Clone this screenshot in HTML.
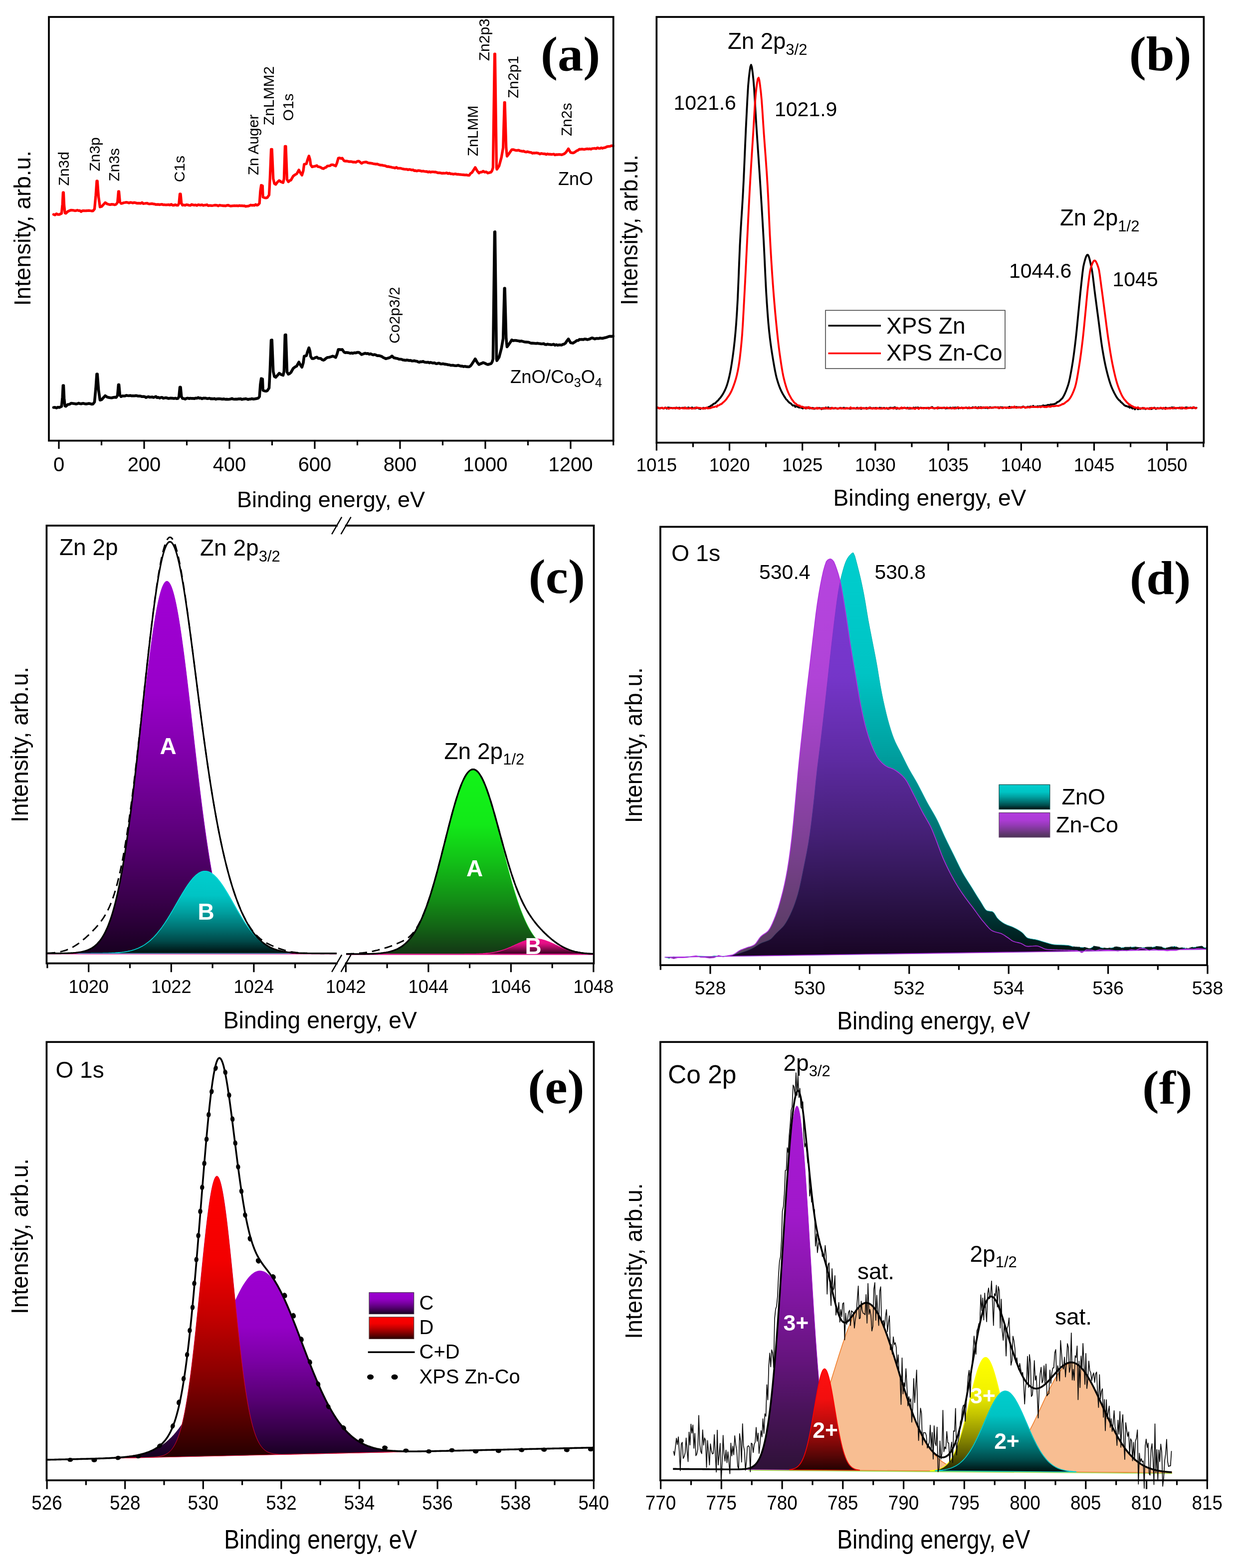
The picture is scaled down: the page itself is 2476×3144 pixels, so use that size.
<!DOCTYPE html>
<html lang="en"><head><meta charset="utf-8"><title>XPS spectra</title>
<style>
html,body{margin:0;padding:0;background:#fff}
svg{display:block;filter:blur(0.6px)}
text{font-family:"Liberation Sans",sans-serif}
.ser{font-family:"Liberation Serif",serif}
</style></head><body>
<svg width="2476" height="3144" viewBox="0 0 2476 3144">
<rect width="2476" height="3144" fill="#fff"/>
<g>
<path d="M107.4 430 L110.3 431.1 L113.2 428.6 L116.1 430.2 L119 430 L123.4 428 L125.2 410 L126.4 386 L127.4 386 L128.6 412 L130.2 427 L132 427.8 L136 424 L139.3 422.4 L142.6 421.4 L146.3 421.7 L150 422.5 L152.5 422.4 L155 421.4 L157.5 422.4 L160 422.1 L162.5 424.4 L165 422.7 L167.5 422.4 L170 422.6 L172.8 422.5 L175.5 422.3 L178.2 422.1 L181 422.5 L183.8 423 L186.5 422.8 L189.5 419 L192 392 L194 363 L195.2 363 L197.6 395 L200.5 415 L204 414 L207.5 410 L211 406.3 L215 409 L218 409.8 L221 410.3 L223.9 409.7 L226.9 409.8 L229.8 410.7 L232.8 409.8 L235.6 406 L237.5 384 L238.5 384 L240.4 405 L242.7 408 L245.3 407.7 L247.9 406.5 L250.6 406.1 L253.2 405.6 L255.8 406.1 L258.5 407 L261.1 406 L263.7 406.2 L266.3 407 L269 406.1 L271.6 406.6 L274.2 407.5 L276.9 407.5 L279.5 407.4 L282.1 407.9 L284.7 406.1 L287.4 408.4 L290 408 L292.5 407.6 L295 407.4 L297.5 408.6 L300 409 L302.5 408.5 L305 408.3 L307.5 409.1 L310 409.2 L312.5 410.2 L315 410 L317.5 409.8 L320 410.5 L322.5 409.9 L325 409.7 L327.5 410.7 L330 410.5 L332.7 410.9 L335.4 410.6 L338 410.4 L340.7 411.1 L343.4 409.7 L346.1 411.5 L348.8 411.5 L351.4 410.5 L354.1 411.5 L356.8 411.6 L358.8 408 L360.6 389 L362 389 L363.8 408 L366 411.5 L368.6 410.9 L371.2 411.8 L373.8 410.3 L376.5 410.8 L379.1 411.7 L381.7 411.9 L384.3 410 L386.9 410.9 L389.5 411.3 L392.2 410.8 L394.8 412 L397.4 410.4 L400 411 L402.5 411.3 L405 410.6 L407.5 412 L410 411.3 L412.5 411.2 L415 410.5 L417.5 412.5 L420 412 L422.5 412.1 L425 412.4 L427.5 412 L430 411.5 L432.5 411.5 L435 411.6 L437.5 412.9 L440 411.4 L442.5 411.9 L445 412.2 L447.5 412.5 L450 412.5 L452.5 412.8 L455 411.8 L457.5 411.5 L460 412.5 L462.5 413.2 L465 412.9 L467.5 412.6 L470 412.3 L472.5 412.7 L475 412.4 L477.5 412.9 L480 412.1 L482.5 412.6 L485 412.4 L487.5 412.8 L490 412.6 L492.5 413.9 L495 413.3 L497.5 413.3 L500 412.5 L502.5 411.1 L505 411.8 L507.5 411.4 L510.1 411.8 L512.6 410 L515.1 411.6 L517.6 410.7 L520.2 407.5 L522 383 L523.7 371.5 L526.3 372.4 L527.2 395.2 L530.7 396.6 L533.4 396.9 L536 396.1 L539.5 390.9 L541.3 356.6 L543.6 299.5 L545.2 299.5 L547.8 358.4 L550.1 368 L552.7 369.8 L556.2 365.1 L559.7 361.9 L563.2 364.5 L567.6 366.3 L569.4 358.4 L571.4 293.4 L573 293.4 L575.5 360.1 L578.2 364.5 L580.8 362.2 L583.4 361 L587.8 353.1 L591.3 350.5 L594.8 348.7 L599.2 340.8 L601.9 346.1 L605.4 351.3 L608 342.5 L609.8 329.4 L614.2 328.5 L616.8 319.7 L619.4 312.7 L621.5 319.7 L622.9 330.3 L625.6 334.6 L628.8 333.8 L632 333.2 L635.2 332 L637.9 334.4 L640.5 334.6 L643.1 335.7 L645.8 337.4 L648.4 338.2 L651 336.5 L653.7 335.6 L656.3 332.9 L658.9 332.7 L661.6 332.4 L664.2 330.4 L666.9 330.3 L670 331.5 L673 332.9 L675.6 326.7 L678.3 317.1 L680.9 316.7 L683.6 317.9 L686.2 317.1 L689.7 322.4 L692.2 323.1 L694.7 323 L697.2 323.3 L699.8 324.2 L702.3 323.9 L704.8 324.1 L707.3 325 L710.3 324.8 L713.4 325.5 L716.5 323.5 L719.5 323.2 L722.1 325.1 L724.8 327.6 L728.3 325.7 L731.8 325 L734.6 324.8 L737.4 326.3 L740.3 327 L743.1 327.1 L745.9 327.6 L748.4 328.3 L750.9 328.7 L753.4 329.2 L756 328.8 L758.5 329.8 L761 330.7 L763.5 331.1 L766 331.2 L768.5 331.8 L771 332.1 L773.5 332.9 L776 334.1 L778.5 333.9 L781 334.6 L783.7 334.9 L786.4 335.8 L789.1 336.1 L791.9 337.1 L794.6 335.4 L797.3 337.4 L800 337.3 L802.5 337.3 L805.1 338 L807.6 338.7 L810.2 339.2 L812.7 339.4 L815.2 339.3 L817.8 340.4 L820.3 339.7 L822.9 340.1 L825.4 340.9 L827.9 340.5 L830.5 342.3 L833 342 L835.6 342.9 L838.1 342 L840.6 342.1 L843.2 342.7 L845.7 343.4 L848.3 343 L850.8 343.6 L853.3 344 L855.8 344 L858.3 345.2 L860.8 344.1 L863.3 345.3 L865.8 344.6 L868.3 344.6 L870.9 345 L873.4 344.9 L875.9 345.9 L878.4 346.6 L880.9 346.3 L883.4 346.8 L885.9 347.6 L888.4 347.1 L890.9 347.3 L893.4 347.2 L895.9 346.7 L898.4 348.2 L900.9 347.1 L903.5 348.6 L906 348.5 L908.5 349.3 L911 348.9 L913.5 348.7 L916 349.6 L918.5 349.3 L921 349.8 L923.8 350 L926.6 350.4 L929.4 350.5 L932.2 350.8 L935 350.7 L937.8 351.3 L940.6 351.7 L943.4 347.7 L946.2 346 L949.5 340.8 L952.8 335.7 L956.5 342.3 L960.3 347 L963.1 345.1 L965.9 345.1 L968.7 343.2 L971.8 345.2 L974.9 344.7 L978 347 L981.3 346.1 L984.6 345.1 L986.6 342 L988.4 336 L991.6 108.1 L992.4 108.1 L995.5 336 L996.2 339.5 L1000.6 332.9 L1005.2 316 L1008.7 296 L1011.3 205.5 L1012.1 205.5 L1014.8 296 L1016.5 313.3 L1020.2 308.6 L1023.1 304.3 L1025.9 300.1 L1029.2 300 L1032.4 301 L1034.9 301.7 L1037.4 301.5 L1039.9 301.2 L1042.4 302.4 L1044.9 302.8 L1047.4 303.3 L1049.9 303 L1052.4 304.4 L1054.9 304.8 L1057.4 304.2 L1059.9 304.8 L1062.4 305.5 L1064.9 305.6 L1067.4 307.3 L1069.9 306.7 L1072.4 307 L1074.9 306.5 L1077.4 306.8 L1079.9 307.4 L1082.4 308.9 L1084.9 307.7 L1087.4 308.1 L1089.9 308.5 L1092.4 308.4 L1094.9 309.8 L1097.4 308.5 L1099.9 309.3 L1102.4 309.2 L1104.9 309.7 L1107.4 309.5 L1110.1 309 L1112.7 310.7 L1115.4 309.8 L1118 310 L1120.7 309.6 L1123.3 309.9 L1126 310.4 L1128.5 309.5 L1131.1 308.5 L1133.6 306.7 L1136.6 302.9 L1139.6 298.3 L1143.9 305.8 L1148.6 306.7 L1151.2 305.9 L1153.8 304.1 L1156.5 302.2 L1159.1 301.2 L1161.7 299.2 L1164.3 299.4 L1166.8 298.9 L1169.4 299.3 L1172 299.5 L1174.6 298.8 L1177.2 298.3 L1179.7 298.8 L1182.3 298.3 L1184.9 299.2 L1187.4 297.8 L1190 297.7 L1192.5 297.5 L1195.1 298.1 L1197.6 296.3 L1200.2 297.3 L1202.7 297.6 L1205.3 296.3 L1207.8 297.4 L1210.4 296.4 L1213.5 295.8 L1216.7 294.2 L1219.8 293.6 L1222.9 293.4 L1226 292.1 L1229.1 292.6" fill="none" stroke="#f00" stroke-width="5.3" stroke-linejoin="round" stroke-linecap="round"/>
<path d="M107.4 817 L110.3 816.7 L113.2 818 L116.1 816.5 L119 817 L123.4 815 L125.2 797 L126.4 773 L127.4 773 L128.6 799 L130.2 814 L132 814.8 L136 811 L139.3 810.8 L142.6 808.5 L146.3 809 L150 809.6 L152.5 810.1 L155 809.6 L157.5 808.4 L160 809.3 L162.5 809.8 L165 809 L167.5 808.9 L170 809.7 L172.8 809.9 L175.5 809.4 L178.2 808.9 L181 809.5 L183.8 810.4 L186.5 809.9 L189.5 806.1 L192 779.1 L194 750.1 L195.2 750.1 L197.6 782.2 L200.5 802.2 L204 801.2 L207.5 797.1 L211 793.5 L215 796.2 L218 797 L221 797.5 L223.9 797.8 L226.9 797 L229.8 796.4 L232.8 797 L235.6 793.2 L237.5 771.2 L238.5 771.2 L240.4 792.2 L242.7 795.2 L245.3 793.9 L247.9 794 L250.6 793.9 L253.2 792.8 L255.8 793.2 L258.5 793.5 L261.1 793.1 L263.7 793.7 L266.3 793.5 L269 793.7 L271.6 793.4 L274.2 793.4 L276.9 794.2 L279.5 794 L282.1 794.3 L284.7 795.3 L287.4 795.1 L290 795.3 L292.5 797.1 L295 796.1 L297.5 795.4 L300 796.4 L302.5 796.3 L305 795.9 L307.5 797 L310 796.2 L312.5 795.1 L315 797.4 L317.5 796.7 L320 798.1 L322.5 797 L325 796.9 L327.5 798.6 L330 797.9 L332.7 797.4 L335.4 798.2 L338 799 L340.7 798.4 L343.4 798.4 L346.1 798.6 L348.8 799.1 L351.4 798.4 L354.1 799.2 L356.8 799 L358.8 795.4 L360.6 776.4 L362 776.4 L363.8 795.4 L366 798.9 L368.6 799.2 L371.2 800.2 L373.8 798.7 L376.5 798.3 L379.1 799.2 L381.7 798.5 L384.3 798.9 L386.9 798.7 L389.5 799.3 L392.2 798.2 L394.8 798.5 L397.4 797.1 L400 798.5 L402.5 798.1 L405 799.5 L407.5 798.4 L410 798.4 L412.5 798.2 L415 799.3 L417.5 799.1 L420 798.5 L422.5 799.6 L425 799.4 L427.5 799.8 L430 799.1 L432.5 800.5 L435 799.8 L437.5 799.6 L440 799.5 L442.5 799.7 L445 800.4 L447.5 799.9 L450 800.1 L452.5 800.7 L455 800.4 L457.5 800.8 L460 800.5 L462.5 800.1 L465 799.1 L467.5 800.3 L470 800.5 L472.5 800.2 L475 800.4 L477.5 799.9 L480 799.9 L482.5 799.6 L485 800.9 L487.5 800.2 L490 799.9 L492.5 799.4 L495 800.1 L497.5 801 L500 800.2 L502.5 800.2 L505 799.3 L507.5 800.2 L510.1 799.9 L512.6 799.4 L515.1 799.1 L517.6 798.4 L520.2 795.2 L522 770.6 L523.7 759.1 L526.3 759.9 L527.2 782.7 L530.7 784 L533.4 784.3 L536 783.3 L539.5 778 L541.3 743.6 L543.6 682 L545.2 681.9 L547.8 745.2 L550.1 754.8 L552.7 756.5 L556.2 752.7 L559.7 748.4 L563.2 750.8 L567.6 752.5 L569.4 744.6 L571.4 671.5 L573 671.4 L575.5 746.1 L578.2 750.4 L580.8 749 L583.4 746.7 L587.8 738.7 L591.3 735.9 L594.8 734.1 L599.2 726 L601.9 731.2 L605.4 736.3 L608 727.5 L609.8 714.3 L614.2 713.3 L616.8 704.4 L619.4 697.3 L621.5 704.3 L622.9 714.8 L625.6 719 L628.8 718.9 L632 717.2 L635.2 716.1 L637.9 718.5 L640.5 718.6 L643.1 718.7 L645.8 721.3 L648.4 722.1 L651 720.9 L653.7 718.4 L656.3 716.8 L658.9 716.4 L661.6 715.9 L664.2 715.1 L666.9 714.1 L670 715.1 L673 716.7 L675.6 710.4 L678.3 700.8 L680.9 700.7 L683.6 701.3 L686.2 700.8 L689.7 706 L692.2 707.1 L694.7 706.8 L697.2 707.1 L699.8 707.6 L702.3 708.4 L704.8 707.6 L707.3 708.5 L710.3 707.3 L713.4 707.6 L716.5 706.5 L719.5 706.6 L722.1 708.5 L724.8 711 L728.3 709.7 L731.8 708.3 L734.6 709.1 L737.4 708.8 L740.3 710.3 L743.1 709.4 L745.9 710.8 L748.4 711.6 L750.9 710.9 L753.4 711.6 L756 713.1 L758.5 713 L761 713.3 L763.5 714.2 L766 715.2 L768.5 717 L771 718 L773.5 719.3 L776.8 718.4 L780 717.5 L782.9 716.2 L785.8 713.8 L790 717.6 L794.6 718.6 L797.3 719 L800 720.2 L802.5 720.2 L805.1 720.5 L807.6 721.7 L810.2 721.9 L812.7 722.4 L815.2 721.9 L817.8 722.2 L820.3 723 L822.9 722.6 L825.4 723.6 L827.9 723.8 L830.5 723.3 L833 724 L835.6 724.3 L838.1 725.6 L840.6 726.3 L843.2 725.2 L845.7 725.5 L848.3 724.6 L850.8 726.1 L853.3 726.5 L855.8 726.6 L858.3 726.3 L860.8 727.6 L863.3 726.5 L865.8 727.5 L868.3 728 L870.9 727.5 L873.4 728.9 L875.9 729.3 L878.4 728.2 L880.9 728.4 L883.4 729.8 L885.9 729.7 L888.4 729.3 L890.9 730.1 L893.4 730.4 L895.9 730.7 L898.4 731.5 L900.9 731.5 L903.5 732.5 L906 732.5 L908.5 732.4 L911 732.9 L913.5 733.3 L916 733.2 L918.5 732.4 L921 733.3 L923.8 734.1 L926.6 734 L929.4 735.1 L932.2 734.6 L935 735.2 L937.8 735.4 L940.6 735.5 L943.4 733.6 L946.2 729.8 L949.5 724.8 L952.8 719.6 L956.5 726.2 L960.3 730.9 L963.1 729.5 L965.9 728.5 L968.7 727.1 L971.8 728.2 L974.9 729.8 L978 731 L981.3 730 L984.6 729.1 L986.6 726 L988.4 720 L991.6 465 L992.4 464.9 L995.5 719.6 L996.2 723.1 L1000.6 716.2 L1005.2 698.9 L1008.7 678.7 L1011.3 578.1 L1012.1 578 L1014.8 678.3 L1016.5 695.5 L1020.2 690.5 L1023.1 686.2 L1025.9 681.6 L1029.2 683.1 L1032.4 682.5 L1034.9 682.7 L1037.4 683.3 L1039.9 683.5 L1042.4 684.4 L1044.9 683.7 L1047.4 684.4 L1049.9 685.1 L1052.4 685.8 L1054.9 685.9 L1057.4 686 L1059.9 686.2 L1062.4 687.3 L1064.9 688.2 L1067.4 688 L1069.9 688.2 L1072.4 688.5 L1074.9 688.8 L1077.4 688.2 L1079.9 688.7 L1082.4 689 L1084.9 689.5 L1087.4 689.5 L1089.9 689 L1092.4 690.5 L1094.9 691 L1097.4 690.1 L1099.9 690.6 L1102.4 690.7 L1104.9 691.2 L1107.4 691 L1110.1 690.3 L1112.7 692.1 L1115.4 691.1 L1118 692.2 L1120.7 691.6 L1123.3 691.5 L1126 691.9 L1128.5 690.5 L1131.1 689.9 L1133.6 688.1 L1136.6 683.5 L1139.6 679.7 L1143.9 687.2 L1148.6 688.1 L1151.2 686.4 L1153.8 684.9 L1156.5 682.7 L1159.1 682.8 L1161.7 680.6 L1164.3 680.8 L1166.8 680.4 L1169.4 680.9 L1172 679.7 L1174.6 680 L1177.2 680.9 L1179.7 680.4 L1182.3 679.7 L1184.9 678.3 L1187.4 677.5 L1190 678.6 L1192.5 679.6 L1195.1 678.6 L1197.6 678.6 L1200.2 678.8 L1202.7 677.8 L1205.3 678.3 L1207.8 678.4 L1210.4 677.8 L1213.5 677.1 L1216.7 676.2 L1219.8 675 L1222.9 674.3 L1226 674.6 L1229.1 674" fill="none" stroke="#000" stroke-width="5.6" stroke-linejoin="round" stroke-linecap="round"/>
<rect x="98" y="34" width="1131.7" height="849.6" fill="none" stroke="#000" stroke-width="3.7"/>
<path d="M118 883.6v16.5M289 883.6v16.5M460 883.6v16.5M631 883.6v16.5M802 883.6v16.5M973 883.6v16.5M1144 883.6v16.5" stroke="#000" stroke-width="3.2" fill="none"/>
<path d="M203.5 883.6v9.5M374.5 883.6v9.5M545.5 883.6v9.5M716.5 883.6v9.5M887.5 883.6v9.5M1058.5 883.6v9.5M1229.7 883.6v9.5" stroke="#000" stroke-width="3.2" fill="none"/>
<text x="118" y="944.5" font-size="40" text-anchor="middle">0</text><text x="289" y="944.5" font-size="40" text-anchor="middle">200</text><text x="460" y="944.5" font-size="40" text-anchor="middle">400</text><text x="631" y="944.5" font-size="40" text-anchor="middle">600</text><text x="802" y="944.5" font-size="40" text-anchor="middle">800</text><text x="973" y="944.5" font-size="40" text-anchor="middle">1000</text><text x="1144" y="944.5" font-size="40" text-anchor="middle">1200</text>
<text x="663.5" y="1017" font-size="45" text-anchor="middle">Binding energy, eV</text>
<text font-size="46" text-anchor="middle" transform="translate(60.6 457.6) rotate(-90)">Intensity, arb.u.</text>
<text font-size="30" transform="translate(137.6 372.4) rotate(-90)">Zn3d</text>
<text font-size="30" transform="translate(199.8 343.6) rotate(-90)">Zn3p</text>
<text font-size="30" transform="translate(238.5 363.6) rotate(-90)">Zn3s</text>
<text font-size="30" transform="translate(369.8 365.3) rotate(-90)">C1s</text>
<text font-size="30" transform="translate(518.4 351.3) rotate(-90)">Zn Auger</text>
<text font-size="30" transform="translate(549 251.2) rotate(-90)">ZnLMM2</text>
<text font-size="30" transform="translate(588 242.4) rotate(-90)">O1s</text>
<text font-size="30" transform="translate(957.5 313.3) rotate(-90)">ZnLMM</text>
<text font-size="30" transform="translate(981.4 122.3) rotate(-90)">Zn2p3</text>
<text font-size="30" transform="translate(1039 197.1) rotate(-90)">Zn2p1</text>
<text font-size="30" transform="translate(1145.8 273) rotate(-90)">Zn2s</text>
<text font-size="30" transform="translate(800.9 688.7) rotate(-90)">Co2p3/2</text>
<text x="1119" y="371.3" font-size="36">ZnO</text>
<text x="1023" y="767.8" font-size="36.5">ZnO/Co<tspan font-size="25" dy="8">3</tspan><tspan font-size="36.5" dy="-8">O</tspan><tspan font-size="25" dy="8">4</tspan></text>
<text font-size="97" class="ser" text-anchor="middle" font-weight="bold" transform="translate(1143.6 140.5) scale(1.054 1)">(a)</text>
</g>
<g>
<path d="M1316.9 817.5 L1318.4 817.2 L1319.9 817.9 L1321.4 818.4 L1322.9 818.9 L1324.4 818.2 L1325.9 817.8 L1327.4 817.6 L1328.9 818.7 L1330.4 819.3 L1331.9 818.4 L1333.4 817.3 L1334.9 817.5 L1336.4 819.3 L1337.9 818.4 L1339.4 817 L1340.9 818.2 L1342.4 817.4 L1343.9 817.8 L1345.4 817.9 L1346.9 817.8 L1348.4 818.7 L1349.9 818.3 L1351.4 817.9 L1352.9 818.6 L1354.4 818.9 L1355.9 817.2 L1357.4 818.2 L1358.9 817.7 L1360.4 818.2 L1361.9 817.5 L1363.4 818.4 L1364.9 818.3 L1366.4 818.2 L1367.9 817.6 L1369.4 818.1 L1370.9 817.6 L1372.4 817.4 L1373.9 818.6 L1375.4 817.6 L1376.9 819.2 L1378.4 818.9 L1379.9 817 L1381.4 818.6 L1382.9 817.6 L1384.4 818.4 L1385.9 818.4 L1387.4 817 L1388.9 818.2 L1390.4 818.2 L1391.9 819 L1393.4 817.5 L1394.9 818.9 L1396.4 817.6 L1397.9 818.1 L1399.4 817.7 L1400.9 819.3 L1402.4 818.7 L1403.9 820 L1405.4 818.7 L1406.9 818.8 L1408.4 818.8 L1409.9 817.7 L1411.4 818.1 L1412.9 819.1 L1414.4 817.8 L1415.9 818 L1417.4 817.5 L1418.9 817.4 L1420.4 816.2 L1421.9 815.6 L1423.4 815.1 L1424.9 814.1 L1426.4 812.7 L1427.9 812.7 L1429.4 810.6 L1430.9 809.8 L1432.4 808.8 L1433.9 808.7 L1435.4 806.9 L1436.9 805.3 L1438.4 803.8 L1439.9 802.7 L1441.4 800.6 L1442.9 798.9 L1444.4 797.3 L1445.9 795.2 L1447.4 793.1 L1448.9 790.7 L1450.4 788.2 L1451.9 785.4 L1453.4 782.3 L1454.9 778.9 L1456.4 775.2 L1457.9 770.8 L1459.4 765.7 L1460.9 760 L1462.4 753.7 L1463.9 746.7 L1465.4 738.6 L1466.9 729.5 L1468.4 719.5 L1469.9 708.7 L1471.4 696.8 L1472.9 683.3 L1474.4 667.8 L1475.9 649.7 L1477.4 627.3 L1478.9 600.6 L1480.4 565.9 L1481.9 527.2 L1483.4 491.5 L1484.9 463.4 L1486.4 439.2 L1487.9 416 L1489.4 391.1 L1490.9 361.6 L1492.4 327.4 L1493.9 291.8 L1495.4 258.1 L1496.9 228.1 L1498.4 198.4 L1499.9 173 L1501.4 156.4 L1502.9 143.5 L1504.4 133.8 L1505.9 130 L1507.4 134.5 L1508.9 145.4 L1510.4 159.1 L1511.9 176.9 L1513.4 201.3 L1514.9 227.8 L1516.4 252.1 L1517.9 274.7 L1519.4 296.9 L1520.9 319.1 L1522.4 341.4 L1523.9 364.3 L1525.4 388 L1526.9 412 L1528.4 436.5 L1529.9 462.1 L1531.4 489.1 L1532.9 520 L1534.4 552.6 L1535.9 582.3 L1537.4 606.4 L1538.9 628.1 L1540.4 647.1 L1541.9 662.9 L1543.4 676.4 L1544.9 688.2 L1546.4 698.9 L1547.9 708.7 L1549.4 718 L1550.9 727 L1552.4 735.6 L1553.9 743.6 L1555.4 750.9 L1556.9 757.2 L1558.4 762.5 L1559.9 767.4 L1561.4 771.9 L1562.9 776 L1564.4 779.7 L1565.9 783.1 L1567.4 786.2 L1568.9 789 L1570.4 791.6 L1571.9 794.1 L1573.4 796.4 L1574.9 798.8 L1576.4 801 L1577.9 802 L1579.4 804.1 L1580.9 805.6 L1582.4 807.3 L1583.9 808.2 L1585.4 809.2 L1586.9 810.3 L1588.4 812.3 L1589.9 813.4 L1591.4 812.7 L1592.9 813.2 L1594.4 815.9 L1595.9 814.2 L1597.4 814.9 L1598.9 815.7 L1600.4 816.3 L1601.9 817.1 L1603.4 817 L1604.9 816.5 L1606.4 817.7 L1607.9 817.8 L1609.4 819.1 L1610.9 817.9 L1612.4 817.1 L1613.9 817.4 L1615.4 819.1 L1616.9 817.8 L1618.4 816.7 L1619.9 817.8 L1621.4 818.2 L1622.9 819.1 L1624.4 817.5 L1625.9 818.7 L1627.4 818.8 L1628.9 817.8 L1630.4 818.2 L1631.9 819.6 L1633.4 819.5 L1634.9 818.9 L1636.4 818.6 L1637.9 819.2 L1639.4 818.3 L1640.9 818.3 L1642.4 817.8 L1643.9 818.4 L1645.4 818.4 L1646.9 820.4 L1648.4 818.3 L1649.9 819.4 L1651.4 819.4 L1652.9 818.4 L1654.4 819.3 L1655.9 817 L1657.4 818.6 L1658.9 819.1 L1660.4 816.8 L1661.9 817.7 L1663.4 819.3 L1664.9 818.4 L1666.4 817.8 L1667.9 818.3 L1669.4 818.2 L1670.9 819.1 L1672.4 818.9 L1673.9 818.4 L1675.4 818.1 L1676.9 818.5 L1678.4 819.5 L1679.9 818.8 L1681.4 819 L1682.9 818.5 L1684.4 817.7 L1685.9 818.1 L1687.4 819 L1688.9 818.7 L1690.4 818 L1691.9 817.5 L1693.4 818.7 L1694.9 818.4 L1696.4 818.4 L1697.9 818.4 L1699.4 818.8 L1700.9 818.8 L1702.4 819.3 L1703.9 819.2 L1705.4 819.5 L1706.9 819.2 L1708.4 818.4 L1709.9 818.6 L1711.4 818.9 L1712.9 818.4 L1714.4 819 L1715.9 819.4 L1717.4 818 L1718.9 817.4 L1720.4 819.4 L1721.9 818.6 L1723.4 819.1 L1724.9 817.7 L1726.4 819.8 L1727.9 819.1 L1729.4 818.5 L1730.9 818.3 L1732.4 818.7 L1733.9 818.5 L1735.4 818.4 L1736.9 817.8 L1738.4 819.5 L1739.9 818.5 L1741.4 818.6 L1742.9 818.6 L1744.4 816.9 L1745.9 818.9 L1747.4 818.3 L1748.9 818.3 L1750.4 818.6 L1751.9 817.9 L1753.4 819.1 L1754.9 818 L1756.4 817.9 L1757.9 817.9 L1759.4 818.6 L1760.9 819 L1762.4 818.1 L1763.9 817.5 L1765.4 819.3 L1766.9 817.8 L1768.4 819.3 L1769.9 818.5 L1771.4 818 L1772.9 818 L1774.4 818.8 L1775.9 819.1 L1777.4 818.3 L1778.9 819.1 L1780.4 819.9 L1781.9 818.3 L1783.4 817.7 L1784.9 817.7 L1786.4 817.5 L1787.9 818 L1789.4 817.9 L1790.9 817.5 L1792.4 818.8 L1793.9 816.6 L1795.4 817.5 L1796.9 819.8 L1798.4 819.1 L1799.9 818.8 L1801.4 818.7 L1802.9 819.6 L1804.4 818.8 L1805.9 818.4 L1807.4 817.5 L1808.9 818.3 L1810.4 817.8 L1811.9 817.9 L1813.4 817.8 L1814.9 818.3 L1816.4 818.1 L1817.9 818.9 L1819.4 817.4 L1820.9 818.2 L1822.4 819.6 L1823.9 818.3 L1825.4 819.1 L1826.9 819.1 L1828.4 819.2 L1829.9 818.8 L1831.4 817.3 L1832.9 818.1 L1834.4 818 L1835.9 817.1 L1837.4 817.9 L1838.9 817.3 L1840.4 817 L1841.9 818.3 L1843.4 818.2 L1844.9 817.7 L1846.4 817.5 L1847.9 817.8 L1849.4 817.9 L1850.9 817.9 L1852.4 818.1 L1853.9 817.8 L1855.4 818.4 L1856.9 818.5 L1858.4 818.4 L1859.9 817.6 L1861.4 817.7 L1862.9 818.4 L1864.4 817.9 L1865.9 818 L1867.4 816.3 L1868.9 816.2 L1870.4 818.3 L1871.9 818.3 L1873.4 819 L1874.9 818.5 L1876.4 818.2 L1877.9 818 L1879.4 817 L1880.9 818.6 L1882.4 817.5 L1883.9 818.3 L1885.4 818.1 L1886.9 818.1 L1888.4 818.5 L1889.9 817.6 L1891.4 817.6 L1892.9 817.3 L1894.4 817.6 L1895.9 819 L1897.4 817.6 L1898.9 818.7 L1900.4 818.4 L1901.9 818.3 L1903.4 818.4 L1904.9 817.1 L1906.4 818 L1907.9 818.9 L1909.4 817.3 L1910.9 817.7 L1912.4 817.3 L1913.9 818 L1915.4 817 L1916.9 818.8 L1918.4 817.4 L1919.9 816.6 L1921.4 818.9 L1922.9 818.3 L1924.4 818 L1925.9 818 L1927.4 817.4 L1928.9 817.5 L1930.4 818.1 L1931.9 818.2 L1933.4 818.2 L1934.9 817.7 L1936.4 817.2 L1937.9 817.4 L1939.4 818.3 L1940.9 818.5 L1942.4 817.3 L1943.9 817.2 L1945.4 818.3 L1946.9 818 L1948.4 817.9 L1949.9 816.6 L1951.4 817.2 L1952.9 817.1 L1954.4 817.6 L1955.9 816.3 L1957.4 818.2 L1958.9 817.6 L1960.4 817.7 L1961.9 816.5 L1963.4 817.3 L1964.9 818.2 L1966.4 816.2 L1967.9 817.5 L1969.4 817.8 L1970.9 816.8 L1972.4 817.8 L1973.9 817 L1975.4 818.1 L1976.9 817.6 L1978.4 817.4 L1979.9 818.5 L1981.4 817.7 L1982.9 818 L1984.4 816.3 L1985.9 816.7 L1987.4 817.7 L1988.9 817.7 L1990.4 817.1 L1991.9 817.6 L1993.4 816.4 L1994.9 817.2 L1996.4 816.3 L1997.9 817.2 L1999.4 816.7 L2000.9 816.6 L2002.4 817 L2003.9 818.2 L2005.4 816.3 L2006.9 816.5 L2008.4 817.6 L2009.9 816.6 L2011.4 818.1 L2012.9 817 L2014.4 816.9 L2015.9 817.1 L2017.4 818 L2018.9 817.2 L2020.4 817.1 L2021.9 816.9 L2023.4 815.7 L2024.9 816.1 L2026.4 817.7 L2027.9 817.2 L2029.4 817 L2030.9 817 L2032.4 816.2 L2033.9 816.8 L2035.4 815.9 L2036.9 816.8 L2038.4 816 L2039.9 816.3 L2041.4 816.7 L2042.9 816.2 L2044.4 816.8 L2045.9 816.6 L2047.4 816.5 L2048.9 817.1 L2050.4 815.3 L2051.9 815.1 L2053.4 816.5 L2054.9 816.7 L2056.4 817.3 L2057.9 816.5 L2059.4 816.5 L2060.9 815.4 L2062.4 816.4 L2063.9 816.3 L2065.4 815.1 L2066.9 815.2 L2068.4 815.6 L2069.9 815.8 L2071.4 813.7 L2072.9 815.6 L2074.4 815.6 L2075.9 815.3 L2077.4 815.5 L2078.9 815.5 L2080.4 814.5 L2081.9 815.2 L2083.4 814.7 L2084.9 814.2 L2086.4 814.7 L2087.9 815.4 L2089.4 813.5 L2090.9 813.2 L2092.4 813 L2093.9 815 L2095.4 813.5 L2096.9 813.4 L2098.4 812.8 L2099.9 812.5 L2101.4 811.6 L2102.9 812.6 L2104.4 812.4 L2105.9 811 L2107.4 811.2 L2108.9 811 L2110.4 810.9 L2111.9 810.5 L2113.4 810.4 L2114.9 809.8 L2116.4 809 L2117.9 808.3 L2119.4 806.5 L2120.9 805.8 L2122.4 805.4 L2123.9 804.1 L2125.4 802.9 L2126.9 801.2 L2128.4 799.9 L2129.9 798.5 L2131.4 796.1 L2132.9 793.4 L2134.4 790.4 L2135.9 787 L2137.4 783.4 L2138.9 779.4 L2140.4 775.2 L2141.9 770.6 L2143.4 764.9 L2144.9 758.1 L2146.4 750.5 L2147.9 742.3 L2149.4 733.7 L2150.9 724.4 L2152.4 714.1 L2153.9 702.7 L2155.4 690.5 L2156.9 677.7 L2158.4 663.7 L2159.9 648.5 L2161.4 633 L2162.9 617.8 L2164.4 602.4 L2165.9 587.3 L2167.4 573.2 L2168.9 559.4 L2170.4 546 L2171.9 535 L2173.4 528.2 L2174.9 522.4 L2176.4 517.4 L2177.9 513.5 L2179.4 511.2 L2180.9 510.9 L2182.4 513.1 L2183.9 517.5 L2185.4 523.5 L2186.9 530.4 L2188.4 537.5 L2189.9 546 L2191.4 557.1 L2192.9 569.5 L2194.4 582.1 L2195.9 593.8 L2197.4 605.1 L2198.9 616.4 L2200.4 627.7 L2201.9 639 L2203.4 650.4 L2204.9 662.3 L2206.4 674.1 L2207.9 685.3 L2209.4 695.5 L2210.9 704.6 L2212.4 713.2 L2213.9 721.3 L2215.4 728.8 L2216.9 735.8 L2218.4 742.2 L2219.9 748.2 L2221.4 753.9 L2222.9 759.3 L2224.4 764.4 L2225.9 769 L2227.4 773.3 L2228.9 777 L2230.4 780.4 L2231.9 783.7 L2233.4 786.8 L2234.9 789.7 L2236.4 792.4 L2237.9 794.9 L2239.4 797.4 L2240.9 799.4 L2242.4 801.1 L2243.9 802.7 L2245.4 803.5 L2246.9 806 L2248.4 806.8 L2249.9 808.5 L2251.4 809.7 L2252.9 811.3 L2254.4 812.9 L2255.9 813.3 L2257.4 814.3 L2258.9 814.2 L2260.4 815.1 L2261.9 815.8 L2263.4 814.9 L2264.9 817.6 L2266.4 816.2 L2267.9 816.2 L2269.4 818.6 L2270.9 819.3 L2272.4 817.6 L2273.9 818 L2275.4 820.8 L2276.9 818.9 L2278.4 817.6 L2279.9 818.6 L2281.4 820.5 L2282.9 819.6 L2284.4 819.6 L2285.9 820 L2287.4 819.6 L2288.9 818.9 L2290.4 818 L2291.9 819.4 L2293.4 818.3 L2294.9 819 L2296.4 820.3 L2297.9 819.4 L2299.4 819.1 L2300.9 819.1 L2302.4 819.5 L2303.9 819.6 L2305.4 818.1 L2306.9 819.1 L2308.4 820.2 L2309.9 819.5 L2311.4 818.4 L2312.9 818.4 L2314.4 817.4 L2315.9 818.3 L2317.4 820 L2318.9 818.8 L2320.4 818.2 L2321.9 818.4 L2323.4 818.7 L2324.9 818.7 L2326.4 818.5 L2327.9 818.2 L2329.4 819.1 L2330.9 819.7 L2332.4 818.2 L2333.9 818.2 L2335.4 819.4 L2336.9 817.5 L2338.4 818.1 L2339.9 818.3 L2341.4 818.6 L2342.9 818.3 L2344.4 817.8 L2345.9 818.6 L2347.4 817.6 L2348.9 817.2 L2350.4 816.9 L2351.9 818.8 L2353.4 817.1 L2354.9 818.6 L2356.4 818.7 L2357.9 818.8 L2359.4 818.1 L2360.9 817.8 L2362.4 818.2 L2363.9 817.7 L2365.4 817.2 L2366.9 818.9 L2368.4 817.4 L2369.9 819.2 L2371.4 818.3 L2372.9 817.6 L2374.4 818.2 L2375.9 818.7 L2377.4 816.9 L2378.9 817.2 L2380.4 817.1 L2381.9 817.9 L2383.4 818 L2384.9 817.8 L2386.4 817.2 L2387.9 817.3 L2389.4 818.5 L2390.9 818.4 L2392.4 817.7 L2393.9 816.7 L2395.4 818 L2396.9 817.8 L2398.4 817.7 L2399.9 818.7" fill="none" stroke="#000" stroke-width="3.8" stroke-linejoin="round"/>
<path d="M1316.9 818.7 L1318.4 817.4 L1319.9 817.4 L1321.4 819.1 L1322.9 818.3 L1324.4 818.8 L1325.9 818.1 L1327.4 817.5 L1328.9 818.4 L1330.4 819.3 L1331.9 818.5 L1333.4 817.5 L1334.9 818.1 L1336.4 817.9 L1337.9 818.4 L1339.4 819 L1340.9 819.7 L1342.4 818.5 L1343.9 818.1 L1345.4 818.4 L1346.9 818.4 L1348.4 818.1 L1349.9 818.4 L1351.4 818.4 L1352.9 817.6 L1354.4 818.8 L1355.9 818.2 L1357.4 817.8 L1358.9 818.8 L1360.4 818.2 L1361.9 819.7 L1363.4 818.8 L1364.9 818.6 L1366.4 818 L1367.9 818.3 L1369.4 819.1 L1370.9 818.1 L1372.4 819.1 L1373.9 817.1 L1375.4 818.7 L1376.9 819.2 L1378.4 818.8 L1379.9 818.6 L1381.4 819.3 L1382.9 818 L1384.4 817.9 L1385.9 818.7 L1387.4 819.5 L1388.9 818.9 L1390.4 818.5 L1391.9 818.9 L1393.4 819 L1394.9 817.8 L1396.4 816.7 L1397.9 817.9 L1399.4 817.6 L1400.9 818.2 L1402.4 817.8 L1403.9 818 L1405.4 818.9 L1406.9 818.7 L1408.4 818.5 L1409.9 819.7 L1411.4 818.2 L1412.9 818.2 L1414.4 819.3 L1415.9 817.6 L1417.4 817.1 L1418.9 819.1 L1420.4 818.4 L1421.9 818.5 L1423.4 818.4 L1424.9 818.3 L1426.4 817.1 L1427.9 817 L1429.4 816 L1430.9 816.4 L1432.4 816 L1433.9 815 L1435.4 815.1 L1436.9 815.8 L1438.4 812.8 L1439.9 813.3 L1441.4 812.6 L1442.9 811.9 L1444.4 810.3 L1445.9 810.4 L1447.4 809.2 L1448.9 807.7 L1450.4 806.4 L1451.9 805.1 L1453.4 803.7 L1454.9 802 L1456.4 800.3 L1457.9 797.9 L1459.4 795.9 L1460.9 793.7 L1462.4 791.5 L1463.9 789 L1465.4 786.2 L1466.9 783.1 L1468.4 779.6 L1469.9 775.7 L1471.4 771.6 L1472.9 767.3 L1474.4 762.7 L1475.9 757.5 L1477.4 751.6 L1478.9 744.9 L1480.4 737.2 L1481.9 727.9 L1483.4 716.7 L1484.9 703.6 L1486.4 688.5 L1487.9 671.1 L1489.4 647.9 L1490.9 620.7 L1492.4 592.6 L1493.9 564.2 L1495.4 534.1 L1496.9 503.5 L1498.4 473.4 L1499.9 442.7 L1501.4 412.3 L1502.9 383.6 L1504.4 357.3 L1505.9 332.4 L1507.4 308.5 L1508.9 285.1 L1510.4 261.6 L1511.9 236 L1513.4 211 L1514.9 190.8 L1516.4 177.5 L1517.9 166 L1519.4 157.9 L1520.9 155.8 L1522.4 161.1 L1523.9 171.6 L1525.4 184.2 L1526.9 199.7 L1528.4 220.6 L1529.9 243.9 L1531.4 266.6 L1532.9 287.2 L1534.4 307.2 L1535.9 327.6 L1537.4 349.2 L1538.9 373.1 L1540.4 401.6 L1541.9 435.8 L1543.4 469.6 L1544.9 497.9 L1546.4 523.1 L1547.9 546.3 L1549.4 567.8 L1550.9 587.6 L1552.4 606 L1553.9 623.3 L1555.4 639.4 L1556.9 654.6 L1558.4 669.3 L1559.9 683.1 L1561.4 695.9 L1562.9 707.4 L1564.4 718.1 L1565.9 728.3 L1567.4 737.8 L1568.9 746.5 L1570.4 754.1 L1571.9 760.6 L1573.4 766.4 L1574.9 771.7 L1576.4 776.6 L1577.9 781.1 L1579.4 785 L1580.9 788.5 L1582.4 791.6 L1583.9 794.3 L1585.4 797.2 L1586.9 799.8 L1588.4 802 L1589.9 803.8 L1591.4 805.9 L1592.9 807.9 L1594.4 808.6 L1595.9 809.7 L1597.4 811.5 L1598.9 812.3 L1600.4 812.7 L1601.9 813.5 L1603.4 813.2 L1604.9 815.8 L1606.4 815.6 L1607.9 815.2 L1609.4 815.9 L1610.9 816.4 L1612.4 818.4 L1613.9 817.9 L1615.4 816.6 L1616.9 818.9 L1618.4 818.7 L1619.9 817.1 L1621.4 816.1 L1622.9 818.7 L1624.4 817.7 L1625.9 818.1 L1627.4 817.9 L1628.9 819.3 L1630.4 819.5 L1631.9 819 L1633.4 818.4 L1634.9 818.7 L1636.4 819 L1637.9 817.5 L1639.4 819.5 L1640.9 818.4 L1642.4 818.8 L1643.9 818.7 L1645.4 819.2 L1646.9 819.4 L1648.4 820.1 L1649.9 818.4 L1651.4 818 L1652.9 818.7 L1654.4 818.2 L1655.9 819.2 L1657.4 818 L1658.9 818.7 L1660.4 819.3 L1661.9 819.3 L1663.4 818.8 L1664.9 819.6 L1666.4 819.5 L1667.9 817.4 L1669.4 818.9 L1670.9 818.7 L1672.4 818.4 L1673.9 818.2 L1675.4 818.7 L1676.9 818.9 L1678.4 818.8 L1679.9 819.6 L1681.4 819.3 L1682.9 818.2 L1684.4 818.1 L1685.9 819.2 L1687.4 818.1 L1688.9 818.7 L1690.4 819 L1691.9 819.3 L1693.4 819 L1694.9 819.6 L1696.4 818.3 L1697.9 819.1 L1699.4 818.2 L1700.9 818.8 L1702.4 818.7 L1703.9 818 L1705.4 816.8 L1706.9 819.3 L1708.4 818.9 L1709.9 818.7 L1711.4 818.1 L1712.9 818.4 L1714.4 818.9 L1715.9 818.6 L1717.4 819.4 L1718.9 818.7 L1720.4 818 L1721.9 819 L1723.4 818.2 L1724.9 818.8 L1726.4 817.3 L1727.9 818.4 L1729.4 819 L1730.9 818.2 L1732.4 818.6 L1733.9 819 L1735.4 818.6 L1736.9 819.8 L1738.4 818.4 L1739.9 818.5 L1741.4 818.5 L1742.9 817.2 L1744.4 817.5 L1745.9 819 L1747.4 818.4 L1748.9 819.6 L1750.4 818.5 L1751.9 818.5 L1753.4 819.3 L1754.9 818.8 L1756.4 819.7 L1757.9 817.8 L1759.4 818.9 L1760.9 819 L1762.4 818.9 L1763.9 819.4 L1765.4 819.3 L1766.9 818.6 L1768.4 818.2 L1769.9 819.2 L1771.4 818.6 L1772.9 819.2 L1774.4 819.5 L1775.9 818.7 L1777.4 817.9 L1778.9 818.4 L1780.4 819.1 L1781.9 818.4 L1783.4 819.4 L1784.9 818.6 L1786.4 818.6 L1787.9 818.1 L1789.4 818.5 L1790.9 819.3 L1792.4 818.3 L1793.9 818.3 L1795.4 818 L1796.9 819.1 L1798.4 817.4 L1799.9 818 L1801.4 819.1 L1802.9 819.5 L1804.4 818.3 L1805.9 819.1 L1807.4 817.1 L1808.9 819 L1810.4 818.6 L1811.9 817.6 L1813.4 817.2 L1814.9 818.1 L1816.4 818.6 L1817.9 818.7 L1819.4 818.5 L1820.9 818.9 L1822.4 818.9 L1823.9 817.4 L1825.4 818.1 L1826.9 818 L1828.4 819.1 L1829.9 818 L1831.4 819.1 L1832.9 818.4 L1834.4 820 L1835.9 818.3 L1837.4 818.3 L1838.9 818.2 L1840.4 818.4 L1841.9 820 L1843.4 818 L1844.9 817.7 L1846.4 818.2 L1847.9 818.8 L1849.4 817.6 L1850.9 818.8 L1852.4 818.8 L1853.9 818.1 L1855.4 818.1 L1856.9 817.7 L1858.4 818 L1859.9 817.7 L1861.4 819.1 L1862.9 819.3 L1864.4 818 L1865.9 818.2 L1867.4 816.9 L1868.9 817.8 L1870.4 818.4 L1871.9 818.3 L1873.4 818.2 L1874.9 818.7 L1876.4 818.2 L1877.9 817.9 L1879.4 819.2 L1880.9 816.8 L1882.4 817.3 L1883.9 817.6 L1885.4 817.6 L1886.9 817.5 L1888.4 817.9 L1889.9 817.6 L1891.4 818 L1892.9 818.4 L1894.4 818 L1895.9 818.1 L1897.4 817.4 L1898.9 817.2 L1900.4 817.8 L1901.9 818.6 L1903.4 818.2 L1904.9 818.7 L1906.4 818.6 L1907.9 818.7 L1909.4 817.4 L1910.9 818.8 L1912.4 818.4 L1913.9 819.3 L1915.4 818.3 L1916.9 818.1 L1918.4 817.8 L1919.9 818 L1921.4 816.7 L1922.9 817.7 L1924.4 817.8 L1925.9 818.5 L1927.4 817.4 L1928.9 817.9 L1930.4 819.1 L1931.9 817.4 L1933.4 818.4 L1934.9 817.4 L1936.4 817.7 L1937.9 818.1 L1939.4 818.3 L1940.9 817.4 L1942.4 817 L1943.9 818.7 L1945.4 817.8 L1946.9 818.2 L1948.4 818.3 L1949.9 818.2 L1951.4 817.5 L1952.9 817.6 L1954.4 816.6 L1955.9 817.8 L1957.4 817.3 L1958.9 817.6 L1960.4 818.9 L1961.9 818.1 L1963.4 817.6 L1964.9 816.7 L1966.4 818 L1967.9 818.6 L1969.4 817 L1970.9 817.8 L1972.4 817.2 L1973.9 817.4 L1975.4 817.2 L1976.9 816.4 L1978.4 817.1 L1979.9 816.4 L1981.4 818.4 L1982.9 818.1 L1984.4 817.5 L1985.9 817.6 L1987.4 817.4 L1988.9 817.5 L1990.4 817.5 L1991.9 817.2 L1993.4 817.2 L1994.9 816.5 L1996.4 816.7 L1997.9 816.9 L1999.4 817.5 L2000.9 817.1 L2002.4 818.6 L2003.9 817.2 L2005.4 817 L2006.9 817.5 L2008.4 817.9 L2009.9 818.5 L2011.4 817.9 L2012.9 816.8 L2014.4 817.1 L2015.9 817.9 L2017.4 817.3 L2018.9 817.7 L2020.4 817.1 L2021.9 818.2 L2023.4 818 L2024.9 817.8 L2026.4 817.2 L2027.9 816 L2029.4 816.1 L2030.9 817.2 L2032.4 817.4 L2033.9 815.1 L2035.4 816.6 L2036.9 817.7 L2038.4 817.5 L2039.9 816.6 L2041.4 817.3 L2042.9 816.9 L2044.4 816.7 L2045.9 817.5 L2047.4 817.5 L2048.9 816.4 L2050.4 816.1 L2051.9 815.9 L2053.4 815.8 L2054.9 817.5 L2056.4 817.8 L2057.9 816.7 L2059.4 817.2 L2060.9 816.1 L2062.4 816.5 L2063.9 817.1 L2065.4 816.6 L2066.9 816.4 L2068.4 815.3 L2069.9 815.4 L2071.4 816.1 L2072.9 815.9 L2074.4 816.2 L2075.9 815.8 L2077.4 816 L2078.9 816.2 L2080.4 816.4 L2081.9 816.1 L2083.4 815.7 L2084.9 815.8 L2086.4 816.5 L2087.9 815.8 L2089.4 815.2 L2090.9 815.2 L2092.4 815.9 L2093.9 816 L2095.4 816.4 L2096.9 815.4 L2098.4 816.4 L2099.9 815.2 L2101.4 815.2 L2102.9 815 L2104.4 815.5 L2105.9 815.7 L2107.4 815 L2108.9 814.6 L2110.4 813.9 L2111.9 814.7 L2113.4 814.3 L2114.9 814.3 L2116.4 813.9 L2117.9 813.6 L2119.4 813.6 L2120.9 813.9 L2122.4 813.9 L2123.9 813 L2125.4 812.7 L2126.9 811.9 L2128.4 811.3 L2129.9 810 L2131.4 810.3 L2132.9 809.3 L2134.4 808.7 L2135.9 806.9 L2137.4 806.1 L2138.9 804.7 L2140.4 803.9 L2141.9 802.5 L2143.4 801 L2144.9 798.9 L2146.4 796.7 L2147.9 794 L2149.4 791.1 L2150.9 787.8 L2152.4 784.2 L2153.9 780.3 L2155.4 776.1 L2156.9 770.6 L2158.4 763.7 L2159.9 755.6 L2161.4 746.8 L2162.9 737.5 L2164.4 728.1 L2165.9 718.1 L2167.4 707.1 L2168.9 695.3 L2170.4 682.9 L2171.9 669.5 L2173.4 654.7 L2174.9 639.2 L2176.4 623.9 L2177.9 608 L2179.4 591.9 L2180.9 577.4 L2182.4 565.1 L2183.9 553.5 L2185.4 543.8 L2186.9 537.4 L2188.4 532.7 L2189.9 528.6 L2191.4 525.3 L2192.9 523.1 L2194.4 522.3 L2195.9 523 L2197.4 525 L2198.9 528 L2200.4 531.8 L2201.9 536.1 L2203.4 541.7 L2204.9 551.2 L2206.4 562.6 L2207.9 573.9 L2209.4 584.8 L2210.9 596.1 L2212.4 607.6 L2213.9 619.1 L2215.4 630.5 L2216.9 642.1 L2218.4 653.7 L2219.9 665.1 L2221.4 675.9 L2222.9 685.9 L2224.4 695.7 L2225.9 705.2 L2227.4 714.2 L2228.9 722.6 L2230.4 730.3 L2231.9 737.5 L2233.4 744.3 L2234.9 750.9 L2236.4 757.1 L2237.9 762.8 L2239.4 768 L2240.9 772.6 L2242.4 776.8 L2243.9 780.8 L2245.4 784.5 L2246.9 788 L2248.4 791.3 L2249.9 794.2 L2251.4 796.7 L2252.9 799.1 L2254.4 801.2 L2255.9 802.7 L2257.4 804.5 L2258.9 806.4 L2260.4 807.9 L2261.9 809 L2263.4 811 L2264.9 810.9 L2266.4 812.7 L2267.9 813.3 L2269.4 814 L2270.9 815 L2272.4 815.4 L2273.9 817.4 L2275.4 816.7 L2276.9 817 L2278.4 818.2 L2279.9 818.2 L2281.4 816.6 L2282.9 818.3 L2284.4 819 L2285.9 818.3 L2287.4 819.1 L2288.9 818.7 L2290.4 819.4 L2291.9 818 L2293.4 817.8 L2294.9 818.7 L2296.4 819.3 L2297.9 820 L2299.4 818.9 L2300.9 818.6 L2302.4 819.7 L2303.9 819.1 L2305.4 820.3 L2306.9 819 L2308.4 817.7 L2309.9 818.5 L2311.4 818.4 L2312.9 818.1 L2314.4 818.5 L2315.9 818.5 L2317.4 818.8 L2318.9 818.6 L2320.4 819.2 L2321.9 819.2 L2323.4 819 L2324.9 819 L2326.4 817.5 L2327.9 817.7 L2329.4 818.2 L2330.9 819 L2332.4 817.7 L2333.9 818.4 L2335.4 818.9 L2336.9 820.1 L2338.4 818.8 L2339.9 818.3 L2341.4 819.4 L2342.9 818.7 L2344.4 818.3 L2345.9 819.3 L2347.4 817.9 L2348.9 818.6 L2350.4 818.5 L2351.9 819 L2353.4 817.6 L2354.9 817.5 L2356.4 818 L2357.9 818.1 L2359.4 818.3 L2360.9 818 L2362.4 818.5 L2363.9 818.6 L2365.4 818.3 L2366.9 817.4 L2368.4 818.9 L2369.9 817 L2371.4 817.9 L2372.9 818.6 L2374.4 817.5 L2375.9 818.8 L2377.4 819.2 L2378.9 819 L2380.4 818.1 L2381.9 818.5 L2383.4 817.4 L2384.9 818 L2386.4 818 L2387.9 817.8 L2389.4 817.8 L2390.9 817.5 L2392.4 816.3 L2393.9 817.9 L2395.4 817.8 L2396.9 818.9 L2398.4 818 L2399.9 817.6" fill="none" stroke="#f00" stroke-width="3.8" stroke-linejoin="round"/>
<rect x="1316.3" y="34" width="1097.1" height="853.6" fill="none" stroke="#000" stroke-width="3.7"/>
<path d="M1316.3 887.6v16M1462.5 887.6v16M1608.7 887.6v16M1754.9 887.6v16M1901.1 887.6v16M2047.3 887.6v16M2193.5 887.6v16M2339.7 887.6v16" stroke="#000" stroke-width="3.2" fill="none"/>
<path d="M1389.4 887.6v9M1535.6 887.6v9M1681.8 887.6v9M1828 887.6v9M1974.2 887.6v9M2120.4 887.6v9M2266.6 887.6v9M2412.8 887.6v9" stroke="#000" stroke-width="3.2" fill="none"/>
<text x="1316.3" y="944.8" font-size="36.7" text-anchor="middle">1015</text><text x="1462.5" y="944.8" font-size="36.7" text-anchor="middle">1020</text><text x="1608.7" y="944.8" font-size="36.7" text-anchor="middle">1025</text><text x="1754.9" y="944.8" font-size="36.7" text-anchor="middle">1030</text><text x="1901.1" y="944.8" font-size="36.7" text-anchor="middle">1035</text><text x="2047.3" y="944.8" font-size="36.7" text-anchor="middle">1040</text><text x="2193.5" y="944.8" font-size="36.7" text-anchor="middle">1045</text><text x="2339.7" y="944.8" font-size="36.7" text-anchor="middle">1050</text>
<text x="1864" y="1013.6" font-size="46.2" text-anchor="middle">Binding energy, eV</text>
<text font-size="48" text-anchor="middle" transform="translate(1278.4 461) rotate(-90) scale(0.930 1)">Intensity, arb.u.</text>
<text x="1459" y="97.7" font-size="45.5">Zn 2p<tspan font-size="31" dy="12">3/2</tspan></text>
<text x="2125" y="452" font-size="45.5">Zn 2p<tspan font-size="31" dy="12">1/2</tspan></text>
<text x="1350.5" y="219.6" font-size="41">1021.6</text>
<text x="1553" y="232.9" font-size="41">1021.9</text>
<text x="2023" y="556.7" font-size="41">1044.6</text>
<text x="2230.5" y="574.3" font-size="41">1045</text>
<rect x="1655" y="622.3" width="360" height="116.7" fill="#fff" stroke="#444" stroke-width="1.6"/>
<path d="M1660.5 653H1766" stroke="#000" stroke-width="3.4"/>
<path d="M1660.5 708.5H1766" stroke="#f00" stroke-width="3.4"/>
<text x="1777" y="668.8" font-size="46">XPS Zn</text>
<text x="1777" y="722.5" font-size="46">XPS Zn-Co</text>
<text font-size="97" class="ser" text-anchor="middle" font-weight="bold" transform="translate(2326.2 141.3) scale(1.054 1)">(b)</text>
</g>
<g>
<defs>
<linearGradient id="cA1" gradientUnits="userSpaceOnUse" x1="0" y1="1165" x2="0" y2="1911.7"><stop offset="0" stop-color="#a000d4"/><stop offset="0.3" stop-color="#9800c9"/><stop offset="0.5" stop-color="#7b00a3"/><stop offset="0.7" stop-color="#580075"/><stop offset="0.85" stop-color="#3a004c"/><stop offset="1" stop-color="#180020"/></linearGradient>
<linearGradient id="cB1" gradientUnits="userSpaceOnUse" x1="0" y1="1746" x2="0" y2="1911.7"><stop offset="0" stop-color="#00cece"/><stop offset="0.3" stop-color="#00c4c4"/><stop offset="0.5" stop-color="#009f9f"/><stop offset="0.7" stop-color="#007171"/><stop offset="0.85" stop-color="#004a4a"/><stop offset="1" stop-color="#001010"/></linearGradient>
<linearGradient id="cA2" gradientUnits="userSpaceOnUse" x1="0" y1="1543" x2="0" y2="1913"><stop offset="0" stop-color="#12f418"/><stop offset="0.3" stop-color="#12e918"/><stop offset="0.5" stop-color="#12c017"/><stop offset="0.7" stop-color="#138f16"/><stop offset="0.85" stop-color="#136515"/><stop offset="1" stop-color="#143615"/></linearGradient>
<linearGradient id="cB2" gradientUnits="userSpaceOnUse" x1="0" y1="1882" x2="0" y2="1913"><stop offset="0" stop-color="#f0108c"/><stop offset="0.3" stop-color="#e40f85"/><stop offset="0.5" stop-color="#b90c6c"/><stop offset="0.7" stop-color="#84094d"/><stop offset="0.85" stop-color="#560632"/><stop offset="1" stop-color="#3c0423"/></linearGradient>
</defs>
<path d="M95 1911.7 L97 1911.7 L99 1911.7 L101 1911.7 L103 1911.7 L105 1911.7 L107 1911.7 L109 1911.6 L111 1911.6 L113 1911.6 L115 1911.6 L117 1911.6 L119 1911.6 L121 1911.6 L123 1911.5 L125 1911.5 L127 1911.5 L129 1911.4 L131 1911.4 L133 1911.3 L135 1911.3 L137 1911.2 L139 1911.1 L141 1911 L143 1910.9 L145 1910.8 L147 1910.7 L149 1910.5 L151 1910.4 L153 1910.2 L155 1910 L157 1909.7 L159 1909.4 L161 1909.1 L163 1908.7 L165 1908.3 L167 1907.9 L169 1907.4 L171 1906.8 L173 1906.2 L175 1905.5 L177 1904.7 L179 1903.8 L181 1902.8 L183 1901.7 L185 1900.5 L187 1899.2 L189 1897.8 L191 1896.2 L193 1894.4 L195 1892.5 L197 1890.4 L199 1888.1 L201 1885.6 L203 1882.8 L205 1879.8 L207 1876.6 L209 1873.1 L211 1869.3 L213 1865.2 L215 1860.8 L217 1856.1 L219 1851 L221 1845.6 L223 1839.7 L225 1833.5 L227 1826.8 L229 1819.8 L231 1812.2 L233 1804.3 L235 1795.8 L237 1786.9 L239 1777.5 L241 1767.7 L243 1757.3 L245 1746.4 L247 1735 L249 1723.2 L251 1710.8 L253 1697.9 L255 1684.6 L257 1670.8 L259 1656.5 L261 1641.8 L263 1626.7 L265 1611.2 L267 1595.3 L269 1579 L271 1562.5 L273 1545.7 L275 1528.6 L277 1511.4 L279 1494 L281 1476.5 L283 1459 L285 1441.4 L287 1424 L289 1406.6 L291 1389.4 L293 1372.4 L295 1355.7 L297 1339.3 L299 1323.4 L301 1307.9 L303 1292.9 L305 1278.5 L307 1264.8 L309 1251.7 L311 1239.4 L313 1227.9 L315 1217.2 L317 1207.5 L319 1198.6 L321 1190.8 L323 1183.9 L325 1178.1 L327 1173.4 L329 1169.7 L331 1167.1 L333 1165.7 L335 1165.3 L337 1166.1 L339 1168 L341 1171 L343 1175.1 L345 1180.3 L347 1186.5 L349 1193.8 L351 1202.1 L353 1211.3 L355 1221.4 L357 1232.4 L359 1244.3 L361 1256.9 L363 1270.2 L365 1284.2 L367 1298.8 L369 1314 L371 1329.7 L373 1345.8 L375 1362.3 L377 1379.2 L379 1396.2 L381 1413.5 L383 1430.9 L385 1448.5 L387 1466 L389 1483.5 L391 1501 L393 1518.3 L395 1535.5 L397 1552.4 L399 1569.1 L401 1585.6 L403 1601.7 L405 1617.4 L407 1632.8 L409 1647.7 L411 1662.3 L413 1676.4 L415 1690 L417 1703.1 L419 1715.8 L421 1728 L423 1739.7 L425 1750.8 L427 1761.5 L429 1771.7 L431 1781.4 L433 1790.6 L435 1799.3 L437 1807.5 L439 1815.3 L441 1822.6 L443 1829.5 L445 1836 L447 1842.1 L449 1847.8 L451 1853.1 L453 1858 L455 1862.6 L457 1866.9 L459 1870.9 L461 1874.6 L463 1877.9 L465 1881.1 L467 1883.9 L469 1886.6 L471 1889 L473 1891.2 L475 1893.3 L477 1895.1 L479 1896.8 L481 1898.4 L483 1899.8 L485 1901 L487 1902.2 L489 1903.2 L491 1904.1 L493 1905 L495 1905.7 L497 1906.4 L499 1907 L501 1907.6 L503 1908.1 L505 1908.5 L507 1908.9 L509 1909.2 L511 1909.5 L513 1909.8 L515 1910 L517 1910.3 L519 1910.4 L521 1910.6 L523 1910.7 L525 1910.9 L527 1911 L529 1911.1 L531 1911.2 L533 1911.2 L535 1911.3 L537 1911.4 L539 1911.4 L541 1911.4 L543 1911.5 L545 1911.5 L547 1911.5 L549 1911.6 L551 1911.6 L553 1911.6 L555 1911.6 L557 1911.6 L559 1911.6 L561 1911.7 L563 1911.7 L565 1911.7 L567 1911.7 L569 1911.7 L571 1911.7 L573 1911.7 L575 1911.7 L577 1911.7 L579 1911.7 L581 1911.7 L583 1911.7 L585 1911.7 L587 1911.7 L589 1911.7 L591 1911.7 L593 1911.7 L595 1911.7 L597 1911.7 L599 1911.7 L601 1911.7 L603 1911.7 L605 1911.7 L607 1911.7 L609 1911.7 L611 1911.7 L613 1911.7 L615 1911.7 L617 1911.7 L619 1911.7 L621 1911.7 L623 1911.7 L625 1911.7 L627 1911.7 L629 1911.7 L631 1911.7 L633 1911.7 L635 1911.7 L637 1911.7 L639 1911.7 L641 1911.7 L643 1911.7 L645 1911.7 L647 1911.7 L649 1911.7 L651 1911.7 L653 1911.7 L655 1911.7 L657 1911.7 L659 1911.7 L661 1911.7 L663 1911.7 L665 1911.7 L667 1911.7 L669 1911.7 L671 1911.7 L673 1911.7 L675 1911.7 L675 1911.7 L95 1911.7Z" fill="url(#cA1)" stroke="#a000d0" stroke-width="1"/>
<path d="M95 1911.7 L97 1911.7 L99 1911.7 L101 1911.7 L103 1911.7 L105 1911.7 L107 1911.7 L109 1911.7 L111 1911.7 L113 1911.7 L115 1911.7 L117 1911.7 L119 1911.7 L121 1911.7 L123 1911.7 L125 1911.7 L127 1911.7 L129 1911.7 L131 1911.7 L133 1911.7 L135 1911.7 L137 1911.7 L139 1911.7 L141 1911.7 L143 1911.7 L145 1911.7 L147 1911.7 L149 1911.7 L151 1911.7 L153 1911.7 L155 1911.7 L157 1911.7 L159 1911.7 L161 1911.7 L163 1911.7 L165 1911.7 L167 1911.7 L169 1911.7 L171 1911.7 L173 1911.7 L175 1911.7 L177 1911.7 L179 1911.7 L181 1911.7 L183 1911.6 L185 1911.6 L187 1911.6 L189 1911.6 L191 1911.6 L193 1911.6 L195 1911.6 L197 1911.6 L199 1911.5 L201 1911.5 L203 1911.5 L205 1911.5 L207 1911.4 L209 1911.4 L211 1911.3 L213 1911.3 L215 1911.2 L217 1911.2 L219 1911.1 L221 1911 L223 1911 L225 1910.9 L227 1910.8 L229 1910.7 L231 1910.6 L233 1910.4 L235 1910.3 L237 1910.1 L239 1909.9 L241 1909.7 L243 1909.5 L245 1909.3 L247 1909 L249 1908.8 L251 1908.4 L253 1908.1 L255 1907.7 L257 1907.4 L259 1906.9 L261 1906.5 L263 1906 L265 1905.4 L267 1904.8 L269 1904.2 L271 1903.5 L273 1902.8 L275 1902 L277 1901.2 L279 1900.3 L281 1899.3 L283 1898.3 L285 1897.2 L287 1896.1 L289 1894.9 L291 1893.6 L293 1892.2 L295 1890.7 L297 1889.2 L299 1887.6 L301 1885.9 L303 1884.1 L305 1882.2 L307 1880.3 L309 1878.2 L311 1876.1 L313 1873.9 L315 1871.5 L317 1869.1 L319 1866.6 L321 1864.1 L323 1861.4 L325 1858.6 L327 1855.8 L329 1852.9 L331 1849.9 L333 1846.8 L335 1843.7 L337 1840.5 L339 1837.2 L341 1833.9 L343 1830.5 L345 1827.1 L347 1823.7 L349 1820.2 L351 1816.7 L353 1813.2 L355 1809.7 L357 1806.2 L359 1802.7 L361 1799.2 L363 1795.8 L365 1792.4 L367 1789.1 L369 1785.8 L371 1782.6 L373 1779.5 L375 1776.4 L377 1773.5 L379 1770.7 L381 1768 L383 1765.4 L385 1762.9 L387 1760.6 L389 1758.5 L391 1756.5 L393 1754.7 L395 1753.1 L397 1751.6 L399 1750.3 L401 1749.2 L403 1748.3 L405 1747.6 L407 1747.1 L409 1746.8 L411 1746.7 L413 1746.8 L415 1747.1 L417 1747.6 L419 1748.3 L421 1749.2 L423 1750.3 L425 1751.6 L427 1753.1 L429 1754.7 L431 1756.5 L433 1758.5 L435 1760.6 L437 1762.9 L439 1765.4 L441 1768 L443 1770.7 L445 1773.5 L447 1776.4 L449 1779.5 L451 1782.6 L453 1785.8 L455 1789.1 L457 1792.4 L459 1795.8 L461 1799.2 L463 1802.7 L465 1806.2 L467 1809.7 L469 1813.2 L471 1816.7 L473 1820.2 L475 1823.7 L477 1827.1 L479 1830.5 L481 1833.9 L483 1837.2 L485 1840.5 L487 1843.7 L489 1846.8 L491 1849.9 L493 1852.9 L495 1855.8 L497 1858.6 L499 1861.4 L501 1864.1 L503 1866.6 L505 1869.1 L507 1871.5 L509 1873.9 L511 1876.1 L513 1878.2 L515 1880.3 L517 1882.2 L519 1884.1 L521 1885.9 L523 1887.6 L525 1889.2 L527 1890.7 L529 1892.2 L531 1893.6 L533 1894.9 L535 1896.1 L537 1897.2 L539 1898.3 L541 1899.3 L543 1900.3 L545 1901.2 L547 1902 L549 1902.8 L551 1903.5 L553 1904.2 L555 1904.8 L557 1905.4 L559 1906 L561 1906.5 L563 1906.9 L565 1907.4 L567 1907.7 L569 1908.1 L571 1908.4 L573 1908.8 L575 1909 L577 1909.3 L579 1909.5 L581 1909.7 L583 1909.9 L585 1910.1 L587 1910.3 L589 1910.4 L591 1910.6 L593 1910.7 L595 1910.8 L597 1910.9 L599 1911 L601 1911 L603 1911.1 L605 1911.2 L607 1911.2 L609 1911.3 L611 1911.3 L613 1911.4 L615 1911.4 L617 1911.5 L619 1911.5 L621 1911.5 L623 1911.5 L625 1911.6 L627 1911.6 L629 1911.6 L631 1911.6 L633 1911.6 L635 1911.6 L637 1911.6 L639 1911.6 L641 1911.7 L643 1911.7 L645 1911.7 L647 1911.7 L649 1911.7 L651 1911.7 L653 1911.7 L655 1911.7 L657 1911.7 L659 1911.7 L661 1911.7 L663 1911.7 L665 1911.7 L667 1911.7 L669 1911.7 L671 1911.7 L673 1911.7 L675 1911.7 L675 1911.7 L95 1911.7Z" fill="url(#cB1)" stroke="#00dcdc" stroke-width="1.6"/>
<path d="M694 1913 L696 1913 L698 1913 L700 1913 L702 1913 L704 1913 L706 1913 L708 1913 L710 1912.9 L712 1912.9 L714 1912.9 L716 1912.9 L718 1912.9 L720 1912.9 L722 1912.9 L724 1912.9 L726 1912.8 L728 1912.8 L730 1912.8 L732 1912.8 L734 1912.7 L736 1912.7 L738 1912.6 L740 1912.6 L742 1912.5 L744 1912.5 L746 1912.4 L748 1912.3 L750 1912.2 L752 1912.1 L754 1912 L756 1911.8 L758 1911.7 L760 1911.5 L762 1911.4 L764 1911.2 L766 1910.9 L768 1910.7 L770 1910.4 L772 1910.1 L774 1909.8 L776 1909.4 L778 1909 L780 1908.5 L782 1908.1 L784 1907.5 L786 1906.9 L788 1906.3 L790 1905.6 L792 1904.8 L794 1904 L796 1903.1 L798 1902.1 L800 1901 L802 1899.9 L804 1898.6 L806 1897.3 L808 1895.9 L810 1894.3 L812 1892.6 L814 1890.8 L816 1888.9 L818 1886.8 L820 1884.6 L822 1882.3 L824 1879.8 L826 1877.1 L828 1874.3 L830 1871.3 L832 1868.2 L834 1864.8 L836 1861.3 L838 1857.6 L840 1853.7 L842 1849.5 L844 1845.2 L846 1840.7 L848 1836 L850 1831.1 L852 1825.9 L854 1820.6 L856 1815.1 L858 1809.3 L860 1803.4 L862 1797.2 L864 1790.9 L866 1784.4 L868 1777.7 L870 1770.8 L872 1763.8 L874 1756.6 L876 1749.3 L878 1741.8 L880 1734.3 L882 1726.6 L884 1718.8 L886 1711 L888 1703.1 L890 1695.2 L892 1687.3 L894 1679.3 L896 1671.4 L898 1663.6 L900 1655.8 L902 1648.1 L904 1640.5 L906 1633 L908 1625.7 L910 1618.6 L912 1611.6 L914 1604.9 L916 1598.4 L918 1592.2 L920 1586.3 L922 1580.7 L924 1575.4 L926 1570.4 L928 1565.9 L930 1561.7 L932 1557.8 L934 1554.4 L936 1551.4 L938 1548.9 L940 1546.8 L942 1545.1 L944 1543.9 L946 1543.1 L948 1542.8 L950 1543 L952 1543.6 L954 1544.7 L956 1546.2 L958 1548.2 L960 1550.6 L962 1553.5 L964 1556.8 L966 1560.5 L968 1564.6 L970 1569 L972 1573.9 L974 1579.1 L976 1584.6 L978 1590.4 L980 1596.5 L982 1602.9 L984 1609.6 L986 1616.5 L988 1623.5 L990 1630.8 L992 1638.2 L994 1645.8 L996 1653.5 L998 1661.2 L1000 1669.1 L1002 1677 L1004 1684.9 L1006 1692.8 L1008 1700.7 L1010 1708.6 L1012 1716.5 L1014 1724.3 L1016 1732 L1018 1739.6 L1020 1747.1 L1022 1754.4 L1024 1761.6 L1026 1768.7 L1028 1775.6 L1030 1782.4 L1032 1789 L1034 1795.3 L1036 1801.5 L1038 1807.5 L1040 1813.4 L1042 1819 L1044 1824.4 L1046 1829.5 L1048 1834.5 L1050 1839.3 L1052 1843.9 L1054 1848.3 L1056 1852.4 L1058 1856.4 L1060 1860.2 L1062 1863.8 L1064 1867.2 L1066 1870.4 L1068 1873.4 L1070 1876.3 L1072 1879 L1074 1881.6 L1076 1884 L1078 1886.2 L1080 1888.3 L1082 1890.3 L1084 1892.1 L1086 1893.8 L1088 1895.4 L1090 1896.9 L1092 1898.3 L1094 1899.5 L1096 1900.7 L1098 1901.8 L1100 1902.8 L1102 1903.7 L1104 1904.6 L1106 1905.4 L1108 1906.1 L1110 1906.7 L1112 1907.4 L1114 1907.9 L1116 1908.4 L1118 1908.9 L1120 1909.3 L1122 1909.7 L1124 1910 L1126 1910.3 L1128 1910.6 L1130 1910.9 L1132 1911.1 L1134 1911.3 L1136 1911.5 L1138 1911.7 L1140 1911.8 L1142 1911.9 L1144 1912.1 L1146 1912.2 L1148 1912.3 L1150 1912.4 L1152 1912.4 L1154 1912.5 L1156 1912.6 L1158 1912.6 L1160 1912.7 L1162 1912.7 L1164 1912.7 L1166 1912.8 L1168 1912.8 L1170 1912.8 L1172 1912.8 L1174 1912.9 L1176 1912.9 L1178 1912.9 L1180 1912.9 L1182 1912.9 L1184 1912.9 L1186 1912.9 L1188 1913 L1190 1913 L1190 1913 L694 1913Z" fill="url(#cA2)" stroke="#10e018" stroke-width="1"/>
<path d="M694 1913 L696 1913 L698 1913 L700 1913 L702 1913 L704 1913 L706 1913 L708 1913 L710 1913 L712 1913 L714 1913 L716 1913 L718 1913 L720 1913 L722 1913 L724 1913 L726 1913 L728 1913 L730 1913 L732 1913 L734 1913 L736 1913 L738 1913 L740 1913 L742 1913 L744 1913 L746 1913 L748 1913 L750 1913 L752 1913 L754 1913 L756 1913 L758 1913 L760 1913 L762 1913 L764 1913 L766 1913 L768 1913 L770 1913 L772 1913 L774 1913 L776 1913 L778 1913 L780 1913 L782 1913 L784 1913 L786 1913 L788 1913 L790 1913 L792 1913 L794 1913 L796 1913 L798 1913 L800 1913 L802 1913 L804 1913 L806 1913 L808 1913 L810 1913 L812 1913 L814 1913 L816 1913 L818 1913 L820 1913 L822 1913 L824 1913 L826 1913 L828 1913 L830 1913 L832 1913 L834 1913 L836 1913 L838 1913 L840 1913 L842 1913 L844 1913 L846 1913 L848 1913 L850 1913 L852 1913 L854 1913 L856 1913 L858 1913 L860 1913 L862 1913 L864 1913 L866 1913 L868 1913 L870 1913 L872 1913 L874 1913 L876 1913 L878 1913 L880 1913 L882 1913 L884 1913 L886 1913 L888 1913 L890 1913 L892 1913 L894 1913 L896 1913 L898 1913 L900 1913 L902 1913 L904 1913 L906 1913 L908 1913 L910 1913 L912 1913 L914 1913 L916 1913 L918 1913 L920 1913 L922 1913 L924 1913 L926 1913 L928 1913 L930 1913 L932 1912.9 L934 1912.9 L936 1912.9 L938 1912.9 L940 1912.9 L942 1912.9 L944 1912.8 L946 1912.8 L948 1912.8 L950 1912.7 L952 1912.7 L954 1912.7 L956 1912.6 L958 1912.5 L960 1912.5 L962 1912.4 L964 1912.3 L966 1912.2 L968 1912.1 L970 1911.9 L972 1911.8 L974 1911.6 L976 1911.4 L978 1911.2 L980 1911 L982 1910.8 L984 1910.5 L986 1910.2 L988 1909.9 L990 1909.6 L992 1909.2 L994 1908.8 L996 1908.4 L998 1907.9 L1000 1907.4 L1002 1906.9 L1004 1906.3 L1006 1905.7 L1008 1905.1 L1010 1904.4 L1012 1903.7 L1014 1902.9 L1016 1902.2 L1018 1901.4 L1020 1900.6 L1022 1899.7 L1024 1898.9 L1026 1898 L1028 1897.1 L1030 1896.2 L1032 1895.2 L1034 1894.3 L1036 1893.4 L1038 1892.5 L1040 1891.6 L1042 1890.7 L1044 1889.8 L1046 1889 L1048 1888.1 L1050 1887.4 L1052 1886.6 L1054 1886 L1056 1885.3 L1058 1884.7 L1060 1884.2 L1062 1883.8 L1064 1883.4 L1066 1883 L1068 1882.8 L1070 1882.6 L1072 1882.5 L1074 1882.5 L1076 1882.6 L1078 1882.7 L1080 1882.9 L1082 1883.2 L1084 1883.5 L1086 1883.9 L1088 1884.4 L1090 1885 L1092 1885.6 L1094 1886.2 L1096 1886.9 L1098 1887.7 L1100 1888.5 L1102 1889.3 L1104 1890.2 L1106 1891 L1108 1891.9 L1110 1892.8 L1112 1893.8 L1114 1894.7 L1116 1895.6 L1118 1896.5 L1120 1897.4 L1122 1898.3 L1124 1899.2 L1126 1900.1 L1128 1900.9 L1130 1901.7 L1132 1902.5 L1134 1903.2 L1136 1904 L1138 1904.7 L1140 1905.3 L1142 1905.9 L1144 1906.5 L1146 1907.1 L1148 1907.6 L1150 1908.1 L1152 1908.5 L1154 1909 L1156 1909.3 L1158 1909.7 L1160 1910 L1162 1910.3 L1164 1910.6 L1166 1910.9 L1168 1911.1 L1170 1911.3 L1172 1911.5 L1174 1911.7 L1176 1911.8 L1178 1912 L1180 1912.1 L1182 1912.2 L1184 1912.3 L1186 1912.4 L1188 1912.5 L1190 1912.6 L1190 1913 L694 1913Z" fill="url(#cB2)" stroke="#f0108c" stroke-width="1.6"/>
<path d="M95 1912.7H675" stroke="#e0108c" stroke-width="1.5"/>
<path d="M694 1914H1189" stroke="#e0108c" stroke-width="1.5"/>
<path d="M95 1911.2 L97 1911.1 L99 1911 L101 1910.9 L103 1910.7 L105 1910.6 L107 1910.4 L109 1910.2 L111 1909.9 L113 1909.7 L115 1909.4 L117 1909.1 L119 1908.7 L121 1908.3 L123 1907.9 L125 1907.4 L127 1906.9 L129 1906.3 L131 1905.7 L133 1905 L135 1904.2 L137 1903.4 L139 1902.6 L141 1901.6 L143 1900.7 L145 1899.6 L147 1898.5 L149 1897.3 L151 1896.1 L153 1894.8 L155 1893.5 L157 1892.1 L159 1890.6 L161 1889.1 L163 1887.5 L165 1885.9 L167 1884.2 L169 1882.5 L171 1880.8 L173 1879 L175 1877.1 L177 1875.3 L179 1873.4 L181 1871.4 L183 1869.5 L185 1867.5 L187 1865.4 L189 1863.3 L191 1861.2 L193 1859 L195 1856.7 L197 1854.4 L199 1851.9 L201 1849.4 L203 1846.7 L205 1843.9 L207 1841 L209 1837.9 L211 1834.6 L213 1831.1 L215 1827.4 L217 1823.4 L219 1819.1 L221 1814.5 L223 1809.6 L225 1804.4 L227 1798.7 L229 1792.7 L231 1786.2 L233 1779.3 L235 1772 L237 1764.1 L239 1755.7 L241 1746.9 L243 1737.5 L245 1727.5 L247 1717 L249 1705.9 L251 1694.3 L253 1682.1 L255 1669.4 L257 1656.1 L259 1642.2 L261 1627.9 L263 1613 L265 1597.6 L267 1581.8 L269 1565.5 L271 1548.8 L273 1531.8 L275 1514.4 L277 1496.7 L279 1478.7 L281 1460.6 L283 1442.2 L285 1423.8 L287 1405.2 L289 1386.7 L291 1368.2 L293 1349.8 L295 1331.6 L297 1313.6 L299 1295.8 L301 1278.3 L303 1261.3 L305 1244.6 L307 1228.4 L309 1212.8 L311 1197.8 L313 1183.4 L315 1169.7 L317 1156.8 L319 1144.6 L321 1133.4 L323 1123 L325 1113.6 L327 1105.2 L329 1097.8 L331 1091.5 L333 1086.3 L335 1082.3 L337 1079.4 L339 1077.7 L341 1077.2 L343 1077.9 L345 1079.8 L347 1082.9 L349 1087 L351 1092.3 L353 1098.6 L355 1105.8 L357 1114.1 L359 1123.2 L361 1133.2 L363 1143.9 L365 1155.4 L367 1167.4 L369 1180.1 L371 1193.3 L373 1207 L375 1221.2 L377 1235.6 L379 1250.4 L381 1265.5 L383 1280.8 L385 1296.3 L387 1311.9 L389 1327.6 L391 1343.4 L393 1359.2 L395 1375 L397 1390.7 L399 1406.3 L401 1421.8 L403 1437.2 L405 1452.4 L407 1467.3 L409 1482.1 L411 1496.7 L413 1510.9 L415 1524.9 L417 1538.7 L419 1552.1 L421 1565.2 L423 1578 L425 1590.5 L427 1602.7 L429 1614.5 L431 1626.1 L433 1637.3 L435 1648.1 L437 1658.7 L439 1668.9 L441 1678.9 L443 1688.5 L445 1697.8 L447 1706.8 L449 1715.5 L451 1724 L453 1732.1 L455 1740 L457 1747.6 L459 1755 L461 1762.1 L463 1768.9 L465 1775.5 L467 1781.9 L469 1788 L471 1794 L473 1799.7 L475 1805.1 L477 1810.4 L479 1815.5 L481 1820.3 L483 1825 L485 1829.5 L487 1833.8 L489 1837.9 L491 1841.8 L493 1845.6 L495 1849.2 L497 1852.6 L499 1855.8 L501 1858.9 L503 1861.8 L505 1864.6 L507 1867.2 L509 1869.6 L511 1872 L513 1874.1 L515 1876.2 L517 1878.1 L519 1879.9 L521 1881.7 L523 1883.3 L525 1884.8 L527 1886.2 L529 1887.5 L531 1888.8 L533 1889.9 L535 1891.1 L537 1892.2 L539 1893.2 L541 1894.2 L543 1895.1 L545 1896 L547 1896.9 L549 1897.7 L551 1898.6 L553 1899.4 L555 1900.1 L557 1900.9 L559 1901.6 L561 1902.3 L563 1903 L565 1903.7 L567 1904.3 L569 1904.9 L571 1905.5 L573 1906.1 L575 1906.6 L577 1907.1 L579 1907.5 L581 1908 L583 1908.4 L585 1908.7 L587 1909 L589 1909.4 L591 1909.6 L593 1909.9 L595 1910.1 L597 1910.3 L599 1910.5 L601 1910.6 L603 1910.8 L605 1910.9 L607 1911 L609 1911.1 L611 1911.2 L613 1911.3 L615 1911.3 L617 1911.4 L619 1911.4 L621 1911.5 L623 1911.5 L625 1911.5 L627 1911.5 L629 1911.6 L631 1911.6 L633 1911.6 L635 1911.6 L637 1911.6 L639 1911.6 L641 1911.6 L643 1911.7 L645 1911.7 L647 1911.7 L649 1911.7 L651 1911.7 L653 1911.7 L655 1911.7 L657 1911.7 L659 1911.7 L661 1911.7 L663 1911.7 L665 1911.7 L667 1911.7 L669 1911.7 L671 1911.7 L673 1911.7 L675 1911.7" fill="none" stroke="#000" stroke-width="3" stroke-dasharray="16 10"/>
<path d="M694 1912.7 L696 1912.6 L698 1912.6 L700 1912.5 L702 1912.4 L704 1912.3 L706 1912.3 L708 1912.2 L710 1912 L712 1911.9 L714 1911.8 L716 1911.7 L718 1911.5 L720 1911.3 L722 1911.1 L724 1910.9 L726 1910.7 L728 1910.5 L730 1910.2 L732 1910 L734 1909.7 L736 1909.4 L738 1909.1 L740 1908.7 L742 1908.4 L744 1908 L746 1907.6 L748 1907.2 L750 1906.7 L752 1906.3 L754 1905.8 L756 1905.4 L758 1904.9 L760 1904.3 L762 1903.8 L764 1903.3 L766 1902.7 L768 1902.1 L770 1901.5 L772 1900.9 L774 1900.3 L776 1899.7 L778 1899 L780 1898.4 L782 1897.7 L784 1897 L786 1896.2 L788 1895.5 L790 1894.7 L792 1893.9 L794 1893 L796 1892.1 L798 1891.2 L800 1890.3 L802 1889.4 L804 1888.5 L806 1887.6 L808 1886.6 L810 1885.6 L812 1884.5 L814 1883.2 L816 1881.9 L818 1880.5 L820 1878.9 L822 1877.1 L824 1875.2 L826 1873.1 L828 1870.8 L830 1868.2 L832 1865.5 L834 1862.5 L836 1859.3 L838 1855.9 L840 1852.3 L842 1848.4 L844 1844.3 L846 1840 L848 1835.4 L850 1830.6 L852 1825.6 L854 1820.3 L856 1814.8 L858 1809.1 L860 1803.2 L862 1797.1 L864 1790.8 L866 1784.3 L868 1777.6 L870 1770.8 L872 1763.8 L874 1756.6 L876 1749.3 L878 1741.8 L880 1734.2 L882 1726.6 L884 1718.8 L886 1711 L888 1703.1 L890 1695.2 L892 1687.3 L894 1679.3 L896 1671.4 L898 1663.6 L900 1655.8 L902 1648.1 L904 1640.5 L906 1633 L908 1625.7 L910 1618.5 L912 1611.6 L914 1604.9 L916 1598.4 L918 1592.2 L920 1586.3 L922 1580.7 L924 1575.4 L926 1570.4 L928 1565.8 L930 1561.6 L932 1557.8 L934 1554.4 L936 1551.4 L938 1548.8 L940 1546.6 L942 1545 L944 1543.7 L946 1542.9 L948 1542.6 L950 1542.7 L952 1543.3 L954 1544.3 L956 1545.8 L958 1547.7 L960 1550.1 L962 1552.9 L964 1556.1 L966 1559.6 L968 1563.6 L970 1568 L972 1572.7 L974 1577.7 L976 1583 L978 1588.7 L980 1594.6 L982 1600.7 L984 1607.1 L986 1613.7 L988 1620.4 L990 1627.4 L992 1634.4 L994 1641.6 L996 1648.8 L998 1656.1 L1000 1663.5 L1002 1670.8 L1004 1678.2 L1006 1685.5 L1008 1692.8 L1010 1700 L1012 1707.2 L1014 1714.2 L1016 1721.1 L1018 1728 L1020 1734.6 L1022 1741.1 L1024 1747.5 L1026 1753.7 L1028 1759.7 L1030 1765.5 L1032 1771.2 L1034 1776.7 L1036 1781.9 L1038 1787 L1040 1791.9 L1042 1796.6 L1044 1801.2 L1046 1805.5 L1048 1809.7 L1050 1813.7 L1052 1817.5 L1054 1821.2 L1056 1824.8 L1058 1828.1 L1060 1831.4 L1062 1834.5 L1064 1837.5 L1066 1840.4 L1068 1843.2 L1070 1845.9 L1072 1848.5 L1074 1851.1 L1076 1853.5 L1078 1855.9 L1080 1858.2 L1082 1860.4 L1084 1862.6 L1086 1864.7 L1088 1866.8 L1090 1868.8 L1092 1870.8 L1094 1872.7 L1096 1874.6 L1098 1876.5 L1100 1878.3 L1102 1880 L1104 1881.7 L1106 1883.4 L1108 1885 L1110 1886.6 L1112 1888.1 L1114 1889.6 L1116 1891 L1118 1892.4 L1120 1893.7 L1122 1895 L1124 1896.2 L1126 1897.4 L1128 1898.5 L1130 1899.6 L1132 1900.6 L1134 1901.5 L1136 1902.5 L1138 1903.3 L1140 1904.1 L1142 1904.9 L1144 1905.6 L1146 1906.2 L1148 1906.9 L1150 1907.4 L1152 1908 L1154 1908.5 L1156 1908.9 L1158 1909.3 L1160 1909.7 L1162 1910 L1164 1910.4 L1166 1910.7 L1168 1910.9 L1170 1911.2 L1172 1911.4 L1174 1911.6 L1176 1911.7 L1178 1911.9 L1180 1912 L1182 1912.2 L1184 1912.3 L1186 1912.4 L1188 1912.4 L1190 1912.5" fill="none" stroke="#000" stroke-width="3" stroke-dasharray="16 10"/>
<path d="M95 1911.7 L97 1911.7 L99 1911.7 L101 1911.7 L103 1911.7 L105 1911.7 L107 1911.7 L109 1911.6 L111 1911.6 L113 1911.6 L115 1911.6 L117 1911.6 L119 1911.6 L121 1911.6 L123 1911.5 L125 1911.5 L127 1911.5 L129 1911.4 L131 1911.4 L133 1911.3 L135 1911.3 L137 1911.2 L139 1911.1 L141 1911 L143 1910.9 L145 1910.8 L147 1910.7 L149 1910.5 L151 1910.4 L153 1910.2 L155 1909.9 L157 1909.7 L159 1909.4 L161 1909.1 L163 1908.7 L165 1908.3 L167 1907.9 L169 1907.3 L171 1906.8 L173 1906.1 L175 1905.4 L177 1904.6 L179 1903.7 L181 1902.8 L183 1901.7 L185 1900.5 L187 1899.1 L189 1897.7 L191 1896.1 L193 1894.3 L195 1892.4 L197 1890.2 L199 1887.9 L201 1885.4 L203 1882.6 L205 1879.6 L207 1876.3 L209 1872.8 L211 1869 L213 1864.8 L215 1860.4 L217 1855.6 L219 1850.4 L221 1844.9 L223 1839 L225 1832.7 L227 1825.9 L229 1818.7 L231 1811.1 L233 1803 L235 1794.4 L237 1785.3 L239 1775.8 L241 1765.7 L243 1755.1 L245 1744 L247 1732.3 L249 1720.2 L251 1707.5 L253 1694.3 L255 1680.6 L257 1666.3 L259 1651.6 L261 1636.4 L263 1620.8 L265 1604.7 L267 1588.2 L269 1571.3 L271 1554 L273 1536.4 L275 1518.5 L277 1500.4 L279 1482 L281 1463.4 L283 1444.8 L285 1426 L287 1407.3 L289 1388.5 L291 1369.9 L293 1351.3 L295 1333 L297 1314.9 L299 1297.1 L301 1279.7 L303 1262.7 L305 1246.2 L307 1230.2 L309 1214.9 L311 1200.1 L313 1186.1 L315 1172.9 L317 1160.4 L319 1148.8 L321 1138.1 L323 1128.3 L325 1119.4 L327 1111.6 L329 1104.8 L331 1099 L333 1094.3 L335 1090.7 L337 1088.1 L339 1086.6 L341 1086.3 L343 1086.9 L345 1088.7 L347 1091.5 L349 1095.4 L351 1100.2 L353 1106 L355 1112.8 L357 1120.5 L359 1129 L361 1138.3 L363 1148.5 L365 1159.3 L367 1170.9 L369 1183.1 L371 1195.8 L373 1209.1 L375 1222.8 L377 1237 L379 1251.5 L381 1266.4 L383 1281.5 L385 1296.8 L387 1312.3 L389 1327.9 L391 1343.6 L393 1359.4 L395 1375.1 L397 1390.8 L399 1406.4 L401 1421.9 L403 1437.2 L405 1452.4 L407 1467.4 L409 1482.1 L411 1496.7 L413 1510.9 L415 1524.9 L417 1538.7 L419 1552.1 L421 1565.2 L423 1578 L425 1590.5 L427 1602.7 L429 1614.5 L431 1626.1 L433 1637.3 L435 1648.1 L437 1658.7 L439 1668.9 L441 1678.9 L443 1688.5 L445 1697.8 L447 1706.8 L449 1715.5 L451 1724 L453 1732.1 L455 1740 L457 1747.6 L459 1755 L461 1762.1 L463 1768.9 L465 1775.6 L467 1781.9 L469 1788.1 L471 1794 L473 1799.7 L475 1805.2 L477 1810.5 L479 1815.6 L481 1820.5 L483 1825.3 L485 1829.8 L487 1834.1 L489 1838.3 L491 1842.3 L493 1846.2 L495 1849.8 L497 1853.4 L499 1856.7 L501 1859.9 L503 1863 L505 1865.9 L507 1868.7 L509 1871.4 L511 1873.9 L513 1876.3 L515 1878.6 L517 1880.8 L519 1882.9 L521 1884.8 L523 1886.6 L525 1888.4 L527 1890 L529 1891.6 L531 1893 L533 1894.4 L535 1895.7 L537 1896.9 L539 1898 L541 1899.1 L543 1900.1 L545 1901 L547 1901.9 L549 1902.7 L551 1903.4 L553 1904.1 L555 1904.8 L557 1905.4 L559 1905.9 L561 1906.4 L563 1906.9 L565 1907.3 L567 1907.7 L569 1908.1 L571 1908.4 L573 1908.7 L575 1909 L577 1909.3 L579 1909.5 L581 1909.7 L583 1909.9 L585 1910.1 L587 1910.3 L589 1910.4 L591 1910.5 L593 1910.7 L595 1910.8 L597 1910.9 L599 1911 L601 1911 L603 1911.1 L605 1911.2 L607 1911.2 L609 1911.3 L611 1911.3 L613 1911.4 L615 1911.4 L617 1911.5 L619 1911.5 L621 1911.5 L623 1911.5 L625 1911.6 L627 1911.6 L629 1911.6 L631 1911.6 L633 1911.6 L635 1911.6 L637 1911.6 L639 1911.6 L641 1911.7 L643 1911.7 L645 1911.7 L647 1911.7 L649 1911.7 L651 1911.7 L653 1911.7 L655 1911.7 L657 1911.7 L659 1911.7 L661 1911.7 L663 1911.7 L665 1911.7 L667 1911.7 L669 1911.7 L671 1911.7 L673 1911.7 L675 1911.7" fill="none" stroke="#000" stroke-width="3.2"/>
<path d="M694 1913 L696 1913 L698 1913 L700 1913 L702 1913 L704 1913 L706 1913 L708 1913 L710 1912.9 L712 1912.9 L714 1912.9 L716 1912.9 L718 1912.9 L720 1912.9 L722 1912.9 L724 1912.9 L726 1912.8 L728 1912.8 L730 1912.8 L732 1912.8 L734 1912.7 L736 1912.7 L738 1912.6 L740 1912.6 L742 1912.5 L744 1912.5 L746 1912.4 L748 1912.3 L750 1912.2 L752 1912.1 L754 1912 L756 1911.8 L758 1911.7 L760 1911.5 L762 1911.4 L764 1911.2 L766 1910.9 L768 1910.7 L770 1910.4 L772 1910.1 L774 1909.8 L776 1909.4 L778 1909 L780 1908.5 L782 1908.1 L784 1907.5 L786 1906.9 L788 1906.3 L790 1905.6 L792 1904.8 L794 1904 L796 1903.1 L798 1902.1 L800 1901 L802 1899.9 L804 1898.6 L806 1897.3 L808 1895.9 L810 1894.3 L812 1892.6 L814 1890.8 L816 1888.9 L818 1886.8 L820 1884.6 L822 1882.3 L824 1879.8 L826 1877.1 L828 1874.3 L830 1871.3 L832 1868.2 L834 1864.8 L836 1861.3 L838 1857.6 L840 1853.7 L842 1849.5 L844 1845.2 L846 1840.7 L848 1836 L850 1831.1 L852 1825.9 L854 1820.6 L856 1815.1 L858 1809.3 L860 1803.4 L862 1797.2 L864 1790.9 L866 1784.4 L868 1777.7 L870 1770.8 L872 1763.8 L874 1756.6 L876 1749.3 L878 1741.8 L880 1734.3 L882 1726.6 L884 1718.8 L886 1711 L888 1703.1 L890 1695.2 L892 1687.3 L894 1679.3 L896 1671.4 L898 1663.6 L900 1655.8 L902 1648.1 L904 1640.5 L906 1633 L908 1625.7 L910 1618.5 L912 1611.6 L914 1604.9 L916 1598.4 L918 1592.2 L920 1586.3 L922 1580.7 L924 1575.4 L926 1570.4 L928 1565.8 L930 1561.6 L932 1557.8 L934 1554.4 L936 1551.4 L938 1548.8 L940 1546.6 L942 1545 L944 1543.7 L946 1542.9 L948 1542.6 L950 1542.7 L952 1543.3 L954 1544.3 L956 1545.8 L958 1547.7 L960 1550.1 L962 1552.9 L964 1556.1 L966 1559.6 L968 1563.6 L970 1568 L972 1572.7 L974 1577.7 L976 1583 L978 1588.7 L980 1594.6 L982 1600.7 L984 1607.1 L986 1613.7 L988 1620.4 L990 1627.4 L992 1634.4 L994 1641.6 L996 1648.8 L998 1656.1 L1000 1663.5 L1002 1670.8 L1004 1678.2 L1006 1685.5 L1008 1692.8 L1010 1700 L1012 1707.2 L1014 1714.2 L1016 1721.1 L1018 1728 L1020 1734.6 L1022 1741.1 L1024 1747.5 L1026 1753.7 L1028 1759.7 L1030 1765.5 L1032 1771.2 L1034 1776.7 L1036 1781.9 L1038 1787 L1040 1791.9 L1042 1796.6 L1044 1801.2 L1046 1805.5 L1048 1809.7 L1050 1813.7 L1052 1817.5 L1054 1821.2 L1056 1824.8 L1058 1828.1 L1060 1831.4 L1062 1834.5 L1064 1837.5 L1066 1840.4 L1068 1843.2 L1070 1845.9 L1072 1848.5 L1074 1851.1 L1076 1853.5 L1078 1855.9 L1080 1858.2 L1082 1860.4 L1084 1862.6 L1086 1864.7 L1088 1866.8 L1090 1868.8 L1092 1870.8 L1094 1872.7 L1096 1874.6 L1098 1876.5 L1100 1878.3 L1102 1880 L1104 1881.7 L1106 1883.4 L1108 1885 L1110 1886.6 L1112 1888.1 L1114 1889.6 L1116 1891 L1118 1892.4 L1120 1893.7 L1122 1895 L1124 1896.2 L1126 1897.4 L1128 1898.5 L1130 1899.6 L1132 1900.6 L1134 1901.5 L1136 1902.5 L1138 1903.3 L1140 1904.1 L1142 1904.9 L1144 1905.6 L1146 1906.2 L1148 1906.9 L1150 1907.4 L1152 1908 L1154 1908.5 L1156 1908.9 L1158 1909.3 L1160 1909.7 L1162 1910 L1164 1910.4 L1166 1910.7 L1168 1910.9 L1170 1911.2 L1172 1911.4 L1174 1911.6 L1176 1911.7 L1178 1911.9 L1180 1912 L1182 1912.2 L1184 1912.3 L1186 1912.4 L1188 1912.4 L1190 1912.5" fill="none" stroke="#000" stroke-width="3.2"/>
<path d="M675.2 1053.9H93.4V1931.7H675.2M693.6 1053.9H1190.5V1931.7H693.6" fill="none" stroke="#000" stroke-width="3.7" stroke-linejoin="miter" stroke-linecap="square"/>
<path d="M665.2 1071.1L685.2 1036.7M683.6 1071.1L703.6 1036.7M665.2 1948.9L685.2 1914.5M683.6 1948.9L703.6 1914.5" fill="none" stroke="#000" stroke-width="2.5"/>
<path d="M177.7 1931.7v17.5M343.3 1931.7v17.5M508.9 1931.7v17.5M693.4 1931.7v17.5M858.9 1931.7v17.5M1024.4 1931.7v17.5M1189.9 1931.7v17.5" stroke="#000" stroke-width="3.2" fill="none"/>
<path d="M94.9 1931.7v9.5M260.5 1931.7v9.5M426.1 1931.7v9.5M591.7 1931.7v9.5M776.1 1931.7v9.5M941.6 1931.7v9.5M1107.2 1931.7v9.5" stroke="#000" stroke-width="3.2" fill="none"/>
<text font-size="37" text-anchor="middle" transform="translate(177.7 1990.7) scale(0.980 1)">1020</text><text font-size="37" text-anchor="middle" transform="translate(343.3 1990.7) scale(0.980 1)">1022</text><text font-size="37" text-anchor="middle" transform="translate(508.9 1990.7) scale(0.980 1)">1024</text>
<text font-size="37" text-anchor="middle" transform="translate(693.4 1990.7) scale(0.980 1)">1042</text><text font-size="37" text-anchor="middle" transform="translate(858.9 1990.7) scale(0.980 1)">1044</text><text font-size="37" text-anchor="middle" transform="translate(1024.4 1990.7) scale(0.980 1)">1046</text><text font-size="37" text-anchor="middle" transform="translate(1189.9 1990.7) scale(0.980 1)">1048</text>
<text font-size="49" text-anchor="middle" transform="translate(641.8 2061.7) scale(0.946 1)">Binding energy, eV</text>
<text font-size="48" text-anchor="middle" transform="translate(55.9 1492.9) rotate(-90) scale(0.962 1)">Intensity, arb.u.</text>
<text x="119" y="1113.3" font-size="46">Zn 2p</text>
<text x="401" y="1114.3" font-size="46">Zn 2p<tspan font-size="31" dy="11.5">3/2</tspan></text>
<text x="890.5" y="1521.5" font-size="46">Zn 2p<tspan font-size="31" dy="11.5">1/2</tspan></text>
<text x="337" y="1512" font-size="46" text-anchor="middle" font-weight="bold" fill="#fff">A</text>
<text x="413" y="1843.9" font-size="46" text-anchor="middle" font-weight="bold" fill="#fff">B</text>
<text x="951.7" y="1757" font-size="46" text-anchor="middle" font-weight="bold" fill="#fff">A</text>
<text x="1069" y="1913" font-size="46" text-anchor="middle" font-weight="bold" fill="#fff">B</text>
<text font-size="96.5" class="ser" text-anchor="middle" font-weight="bold" transform="translate(1116.3 1188.8) scale(1.054 1)">(c)</text>
</g>
<g>
<defs>
<linearGradient id="dC" gradientUnits="userSpaceOnUse" x1="0" y1="1108" x2="0" y2="1915"><stop offset="0" stop-color="#00cece"/><stop offset="0.3" stop-color="#00c4c4"/><stop offset="0.5" stop-color="#009f9f"/><stop offset="0.7" stop-color="#007171"/><stop offset="0.85" stop-color="#004a4a"/><stop offset="1" stop-color="#001010"/></linearGradient>
<linearGradient id="dP" gradientUnits="userSpaceOnUse" x1="0" y1="1120" x2="0" y2="1915"><stop offset="0" stop-color="#a00cd6"/><stop offset="0.3" stop-color="#980bcb"/><stop offset="0.5" stop-color="#7b09a5"/><stop offset="0.7" stop-color="#580776"/><stop offset="0.85" stop-color="#3a044d"/><stop offset="1" stop-color="#20022b"/></linearGradient>
<linearGradient id="dCl" gradientUnits="userSpaceOnUse" x1="0" y1="1573.4" x2="0" y2="1622.6"><stop offset="0" stop-color="#00cece"/><stop offset="0.3" stop-color="#00c4c4"/><stop offset="0.5" stop-color="#009f9f"/><stop offset="0.7" stop-color="#007171"/><stop offset="0.85" stop-color="#004a4a"/><stop offset="1" stop-color="#001010"/></linearGradient>
<linearGradient id="dPl" gradientUnits="userSpaceOnUse" x1="0" y1="1629.6" x2="0" y2="1678.8"><stop offset="0" stop-color="#a00cd6"/><stop offset="0.3" stop-color="#980bcb"/><stop offset="0.5" stop-color="#7b09a5"/><stop offset="0.7" stop-color="#580776"/><stop offset="0.85" stop-color="#3a044d"/><stop offset="1" stop-color="#20022b"/></linearGradient>
</defs>
<path d="M1332.7 1919.4 L1341.7 1921.5 L1350.7 1918.2 L1359.7 1920.4 L1368.7 1918.8 L1377.7 1918.1 L1386.7 1918.3 L1395.7 1917 L1404.7 1917.2 L1413.7 1917.5 L1422.7 1918.2 L1431.7 1916.7 L1440.7 1917.3 L1449.7 1917.3 L1458.7 1916.9 L1467.7 1915.1 L1470.7 1914.6 L1473.7 1914 L1476.7 1913.3 L1479.7 1912.5 L1482.7 1911.6 L1485.7 1910.6 L1488.7 1909.6 L1491.7 1908.6 L1494.7 1907.5 L1497.7 1906.4 L1500.7 1905.2 L1503.7 1903.9 L1506.7 1902.6 L1509.7 1901.1 L1512.7 1899.4 L1515.7 1897.5 L1518.7 1895.5 L1521.7 1893.6 L1524.7 1891.9 L1527.7 1890.5 L1530.7 1889.4 L1533.7 1888.4 L1536.7 1887.3 L1539.7 1886.2 L1542.7 1884.7 L1545.7 1882.8 L1548.7 1879.9 L1551.7 1876.6 L1554.7 1873.2 L1557.7 1870 L1560.7 1867.2 L1563.7 1864.5 L1566.7 1861.6 L1569.7 1858.5 L1572.7 1854.8 L1575.7 1850.3 L1578.7 1845.2 L1581.7 1839.6 L1584.7 1833.5 L1587.7 1826.9 L1590.7 1819.7 L1593.7 1811.7 L1596.7 1802.8 L1599.7 1793 L1602.7 1781.4 L1605.7 1767.9 L1608.7 1753.2 L1611.7 1738.2 L1614.7 1723.4 L1617.7 1708.2 L1620.7 1691.6 L1623.7 1672.4 L1626.7 1649.6 L1629.7 1624.3 L1632.7 1597.2 L1635.7 1567 L1638.7 1539.7 L1641.7 1515.9 L1644.7 1492.4 L1647.7 1467.5 L1650.7 1441.8 L1653.7 1415.5 L1656.7 1388.3 L1659.7 1361 L1662.7 1333.7 L1665.7 1306.7 L1668.7 1280.3 L1671.7 1254.6 L1674.7 1230.4 L1677.7 1207.1 L1680.7 1186.9 L1683.7 1170.2 L1686.7 1156.2 L1689.7 1144.8 L1692.7 1134.6 L1695.7 1126.2 L1698.7 1120.1 L1701.7 1115.6 L1704.7 1112.3 L1707.7 1109.3 L1710.7 1108.2 L1713.7 1114.5 L1716.7 1125.6 L1719.7 1137.2 L1722.7 1149.1 L1725.7 1161.7 L1728.7 1175.6 L1731.7 1190.6 L1734.7 1207.2 L1737.7 1225.8 L1740.7 1243.6 L1743.7 1259.4 L1746.7 1274.7 L1749.7 1290 L1752.7 1305.2 L1755.7 1320.7 L1758.7 1337.3 L1761.7 1355.8 L1764.7 1373.8 L1767.7 1389.7 L1770.7 1404.4 L1773.7 1417.8 L1776.7 1430.5 L1779.7 1442.3 L1782.7 1453 L1785.7 1462.9 L1788.7 1472 L1791.7 1480.2 L1794.7 1487.4 L1797.7 1493.6 L1800.7 1499.4 L1803.7 1505 L1806.7 1510.7 L1809.7 1516.8 L1812.7 1522.9 L1815.7 1529 L1818.7 1535 L1821.7 1540.7 L1824.7 1546.1 L1827.7 1551.3 L1830.7 1556.3 L1833.7 1561.4 L1836.7 1566.6 L1839.7 1572 L1842.7 1577.7 L1845.7 1583.5 L1848.7 1589.3 L1851.7 1595.2 L1854.7 1601.1 L1857.7 1606.8 L1860.7 1612.3 L1863.7 1617.5 L1866.7 1622.6 L1869.7 1627.7 L1872.7 1632.9 L1875.7 1638.3 L1878.7 1644.1 L1881.7 1650.3 L1884.7 1656.9 L1887.7 1663.7 L1890.7 1670.4 L1893.7 1677 L1896.7 1683.3 L1899.7 1689.5 L1902.7 1695.6 L1905.7 1701.6 L1908.7 1707.6 L1911.7 1713.6 L1914.7 1719.7 L1917.7 1725.9 L1920.7 1732.1 L1923.7 1738.2 L1926.7 1744.1 L1929.7 1749.7 L1932.7 1755 L1935.7 1759.9 L1938.7 1764.7 L1941.7 1769.4 L1944.7 1774 L1947.7 1778.7 L1950.7 1783.6 L1953.7 1788.5 L1956.7 1793.4 L1959.7 1798.2 L1962.7 1802.9 L1965.7 1807.4 L1968.7 1812.4 L1971.7 1817.6 L1974.7 1822.2 L1977.7 1825.4 L1980.7 1826.6 L1983.7 1827 L1986.7 1827.4 L1989.7 1827.9 L1992.7 1830.2 L1995.7 1834.9 L1998.7 1839.9 L2001.7 1843.2 L2004.7 1845.9 L2007.7 1848.2 L2010.7 1850.3 L2013.7 1852.1 L2016.7 1853.6 L2019.7 1854.9 L2022.7 1856 L2025.7 1857.1 L2028.7 1858.2 L2031.7 1859.5 L2034.7 1861 L2037.7 1862.5 L2040.7 1864.2 L2043.7 1866 L2046.7 1868 L2049.7 1870.2 L2052.7 1873.3 L2055.7 1877 L2058.7 1880 L2061.7 1881.3 L2064.7 1882 L2067.7 1882.6 L2070.7 1883.1 L2073.7 1883.5 L2076.7 1884.1 L2079.7 1884.8 L2082.7 1885.6 L2085.7 1886.5 L2088.7 1887.5 L2091.7 1888.4 L2094.7 1889.3 L2097.7 1890.2 L2100.7 1891.1 L2103.7 1892 L2106.7 1892.8 L2109.7 1893.5 L2112.7 1894 L2115.7 1894.2 L2118.7 1894.4 L2121.7 1894.6 L2124.7 1894.7 L2127.7 1894.8 L2130.7 1894.9 L2133.7 1895 L2136.7 1895.2 L2139.7 1895.4 L2142.7 1895.8 L2145.7 1896.5 L2148.7 1897.5 L2151.7 1898.4 L2154.7 1899 L2157.7 1899.2 L2160.7 1899.4 L2163.7 1899.5 L2166.7 1899.7 L2169.7 1899.8 L2172.7 1899.9 L2175 1900 L2184 1902.8 L2193 1897.5 L2202 1899.1 L2211 1900.9 L2220 1902.1 L2229 1900.5 L2238 1898.8 L2247 1900.3 L2256 1899.8 L2265 1899.5 L2274 1898.8 L2283 1900.3 L2292 1900.2 L2301 1899.6 L2310 1899.4 L2319 1897.9 L2328 1899 L2337 1901.4 L2346 1899.4 L2355 1897.6 L2364 1901.5 L2373 1900.3 L2382 1902.5 L2391 1899.6 L2400 1898.9 L2409 1897.5 L2418 1901.4 L2418.5 1899.5 L2418.5 1903.5 L1332.7 1919.4Z" fill="url(#dC)" stroke="#00b4b4" stroke-width="1"/>
<path d="M2151.7 1898.4 L2154.7 1899 L2157.7 1899.2 L2160.7 1899.4 L2163.7 1899.5 L2166.7 1899.7 L2169.7 1899.8 L2172.7 1899.9 L2175 1900 L2184 1902.8 L2193 1897.5 L2202 1899.1 L2211 1900.9 L2220 1902.1 L2229 1900.5 L2238 1898.8 L2247 1900.3 L2256 1899.8 L2265 1899.5 L2274 1898.8 L2283 1900.3 L2292 1900.2 L2301 1899.6 L2310 1899.4 L2319 1897.9 L2328 1899 L2337 1901.4 L2346 1899.4 L2355 1897.6 L2364 1901.5 L2373 1900.3 L2382 1902.5 L2391 1899.6 L2400 1898.9 L2409 1897.5 L2418 1901.4 L2418.5 1899.5" fill="none" stroke="#0a2020" stroke-width="2" stroke-dasharray="14 7"/>
<path d="M1332.7 1919.4 L1341.7 1919.6 L1350.7 1922.2 L1359.7 1919.9 L1368.7 1920.3 L1377.7 1919.6 L1386.7 1917.7 L1395.7 1916.6 L1404.7 1919.5 L1413.7 1919.7 L1422.7 1921 L1431.7 1920.1 L1440.7 1915.8 L1449.7 1918.5 L1458.7 1916.4 L1467.7 1914.9 L1470.7 1913.8 L1473.7 1912.2 L1476.7 1910.1 L1479.7 1907.9 L1482.7 1906 L1485.7 1904.6 L1488.7 1903.4 L1491.7 1902.3 L1494.7 1901.2 L1497.7 1900.1 L1500.7 1899.1 L1503.7 1898.2 L1506.7 1897.2 L1509.7 1895.9 L1512.7 1894.3 L1515.7 1891.2 L1518.7 1887 L1521.7 1882.5 L1524.7 1878.6 L1527.7 1875.8 L1530.7 1873.7 L1533.7 1871.8 L1536.7 1869.7 L1539.7 1867 L1542.7 1863.1 L1545.7 1857.7 L1548.7 1851.3 L1551.7 1844.3 L1554.7 1836.8 L1557.7 1828.6 L1560.7 1819.4 L1563.7 1809.3 L1566.7 1798.3 L1569.7 1786.7 L1572.7 1773.8 L1575.7 1759.4 L1578.7 1743.2 L1581.7 1724.3 L1584.7 1702.4 L1587.7 1677.9 L1590.7 1649.3 L1593.7 1617.7 L1596.7 1584.9 L1599.7 1551.3 L1602.7 1521 L1605.7 1492.6 L1608.7 1465.5 L1611.7 1438.2 L1614.7 1410.5 L1617.7 1383.7 L1620.7 1358.5 L1623.7 1333.6 L1626.7 1308.1 L1629.7 1282.3 L1632.7 1257.2 L1635.7 1232.2 L1638.7 1210 L1641.7 1191 L1644.7 1174.1 L1647.7 1158.9 L1650.7 1145.3 L1653.7 1134.6 L1656.7 1125.9 L1659.7 1122.6 L1662.7 1121 L1665.7 1120.8 L1668.7 1122.8 L1671.7 1126.5 L1674.7 1133.6 L1677.7 1141.9 L1680.7 1151.2 L1683.7 1162.3 L1686.7 1176.3 L1689.7 1193.4 L1692.7 1212 L1695.7 1230.8 L1698.7 1250.9 L1701.7 1271.6 L1704.7 1291.6 L1707.7 1310.2 L1710.7 1328.1 L1713.7 1345.6 L1716.7 1363.2 L1719.7 1381 L1722.7 1398.4 L1725.7 1414.4 L1728.7 1428.9 L1731.7 1442.4 L1734.7 1454.7 L1737.7 1465.6 L1740.7 1475.5 L1743.7 1484.5 L1746.7 1492.5 L1749.7 1499.7 L1752.7 1506.5 L1755.7 1512.7 L1758.7 1518.1 L1761.7 1522.3 L1764.7 1525.9 L1767.7 1529.1 L1770.7 1531.9 L1773.7 1534.4 L1776.7 1536.4 L1779.7 1538 L1782.7 1539.2 L1785.7 1540.1 L1788.7 1541.2 L1791.7 1542.6 L1794.7 1544.4 L1797.7 1546.4 L1800.7 1548.5 L1803.7 1550.8 L1806.7 1553.4 L1809.7 1556.2 L1812.7 1559.5 L1815.7 1563.2 L1818.7 1567.9 L1821.7 1573.3 L1824.7 1579.2 L1827.7 1585.2 L1830.7 1591.2 L1833.7 1597 L1836.7 1602.9 L1839.7 1609 L1842.7 1615.2 L1845.7 1621.2 L1848.7 1627 L1851.7 1632.5 L1854.7 1637.7 L1857.7 1642.8 L1860.7 1648 L1863.7 1653.4 L1866.7 1659.4 L1869.7 1666.3 L1872.7 1673.7 L1875.7 1681.3 L1878.7 1689.2 L1881.7 1697.4 L1884.7 1705.4 L1887.7 1713.3 L1890.7 1720.6 L1893.7 1727.4 L1896.7 1733.9 L1899.7 1740.1 L1902.7 1746.2 L1905.7 1752 L1908.7 1757.6 L1911.7 1763 L1914.7 1768.3 L1917.7 1773.4 L1920.7 1778.3 L1923.7 1783 L1926.7 1787.6 L1929.7 1792 L1932.7 1796.3 L1935.7 1800.5 L1938.7 1804.5 L1941.7 1808.5 L1944.7 1812.4 L1947.7 1816.3 L1950.7 1820.2 L1953.7 1824.2 L1956.7 1828.4 L1959.7 1832.6 L1962.7 1836.7 L1965.7 1840.8 L1968.7 1844.7 L1971.7 1848.3 L1974.7 1851.8 L1977.7 1855.4 L1980.7 1858.8 L1983.7 1862 L1986.7 1864.6 L1989.7 1866.6 L1992.7 1867.8 L1995.7 1868.7 L1998.7 1869.5 L2001.7 1870.2 L2004.7 1871 L2007.7 1872.1 L2010.7 1873.6 L2013.7 1875.4 L2016.7 1877.5 L2019.7 1879.5 L2022.7 1881.5 L2025.7 1883.8 L2028.7 1886 L2031.7 1887.6 L2034.7 1888.6 L2037.7 1889.3 L2040.7 1889.9 L2043.7 1890.6 L2046.7 1891.5 L2049.7 1892.9 L2052.7 1894.7 L2055.7 1896.4 L2058.7 1897.4 L2061.7 1897.6 L2064.7 1897.4 L2067.7 1897.2 L2070.7 1897 L2073.7 1896.7 L2076.7 1896.6 L2079.7 1896.7 L2082.7 1897.5 L2085.7 1898.7 L2088.7 1900 L2091.7 1901.5 L2094.7 1902.7 L2097.7 1903.4 L2100.7 1903.7 L2103.7 1904 L2106.7 1904.1 L2109.7 1904.3 L2112.7 1904.4 L2115.7 1904.5 L2118.7 1904.6 L2121.7 1904.7 L2124.7 1904.8 L2127.7 1904.9 L2130.7 1905 L2133.7 1905.1 L2136.7 1905.2 L2139.7 1905.3 L2142.7 1905.4 L2145.7 1905.5 L2148.7 1905.6 L2151.7 1905.7 L2154.7 1905.8 L2157.7 1905.9 L2160 1906 L2169 1910 L2178 1904.5 L2187 1904.7 L2196 1906.6 L2205 1904.2 L2214 1905 L2223 1904.8 L2232 1905.6 L2241 1907 L2250 1905.2 L2259 1906.5 L2268 1904.3 L2277 1905.4 L2286 1901.4 L2295 1902.4 L2304 1905.9 L2313 1903.6 L2322 1905.4 L2331 1905.2 L2340 1906.4 L2349 1905.5 L2358 1905.7 L2367 1903.8 L2376 1902.8 L2385 1902.7 L2394 1903 L2403 1901.8 L2412 1902.7 L2418.5 1903.5 L2418.5 1903.5 L1332.7 1919.4Z" fill="url(#dP)" fill-opacity="0.77" stroke="#b030e0" stroke-width="1.6"/>
<rect x="1323.9" y="1056.3" width="1096.1" height="878.9" fill="none" stroke="#000" stroke-width="3.7"/>
<path d="M1424 1935.2v17.5M1623.4 1935.2v17.5M1822.8 1935.2v17.5M2022.2 1935.2v17.5M2221.6 1935.2v17.5M2421 1935.2v17.5" stroke="#000" stroke-width="3.2" fill="none"/>
<path d="M1324.3 1935.2v9.5M1523.7 1935.2v9.5M1723.1 1935.2v9.5M1922.5 1935.2v9.5M2121.9 1935.2v9.5M2321.3 1935.2v9.5" stroke="#000" stroke-width="3.2" fill="none"/>
<text x="1424" y="1993.5" font-size="37.5" text-anchor="middle">528</text><text x="1623.4" y="1993.5" font-size="37.5" text-anchor="middle">530</text><text x="1822.8" y="1993.5" font-size="37.5" text-anchor="middle">532</text><text x="2022.2" y="1993.5" font-size="37.5" text-anchor="middle">534</text><text x="2221.6" y="1993.5" font-size="37.5" text-anchor="middle">536</text><text x="2421" y="1993.5" font-size="37.5" text-anchor="middle">538</text>
<text font-size="49.3" text-anchor="middle" transform="translate(1871.8 2064.1) scale(0.938 1)">Binding energy, eV</text>
<text font-size="48" text-anchor="middle" transform="translate(1286.5 1494.2) rotate(-90) scale(0.962 1)">Intensity, arb.u.</text>
<text x="1346" y="1124.9" font-size="46.5">O 1s</text>
<text x="1522" y="1160.7" font-size="41">530.4</text>
<text x="1753.5" y="1160.7" font-size="41">530.8</text>
<rect x="2003" y="1573.4" width="101.8" height="49.2" fill="url(#dCl)" stroke="#004444" stroke-width="1.2"/>
<rect x="2003" y="1629.6" width="101.8" height="49.2" fill="url(#dPl)" fill-opacity="0.8" stroke="#5a3a66" stroke-width="1.2"/>
<text x="2128.5" y="1612.7" font-size="45">ZnO</text>
<text x="2117" y="1669.3" font-size="45">Zn-Co</text>
<text font-size="95" class="ser" text-anchor="middle" font-weight="bold" transform="translate(2326.2 1191) scale(1.054 1)">(d)</text>
</g>
<g>
<defs>
<linearGradient id="eC" gradientUnits="userSpaceOnUse" x1="0" y1="2548" x2="0" y2="2920"><stop offset="0" stop-color="#9c00d0"/><stop offset="0.3" stop-color="#9400c6"/><stop offset="0.5" stop-color="#7800a0"/><stop offset="0.7" stop-color="#560072"/><stop offset="0.85" stop-color="#38004b"/><stop offset="1" stop-color="#17001f"/></linearGradient>
<linearGradient id="eD" gradientUnits="userSpaceOnUse" x1="0" y1="2358" x2="0" y2="2920"><stop offset="0" stop-color="#ff0000"/><stop offset="0.3" stop-color="#f20000"/><stop offset="0.5" stop-color="#c40000"/><stop offset="0.7" stop-color="#8c0000"/><stop offset="0.85" stop-color="#5c0000"/><stop offset="1" stop-color="#260000"/></linearGradient>
<linearGradient id="eCl" gradientUnits="userSpaceOnUse" x1="0" y1="2591.7" x2="0" y2="2634.6"><stop offset="0" stop-color="#9c00d0"/><stop offset="0.3" stop-color="#9400c6"/><stop offset="0.5" stop-color="#7800a0"/><stop offset="0.7" stop-color="#560072"/><stop offset="0.85" stop-color="#38004b"/><stop offset="1" stop-color="#17001f"/></linearGradient>
<linearGradient id="eDl" gradientUnits="userSpaceOnUse" x1="0" y1="2640.9" x2="0" y2="2684.5"><stop offset="0" stop-color="#ff0000"/><stop offset="0.3" stop-color="#f20000"/><stop offset="0.5" stop-color="#c40000"/><stop offset="0.7" stop-color="#8c0000"/><stop offset="0.85" stop-color="#5c0000"/><stop offset="1" stop-color="#260000"/></linearGradient>
</defs>
<path d="M94 2927 L96 2926.9 L98 2926.9 L100 2926.9 L102 2926.8 L104 2926.8 L106 2926.7 L108 2926.7 L110 2926.6 L112 2926.6 L114 2926.5 L116 2926.5 L118 2926.4 L120 2926.4 L122 2926.4 L124 2926.3 L126 2926.3 L128 2926.2 L130 2926.2 L132 2926.1 L134 2926.1 L136 2926 L138 2926 L140 2926 L142 2925.9 L144 2925.9 L146 2925.8 L148 2925.8 L150 2925.7 L152 2925.7 L154 2925.6 L156 2925.6 L158 2925.5 L160 2925.5 L162 2925.4 L164 2925.4 L166 2925.3 L168 2925.3 L170 2925.2 L172 2925.2 L174 2925.1 L176 2925.1 L178 2925 L180 2925 L182 2924.9 L184 2924.9 L186 2924.8 L188 2924.8 L190 2924.7 L192 2924.6 L194 2924.6 L196 2924.5 L198 2924.4 L200 2924.4 L202 2924.3 L204 2924.2 L206 2924.2 L208 2924.1 L210 2924 L212 2923.9 L214 2923.8 L216 2923.8 L218 2923.7 L220 2923.6 L222 2923.5 L224 2923.4 L226 2923.3 L228 2923.2 L230 2923 L232 2922.9 L234 2922.8 L236 2922.7 L238 2922.5 L240 2922.4 L242 2922.2 L244 2922 L246 2921.9 L248 2921.7 L250 2921.5 L252 2921.3 L254 2921.1 L256 2920.8 L258 2920.6 L260 2920.3 L262 2920 L264 2919.8 L266 2919.5 L268 2919.1 L270 2918.8 L272 2918.4 L274 2918.1 L276 2917.7 L278 2917.2 L280 2916.8 L282 2916.3 L284 2915.8 L286 2915.3 L288 2914.8 L290 2914.2 L292 2913.6 L294 2912.9 L296 2912.2 L298 2911.5 L300 2910.8 L302 2910 L304 2909.1 L306 2908.3 L308 2907.3 L310 2906.4 L312 2905.4 L314 2904.3 L316 2903.2 L318 2902 L320 2900.8 L322 2899.5 L324 2898.2 L326 2896.8 L328 2895.3 L330 2893.8 L332 2892.2 L334 2890.5 L336 2888.8 L338 2887 L340 2885.1 L342 2883.2 L344 2881.2 L346 2879.1 L348 2876.9 L350 2874.6 L352 2872.3 L354 2869.8 L356 2867.3 L358 2864.7 L360 2862 L362 2859.2 L364 2856.4 L366 2853.4 L368 2850.4 L370 2847.2 L372 2844 L374 2840.6 L376 2837.2 L378 2833.7 L380 2830.1 L382 2826.4 L384 2822.6 L386 2818.7 L388 2814.7 L390 2810.6 L392 2806.5 L394 2802.2 L396 2797.9 L398 2793.5 L400 2789 L402 2784.4 L404 2779.7 L406 2775 L408 2770.2 L410 2765.3 L412 2760.4 L414 2755.4 L416 2750.3 L418 2745.2 L420 2740 L422 2734.8 L424 2729.6 L426 2724.3 L428 2719 L430 2713.7 L432 2708.3 L434 2702.9 L436 2697.5 L438 2692.2 L440 2686.8 L442 2681.4 L444 2676.1 L446 2670.7 L448 2665.4 L450 2660.2 L452 2654.9 L454 2649.8 L456 2644.6 L458 2639.6 L460 2634.6 L462 2629.7 L464 2624.8 L466 2620.1 L468 2615.5 L470 2610.9 L472 2606.5 L474 2602.2 L476 2598 L478 2593.9 L480 2590 L482 2586.2 L484 2582.6 L486 2579.1 L488 2575.8 L490 2572.7 L492 2569.7 L494 2566.9 L496 2564.2 L498 2561.8 L500 2559.5 L502 2557.4 L504 2555.6 L506 2553.9 L508 2552.4 L510 2551.1 L512 2550.1 L514 2549.2 L516 2548.5 L518 2548.1 L520 2547.8 L522 2547.8 L524 2548 L526 2548.4 L528 2548.9 L530 2549.7 L532 2550.8 L534 2552 L536 2553.4 L538 2555 L540 2556.8 L542 2558.8 L544 2561 L546 2563.4 L548 2565.9 L550 2568.7 L552 2571.6 L554 2574.7 L556 2577.9 L558 2581.3 L560 2584.9 L562 2588.6 L564 2592.4 L566 2596.4 L568 2600.5 L570 2604.8 L572 2609.1 L574 2613.6 L576 2618.1 L578 2622.8 L580 2627.5 L582 2632.4 L584 2637.3 L586 2642.2 L588 2647.3 L590 2652.4 L592 2657.5 L594 2662.7 L596 2667.9 L598 2673.2 L600 2678.4 L602 2683.7 L604 2689 L606 2694.3 L608 2699.6 L610 2704.9 L612 2710.1 L614 2715.4 L616 2720.6 L618 2725.8 L620 2730.9 L622 2736.1 L624 2741.1 L626 2746.1 L628 2751.1 L630 2756 L632 2760.8 L634 2765.6 L636 2770.3 L638 2775 L640 2779.5 L642 2784 L644 2788.4 L646 2792.7 L648 2797 L650 2801.1 L652 2805.2 L654 2809.2 L656 2813.1 L658 2816.9 L660 2820.6 L662 2824.2 L664 2827.7 L666 2831.1 L668 2834.4 L670 2837.7 L672 2840.8 L674 2843.9 L676 2846.8 L678 2849.7 L680 2852.5 L682 2855.1 L684 2857.7 L686 2860.2 L688 2862.7 L690 2865 L692 2867.2 L694 2869.4 L696 2871.5 L698 2873.5 L700 2875.4 L702 2877.3 L704 2879.1 L706 2880.8 L708 2882.4 L710 2883.9 L712 2885.4 L714 2886.9 L716 2888.2 L718 2889.5 L720 2890.8 L722 2892 L724 2893.1 L726 2894.2 L728 2895.2 L730 2896.2 L732 2897.1 L734 2897.9 L736 2898.8 L738 2899.6 L740 2900.3 L742 2901 L744 2901.7 L746 2902.3 L748 2902.9 L750 2903.4 L752 2903.9 L754 2904.4 L756 2904.9 L758 2905.3 L760 2905.7 L762 2906.1 L764 2906.5 L766 2906.8 L768 2907.1 L770 2907.4 L772 2907.7 L774 2907.9 L776 2908.1 L778 2908.4 L780 2908.5 L782 2908.7 L784 2908.9 L786 2909 L788 2909.2 L790 2909.3 L792 2909.4 L794 2909.5 L796 2909.6 L798 2909.7 L800 2909.8 L802 2909.9 L804 2909.9 L806 2910 L808 2910 L810 2910.1 L812 2910.1 L814 2910.1 L816 2910.1 L818 2910.2 L820 2910.2 L822 2910.2 L824 2910.2 L826 2910.2 L828 2910.2 L830 2910.2 L832 2910.2 L834 2910.2 L836 2910.2 L838 2910.1 L840 2910.1 L842 2910.1 L844 2910.1 L846 2910 L848 2910 L850 2910 L852 2910 L854 2909.9 L856 2909.9 L858 2909.9 L860 2909.8 L862 2909.8 L864 2909.8 L866 2909.7 L868 2909.7 L870 2909.7 L872 2909.6 L874 2909.6 L876 2909.5 L878 2909.5 L880 2909.5 L882 2909.4 L884 2909.4 L886 2909.3 L888 2909.3 L890 2909.3 L892 2909.2 L894 2909.2 L896 2909.1 L898 2909.1 L900 2909 L902 2909 L904 2909 L906 2908.9 L908 2908.9 L910 2908.8 L912 2908.8 L914 2908.7 L916 2908.7 L918 2908.6 L920 2908.6 L922 2908.6 L924 2908.5 L926 2908.5 L928 2908.4 L930 2908.4 L932 2908.3 L934 2908.3 L936 2908.3 L938 2908.2 L940 2908.2 L942 2908.1 L944 2908.1 L946 2908 L948 2908 L950 2907.9 L952 2907.9 L954 2907.9 L956 2907.8 L958 2907.8 L960 2907.7 L962 2907.7 L964 2907.6 L966 2907.6 L968 2907.5 L970 2907.5 L972 2907.5 L974 2907.4 L976 2907.4 L978 2907.3 L980 2907.3 L982 2907.2 L984 2907.2 L986 2907.1 L988 2907.1 L990 2907.1 L992 2907 L994 2907 L996 2906.9 L998 2906.9 L1000 2906.8 L1002 2906.8 L1004 2906.7 L1006 2906.7 L1008 2906.7 L1010 2906.6 L1012 2906.6 L1014 2906.5 L1016 2906.5 L1018 2906.4 L1020 2906.4 L1022 2906.3 L1024 2906.3 L1026 2906.2 L1028 2906.2 L1030 2906.2 L1032 2906.1 L1034 2906.1 L1036 2906 L1038 2906 L1040 2905.9 L1042 2905.9 L1044 2905.8 L1046 2905.8 L1048 2905.8 L1050 2905.7 L1052 2905.7 L1054 2905.6 L1056 2905.6 L1058 2905.5 L1060 2905.5 L1062 2905.4 L1064 2905.4 L1066 2905.4 L1068 2905.3 L1070 2905.3 L1072 2905.2 L1074 2905.2 L1076 2905.1 L1078 2905.1 L1080 2905 L1082 2905 L1084 2905 L1086 2904.9 L1088 2904.9 L1090 2904.8 L1092 2904.8 L1094 2904.7 L1096 2904.7 L1098 2904.6 L1100 2904.6 L1102 2904.6 L1104 2904.5 L1106 2904.5 L1108 2904.4 L1110 2904.4 L1112 2904.3 L1114 2904.3 L1116 2904.2 L1118 2904.2 L1120 2904.2 L1122 2904.1 L1124 2904.1 L1126 2904 L1128 2904 L1130 2903.9 L1132 2903.9 L1134 2903.8 L1136 2903.8 L1138 2903.8 L1140 2903.7 L1142 2903.7 L1144 2903.6 L1146 2903.6 L1148 2903.5 L1150 2903.5 L1152 2903.4 L1154 2903.4 L1156 2903.4 L1158 2903.3 L1160 2903.3 L1162 2903.2 L1164 2903.2 L1166 2903.1 L1168 2903.1 L1170 2903 L1172 2903 L1174 2903 L1176 2902.9 L1178 2902.9 L1180 2902.8 L1182 2902.8 L1184 2902.7 L1186 2902.7 L1188 2902.6 L1190 2902.6 L1190 2902.6 L94 2927Z" fill="url(#eC)"/>
<path d="M94 2927 L96 2926.9 L98 2926.9 L100 2926.9 L102 2926.8 L104 2926.8 L106 2926.7 L108 2926.7 L110 2926.6 L112 2926.6 L114 2926.5 L116 2926.5 L118 2926.5 L120 2926.4 L122 2926.4 L124 2926.3 L126 2926.3 L128 2926.2 L130 2926.2 L132 2926.1 L134 2926.1 L136 2926.1 L138 2926 L140 2926 L142 2925.9 L144 2925.9 L146 2925.8 L148 2925.8 L150 2925.7 L152 2925.7 L154 2925.7 L156 2925.6 L158 2925.6 L160 2925.5 L162 2925.5 L164 2925.4 L166 2925.4 L168 2925.3 L170 2925.3 L172 2925.3 L174 2925.2 L176 2925.2 L178 2925.1 L180 2925.1 L182 2925 L184 2925 L186 2924.9 L188 2924.9 L190 2924.9 L192 2924.8 L194 2924.8 L196 2924.7 L198 2924.7 L200 2924.6 L202 2924.6 L204 2924.5 L206 2924.5 L208 2924.5 L210 2924.4 L212 2924.4 L214 2924.3 L216 2924.3 L218 2924.2 L220 2924.2 L222 2924.1 L224 2924.1 L226 2924 L228 2924 L230 2924 L232 2923.9 L234 2923.9 L236 2923.8 L238 2923.8 L240 2923.7 L242 2923.7 L244 2923.6 L246 2923.6 L248 2923.6 L250 2923.5 L252 2923.5 L254 2923.4 L256 2923.4 L258 2923.3 L260 2923.3 L262 2923.2 L264 2923.2 L266 2923.2 L268 2923.1 L270 2923.1 L272 2923 L274 2923 L276 2922.9 L278 2922.9 L280 2922.8 L282 2922.8 L284 2922.7 L286 2922.7 L288 2922.6 L290 2922.6 L292 2922.5 L294 2922.4 L296 2922.4 L298 2922.3 L300 2922.2 L302 2922.1 L304 2922 L306 2921.9 L308 2921.8 L310 2921.6 L312 2921.4 L314 2921.2 L316 2920.9 L318 2920.6 L320 2920.3 L322 2919.8 L324 2919.3 L326 2918.8 L328 2918.1 L330 2917.3 L332 2916.3 L334 2915.2 L336 2914 L338 2912.5 L340 2910.8 L342 2908.8 L344 2906.5 L346 2903.9 L348 2901 L350 2897.6 L352 2893.8 L354 2889.5 L356 2884.7 L358 2879.3 L360 2873.3 L362 2866.6 L364 2859.2 L366 2851.1 L368 2842.2 L370 2832.5 L372 2821.9 L374 2810.5 L376 2798.2 L378 2785 L380 2771 L382 2756.1 L384 2740.3 L386 2723.7 L388 2706.4 L390 2688.4 L392 2669.7 L394 2650.5 L396 2630.9 L398 2611 L400 2590.8 L402 2570.5 L404 2550.4 L406 2530.4 L408 2510.8 L410 2491.7 L412 2473.4 L414 2455.8 L416 2439.3 L418 2424 L420 2409.9 L422 2397.4 L424 2386.3 L426 2377 L428 2369.5 L430 2363.8 L432 2360 L434 2358.2 L436 2358.3 L438 2360.5 L440 2364.5 L442 2370.5 L444 2378.3 L446 2387.9 L448 2399.2 L450 2412 L452 2426.2 L454 2441.7 L456 2458.3 L458 2475.9 L460 2494.4 L462 2513.5 L464 2533.1 L466 2553 L468 2573.1 L470 2593.3 L472 2613.3 L474 2633.1 L476 2652.6 L478 2671.6 L480 2690 L482 2707.8 L484 2724.9 L486 2741.2 L488 2756.7 L490 2771.4 L492 2785.2 L494 2798.1 L496 2810.1 L498 2821.3 L500 2831.6 L502 2841 L504 2849.7 L506 2857.6 L508 2864.7 L510 2871.2 L512 2877 L514 2882.2 L516 2886.8 L518 2890.9 L520 2894.5 L522 2897.7 L524 2900.5 L526 2903 L528 2905.1 L530 2906.9 L532 2908.5 L534 2909.8 L536 2911 L538 2911.9 L540 2912.8 L542 2913.5 L544 2914 L546 2914.5 L548 2914.9 L550 2915.2 L552 2915.5 L554 2915.7 L556 2915.8 L558 2916 L560 2916.1 L562 2916.1 L564 2916.2 L566 2916.2 L568 2916.2 L570 2916.2 L572 2916.2 L574 2916.2 L576 2916.2 L578 2916.2 L580 2916.1 L582 2916.1 L584 2916.1 L586 2916 L588 2916 L590 2915.9 L592 2915.9 L594 2915.9 L596 2915.8 L598 2915.8 L600 2915.7 L602 2915.7 L604 2915.6 L606 2915.6 L608 2915.5 L610 2915.5 L612 2915.5 L614 2915.4 L616 2915.4 L618 2915.3 L620 2915.3 L622 2915.2 L624 2915.2 L626 2915.1 L628 2915.1 L630 2915.1 L632 2915 L634 2915 L636 2914.9 L638 2914.9 L640 2914.8 L642 2914.8 L644 2914.7 L646 2914.7 L648 2914.7 L650 2914.6 L652 2914.6 L654 2914.5 L656 2914.5 L658 2914.4 L660 2914.4 L662 2914.3 L664 2914.3 L666 2914.3 L668 2914.2 L670 2914.2 L672 2914.1 L674 2914.1 L676 2914 L678 2914 L680 2913.9 L682 2913.9 L684 2913.9 L686 2913.8 L688 2913.8 L690 2913.7 L692 2913.7 L694 2913.6 L696 2913.6 L698 2913.5 L700 2913.5 L702 2913.5 L704 2913.4 L706 2913.4 L708 2913.3 L710 2913.3 L712 2913.2 L714 2913.2 L716 2913.1 L718 2913.1 L720 2913.1 L722 2913 L724 2913 L726 2912.9 L728 2912.9 L730 2912.8 L732 2912.8 L734 2912.7 L736 2912.7 L738 2912.7 L740 2912.6 L742 2912.6 L744 2912.5 L746 2912.5 L748 2912.4 L750 2912.4 L752 2912.3 L754 2912.3 L756 2912.3 L758 2912.2 L760 2912.2 L762 2912.1 L764 2912.1 L766 2912 L768 2912 L770 2911.9 L772 2911.9 L774 2911.9 L776 2911.8 L778 2911.8 L780 2911.7 L782 2911.7 L784 2911.6 L786 2911.6 L788 2911.5 L790 2911.5 L792 2911.5 L794 2911.4 L796 2911.4 L798 2911.3 L800 2911.3 L802 2911.2 L804 2911.2 L806 2911.1 L808 2911.1 L810 2911.1 L812 2911 L814 2911 L816 2910.9 L818 2910.9 L820 2910.8 L822 2910.8 L824 2910.7 L826 2910.7 L828 2910.7 L830 2910.6 L832 2910.6 L834 2910.5 L836 2910.5 L838 2910.4 L840 2910.4 L842 2910.3 L844 2910.3 L846 2910.3 L848 2910.2 L850 2910.2 L852 2910.1 L854 2910.1 L856 2910 L858 2910 L860 2909.9 L862 2909.9 L864 2909.9 L866 2909.8 L868 2909.8 L870 2909.7 L872 2909.7 L874 2909.6 L876 2909.6 L878 2909.5 L880 2909.5 L882 2909.5 L884 2909.4 L886 2909.4 L888 2909.3 L890 2909.3 L892 2909.2 L894 2909.2 L896 2909.1 L898 2909.1 L900 2909.1 L902 2909 L904 2909 L906 2908.9 L908 2908.9 L910 2908.8 L912 2908.8 L914 2908.7 L916 2908.7 L918 2908.7 L920 2908.6 L922 2908.6 L924 2908.5 L926 2908.5 L928 2908.4 L930 2908.4 L932 2908.3 L934 2908.3 L936 2908.3 L938 2908.2 L940 2908.2 L942 2908.1 L944 2908.1 L946 2908 L948 2908 L950 2907.9 L952 2907.9 L954 2907.9 L956 2907.8 L958 2907.8 L960 2907.7 L962 2907.7 L964 2907.6 L966 2907.6 L968 2907.5 L970 2907.5 L972 2907.5 L974 2907.4 L976 2907.4 L978 2907.3 L980 2907.3 L982 2907.2 L984 2907.2 L986 2907.1 L988 2907.1 L990 2907.1 L992 2907 L994 2907 L996 2906.9 L998 2906.9 L1000 2906.8 L1002 2906.8 L1004 2906.7 L1006 2906.7 L1008 2906.7 L1010 2906.6 L1012 2906.6 L1014 2906.5 L1016 2906.5 L1018 2906.4 L1020 2906.4 L1022 2906.3 L1024 2906.3 L1026 2906.2 L1028 2906.2 L1030 2906.2 L1032 2906.1 L1034 2906.1 L1036 2906 L1038 2906 L1040 2905.9 L1042 2905.9 L1044 2905.8 L1046 2905.8 L1048 2905.8 L1050 2905.7 L1052 2905.7 L1054 2905.6 L1056 2905.6 L1058 2905.5 L1060 2905.5 L1062 2905.4 L1064 2905.4 L1066 2905.4 L1068 2905.3 L1070 2905.3 L1072 2905.2 L1074 2905.2 L1076 2905.1 L1078 2905.1 L1080 2905 L1082 2905 L1084 2905 L1086 2904.9 L1088 2904.9 L1090 2904.8 L1092 2904.8 L1094 2904.7 L1096 2904.7 L1098 2904.6 L1100 2904.6 L1102 2904.6 L1104 2904.5 L1106 2904.5 L1108 2904.4 L1110 2904.4 L1112 2904.3 L1114 2904.3 L1116 2904.2 L1118 2904.2 L1120 2904.2 L1122 2904.1 L1124 2904.1 L1126 2904 L1128 2904 L1130 2903.9 L1132 2903.9 L1134 2903.8 L1136 2903.8 L1138 2903.8 L1140 2903.7 L1142 2903.7 L1144 2903.6 L1146 2903.6 L1148 2903.5 L1150 2903.5 L1152 2903.4 L1154 2903.4 L1156 2903.4 L1158 2903.3 L1160 2903.3 L1162 2903.2 L1164 2903.2 L1166 2903.1 L1168 2903.1 L1170 2903 L1172 2903 L1174 2903 L1176 2902.9 L1178 2902.9 L1180 2902.8 L1182 2902.8 L1184 2902.7 L1186 2902.7 L1188 2902.6 L1190 2902.6 L1190 2902.6 L94 2927Z" fill="url(#eD)" stroke="#e00030" stroke-width="1"/>
<path d="M94 2927 L96 2926.9 L98 2926.9 L100 2926.9 L102 2926.8 L104 2926.8 L106 2926.7 L108 2926.7 L110 2926.6 L112 2926.6 L114 2926.5 L116 2926.5 L118 2926.4 L120 2926.4 L122 2926.4 L124 2926.3 L126 2926.3 L128 2926.2 L130 2926.2 L132 2926.1 L134 2926.1 L136 2926 L138 2926 L140 2926 L142 2925.9 L144 2925.9 L146 2925.8 L148 2925.8 L150 2925.7 L152 2925.7 L154 2925.6 L156 2925.6 L158 2925.5 L160 2925.5 L162 2925.4 L164 2925.4 L166 2925.3 L168 2925.3 L170 2925.2 L172 2925.2 L174 2925.1 L176 2925.1 L178 2925 L180 2925 L182 2924.9 L184 2924.9 L186 2924.8 L188 2924.8 L190 2924.7 L192 2924.6 L194 2924.6 L196 2924.5 L198 2924.4 L200 2924.4 L202 2924.3 L204 2924.2 L206 2924.2 L208 2924.1 L210 2924 L212 2923.9 L214 2923.8 L216 2923.8 L218 2923.7 L220 2923.6 L222 2923.5 L224 2923.4 L226 2923.3 L228 2923.2 L230 2923 L232 2922.9 L234 2922.8 L236 2922.7 L238 2922.5 L240 2922.4 L242 2922.2 L244 2922 L246 2921.9 L248 2921.7 L250 2921.5 L252 2921.3 L254 2921.1 L256 2920.8 L258 2920.6 L260 2920.3 L262 2920 L264 2919.8 L266 2919.5 L268 2919.1 L270 2918.8 L272 2918.4 L274 2918.1 L276 2917.7 L278 2917.2 L280 2916.8 L282 2916.3 L284 2915.8 L286 2915.3 L288 2914.7 L290 2914.1 L292 2913.5 L294 2912.8 L296 2912.1 L298 2911.4 L300 2910.6 L302 2909.7 L304 2908.8 L306 2907.9 L308 2906.9 L310 2905.8 L312 2904.6 L314 2903.4 L316 2902.1 L318 2900.6 L320 2899.1 L322 2897.4 L324 2895.6 L326 2893.7 L328 2891.6 L330 2889.3 L332 2886.8 L334 2884.1 L336 2881.2 L338 2877.9 L340 2874.4 L342 2870.5 L344 2866.2 L346 2861.5 L348 2856.4 L350 2850.8 L352 2844.7 L354 2837.9 L356 2830.6 L358 2822.6 L360 2813.8 L362 2804.3 L364 2794 L366 2782.9 L368 2770.8 L370 2757.8 L372 2743.9 L374 2729 L376 2713.1 L378 2696.2 L380 2678.2 L382 2659.3 L384 2639.5 L386 2618.7 L388 2597 L390 2574.5 L392 2551.2 L394 2527.3 L396 2502.9 L398 2478 L400 2452.8 L402 2427.5 L404 2402.1 L406 2376.9 L408 2352 L410 2327.6 L412 2303.9 L414 2281 L416 2259 L418 2238.3 L420 2218.8 L422 2200.8 L424 2184.4 L426 2169.8 L428 2156.9 L430 2146 L432 2137 L434 2130 L436 2125.1 L438 2122.1 L440 2121.2 L442 2122.3 L444 2125.3 L446 2130 L448 2136.6 L450 2144.7 L452 2154.3 L454 2165.2 L456 2177.3 L458 2190.5 L460 2204.5 L462 2219.2 L464 2234.5 L466 2250.3 L468 2266.2 L470 2282.3 L472 2298.4 L474 2314.3 L476 2329.9 L478 2345.2 L480 2360 L482 2374.3 L484 2388 L486 2401.1 L488 2413.5 L490 2425.2 L492 2436.1 L494 2446.4 L496 2455.9 L498 2464.7 L500 2472.9 L502 2480.4 L504 2487.2 L506 2493.5 L508 2499.2 L510 2504.5 L512 2509.3 L514 2513.7 L516 2517.7 L518 2521.4 L520 2524.8 L522 2528 L524 2531.1 L526 2533.9 L528 2536.7 L530 2539.4 L532 2542 L534 2544.6 L536 2547.2 L538 2549.8 L540 2552.5 L542 2555.2 L544 2558 L546 2560.9 L548 2563.9 L550 2567 L552 2570.3 L554 2573.6 L556 2577 L558 2580.6 L560 2584.3 L562 2588.1 L564 2592.1 L566 2596.1 L568 2600.3 L570 2604.6 L572 2609 L574 2613.5 L576 2618 L578 2622.7 L580 2627.5 L582 2632.3 L584 2637.2 L586 2642.2 L588 2647.3 L590 2652.4 L592 2657.5 L594 2662.7 L596 2667.9 L598 2673.2 L600 2678.4 L602 2683.7 L604 2689 L606 2694.3 L608 2699.6 L610 2704.9 L612 2710.1 L614 2715.4 L616 2720.6 L618 2725.8 L620 2730.9 L622 2736.1 L624 2741.1 L626 2746.1 L628 2751.1 L630 2756 L632 2760.8 L634 2765.6 L636 2770.3 L638 2775 L640 2779.5 L642 2784 L644 2788.4 L646 2792.7 L648 2797 L650 2801.1 L652 2805.2 L654 2809.2 L656 2813.1 L658 2816.9 L660 2820.6 L662 2824.2 L664 2827.7 L666 2831.1 L668 2834.4 L670 2837.7 L672 2840.8 L674 2843.9 L676 2846.8 L678 2849.7 L680 2852.5 L682 2855.1 L684 2857.7 L686 2860.2 L688 2862.7 L690 2865 L692 2867.2 L694 2869.4 L696 2871.5 L698 2873.5 L700 2875.4 L702 2877.3 L704 2879.1 L706 2880.8 L708 2882.4 L710 2883.9 L712 2885.4 L714 2886.9 L716 2888.2 L718 2889.5 L720 2890.8 L722 2892 L724 2893.1 L726 2894.2 L728 2895.2 L730 2896.2 L732 2897.1 L734 2897.9 L736 2898.8 L738 2899.6 L740 2900.3 L742 2901 L744 2901.7 L746 2902.3 L748 2902.9 L750 2903.4 L752 2903.9 L754 2904.4 L756 2904.9 L758 2905.3 L760 2905.7 L762 2906.1 L764 2906.5 L766 2906.8 L768 2907.1 L770 2907.4 L772 2907.7 L774 2907.9 L776 2908.1 L778 2908.4 L780 2908.5 L782 2908.7 L784 2908.9 L786 2909 L788 2909.2 L790 2909.3 L792 2909.4 L794 2909.5 L796 2909.6 L798 2909.7 L800 2909.8 L802 2909.9 L804 2909.9 L806 2910 L808 2910 L810 2910.1 L812 2910.1 L814 2910.1 L816 2910.1 L818 2910.2 L820 2910.2 L822 2910.2 L824 2910.2 L826 2910.2 L828 2910.2 L830 2910.2 L832 2910.2 L834 2910.2 L836 2910.2 L838 2910.1 L840 2910.1 L842 2910.1 L844 2910.1 L846 2910 L848 2910 L850 2910 L852 2910 L854 2909.9 L856 2909.9 L858 2909.9 L860 2909.8 L862 2909.8 L864 2909.8 L866 2909.7 L868 2909.7 L870 2909.7 L872 2909.6 L874 2909.6 L876 2909.5 L878 2909.5 L880 2909.5 L882 2909.4 L884 2909.4 L886 2909.3 L888 2909.3 L890 2909.3 L892 2909.2 L894 2909.2 L896 2909.1 L898 2909.1 L900 2909 L902 2909 L904 2909 L906 2908.9 L908 2908.9 L910 2908.8 L912 2908.8 L914 2908.7 L916 2908.7 L918 2908.6 L920 2908.6 L922 2908.6 L924 2908.5 L926 2908.5 L928 2908.4 L930 2908.4 L932 2908.3 L934 2908.3 L936 2908.3 L938 2908.2 L940 2908.2 L942 2908.1 L944 2908.1 L946 2908 L948 2908 L950 2907.9 L952 2907.9 L954 2907.9 L956 2907.8 L958 2907.8 L960 2907.7 L962 2907.7 L964 2907.6 L966 2907.6 L968 2907.5 L970 2907.5 L972 2907.5 L974 2907.4 L976 2907.4 L978 2907.3 L980 2907.3 L982 2907.2 L984 2907.2 L986 2907.1 L988 2907.1 L990 2907.1 L992 2907 L994 2907 L996 2906.9 L998 2906.9 L1000 2906.8 L1002 2906.8 L1004 2906.7 L1006 2906.7 L1008 2906.7 L1010 2906.6 L1012 2906.6 L1014 2906.5 L1016 2906.5 L1018 2906.4 L1020 2906.4 L1022 2906.3 L1024 2906.3 L1026 2906.2 L1028 2906.2 L1030 2906.2 L1032 2906.1 L1034 2906.1 L1036 2906 L1038 2906 L1040 2905.9 L1042 2905.9 L1044 2905.8 L1046 2905.8 L1048 2905.8 L1050 2905.7 L1052 2905.7 L1054 2905.6 L1056 2905.6 L1058 2905.5 L1060 2905.5 L1062 2905.4 L1064 2905.4 L1066 2905.4 L1068 2905.3 L1070 2905.3 L1072 2905.2 L1074 2905.2 L1076 2905.1 L1078 2905.1 L1080 2905 L1082 2905 L1084 2905 L1086 2904.9 L1088 2904.9 L1090 2904.8 L1092 2904.8 L1094 2904.7 L1096 2904.7 L1098 2904.6 L1100 2904.6 L1102 2904.6 L1104 2904.5 L1106 2904.5 L1108 2904.4 L1110 2904.4 L1112 2904.3 L1114 2904.3 L1116 2904.2 L1118 2904.2 L1120 2904.2 L1122 2904.1 L1124 2904.1 L1126 2904 L1128 2904 L1130 2903.9 L1132 2903.9 L1134 2903.8 L1136 2903.8 L1138 2903.8 L1140 2903.7 L1142 2903.7 L1144 2903.6 L1146 2903.6 L1148 2903.5 L1150 2903.5 L1152 2903.4 L1154 2903.4 L1156 2903.4 L1158 2903.3 L1160 2903.3 L1162 2903.2 L1164 2903.2 L1166 2903.1 L1168 2903.1 L1170 2903 L1172 2903 L1174 2903 L1176 2902.9 L1178 2902.9 L1180 2902.8 L1182 2902.8 L1184 2902.7 L1186 2902.7 L1188 2902.6 L1190 2902.6" fill="none" stroke="#000" stroke-width="3.6"/>
<ellipse rx="5.6" ry="4.2" transform="translate(140.8 2927.1) rotate(-1.3)"/><ellipse rx="5.6" ry="4.2" transform="translate(188.9 2927.8) rotate(-1.7)"/><ellipse rx="5.6" ry="4.2" transform="translate(236.7 2923.2) rotate(-4.2)"/><ellipse rx="5.6" ry="4.2" transform="translate(277.8 2920) rotate(-12.3)"/><ellipse rx="5.6" ry="4.2" transform="translate(320 2899) rotate(-38.6)"/><ellipse rx="5.6" ry="4.2" transform="translate(346.3 2859.3) rotate(-69.6)"/><ellipse rx="5.6" ry="4.2" transform="translate(358.3 2811.9) rotate(-77.6)"/><ellipse rx="5.6" ry="4.2" transform="translate(368.1 2764.4) rotate(-81.5)"/><ellipse rx="5.6" ry="4.2" transform="translate(375.1 2716.3) rotate(-83.1)"/><ellipse rx="5.6" ry="4.2" transform="translate(380.4 2667.8) rotate(-84.1)"/><ellipse rx="5.6" ry="4.2" transform="translate(386 2621.5) rotate(-84.6)"/><ellipse rx="5.6" ry="4.2" transform="translate(389.5 2573.4) rotate(-85)"/><ellipse rx="5.6" ry="4.2" transform="translate(393.7 2525.6) rotate(-85.3)"/><ellipse rx="5.6" ry="4.2" transform="translate(397.6 2477.5) rotate(-85.4)"/><ellipse rx="5.6" ry="4.2" transform="translate(401.5 2429) rotate(-85.5)"/><ellipse rx="5.6" ry="4.2" transform="translate(405.3 2380.9) rotate(-85.4)"/><ellipse rx="5.6" ry="4.2" transform="translate(409.6 2332.8) rotate(-85.3)"/><ellipse rx="5.6" ry="4.2" transform="translate(414.1 2284.3) rotate(-84.6)"/><ellipse rx="5.6" ry="4.2" transform="translate(418.3 2235.1) rotate(-83.9)"/><ellipse rx="5.6" ry="4.2" transform="translate(424.3 2188.7) rotate(-81.7)"/><ellipse rx="5.6" ry="4.2" transform="translate(432.4 2142) rotate(-71.4)"/><ellipse rx="5.6" ry="4.2" transform="translate(451.7 2150.1) rotate(79)"/><ellipse rx="5.6" ry="4.2" transform="translate(459.4 2195.8) rotate(82.1)"/><ellipse rx="5.6" ry="4.2" transform="translate(466.1 2243.9) rotate(82.9)"/><ellipse rx="5.6" ry="4.2" transform="translate(471.7 2292) rotate(82.9)"/><ellipse rx="5.6" ry="4.2" transform="translate(477.4 2339.8) rotate(82.4)"/><ellipse rx="5.6" ry="4.2" transform="translate(484 2388.6) rotate(81.5)"/><ellipse rx="5.6" ry="4.2" transform="translate(491.4 2436.4) rotate(79.3)"/><ellipse rx="5.6" ry="4.2" transform="translate(500.9 2483.8) rotate(74.4)"/><ellipse rx="5.6" ry="4.2" transform="translate(517.4 2528.4) rotate(60.8)"/><ellipse rx="5.6" ry="4.2" transform="translate(548.3 2560.1) rotate(57.7)"/><ellipse rx="5.6" ry="4.2" transform="translate(571.1 2597.3) rotate(65.7)"/><ellipse rx="5.6" ry="4.2" transform="translate(588.7 2638) rotate(68.7)"/><ellipse rx="5.6" ry="4.2" transform="translate(604.5 2685.4) rotate(69.3)"/><ellipse rx="5.6" ry="4.2" transform="translate(621.4 2731) rotate(68.5)"/><ellipse rx="5.6" ry="4.2" transform="translate(637.9 2775) rotate(66.5)"/><ellipse rx="5.6" ry="4.2" transform="translate(658.2 2820.3) rotate(61.3)"/><ellipse rx="5.6" ry="4.2" transform="translate(689.2 2862.9) rotate(48.9)"/><ellipse rx="5.6" ry="4.2" transform="translate(724.3 2888.5) rotate(27.6)"/><ellipse rx="5.6" ry="4.2" transform="translate(771.7 2902.6) rotate(7.3)"/><ellipse rx="5.6" ry="4.2" transform="translate(813.9 2908.6) rotate(0.7)"/><ellipse rx="5.6" ry="4.2" transform="translate(859.6 2910.3) rotate(-1)"/><ellipse rx="5.6" ry="4.2" transform="translate(905.9 2907.9) rotate(-1.2)"/><ellipse rx="5.6" ry="4.2" transform="translate(953.7 2910.3) rotate(-1.3)"/><ellipse rx="5.6" ry="4.2" transform="translate(999.4 2909.3) rotate(-1.3)"/><ellipse rx="5.6" ry="4.2" transform="translate(1045.8 2907.5) rotate(-1.3)"/><ellipse rx="5.6" ry="4.2" transform="translate(1090.7 2906.8) rotate(-1.3)"/><ellipse rx="5.6" ry="4.2" transform="translate(1136.4 2907.5) rotate(-1.3)"/><ellipse rx="5.6" ry="4.2" transform="translate(1184.5 2906.1) rotate(-1.3)"/>
<rect x="93.4" y="2089.3" width="1097.1" height="878.9" fill="none" stroke="#000" stroke-width="3.7"/>
<path d="M94.1 2968.2v17.5M250.7 2968.2v17.5M407.3 2968.2v17.5M563.9 2968.2v17.5M720.5 2968.2v17.5M877.1 2968.2v17.5M1033.7 2968.2v17.5M1190.3 2968.2v17.5" stroke="#000" stroke-width="3.2" fill="none"/>
<path d="M172.4 2968.2v9.5M329 2968.2v9.5M485.6 2968.2v9.5M642.2 2968.2v9.5M798.8 2968.2v9.5M955.4 2968.2v9.5M1112 2968.2v9.5" stroke="#000" stroke-width="3.2" fill="none"/>
<text font-size="40.1" text-anchor="middle" transform="translate(94.1 3027.2) scale(0.919 1)">526</text><text font-size="40.1" text-anchor="middle" transform="translate(250.7 3027.2) scale(0.919 1)">528</text><text font-size="40.1" text-anchor="middle" transform="translate(407.3 3027.2) scale(0.919 1)">530</text><text font-size="40.1" text-anchor="middle" transform="translate(563.9 3027.2) scale(0.919 1)">532</text><text font-size="40.1" text-anchor="middle" transform="translate(720.5 3027.2) scale(0.919 1)">534</text><text font-size="40.1" text-anchor="middle" transform="translate(877.1 3027.2) scale(0.919 1)">536</text><text font-size="40.1" text-anchor="middle" transform="translate(1033.7 3027.2) scale(0.919 1)">538</text><text font-size="40.1" text-anchor="middle" transform="translate(1190.3 3027.2) scale(0.919 1)">540</text>
<text font-size="53" text-anchor="middle" transform="translate(642.8 3105.2) scale(0.872 1)">Binding energy, eV</text>
<text font-size="48" text-anchor="middle" transform="translate(55.9 2478.9) rotate(-90) scale(0.962 1)">Intensity, arb.u.</text>
<text x="111.5" y="2161.3" font-size="46">O 1s</text>
<rect x="740.1" y="2591.7" width="89.6" height="42.9" fill="url(#eCl)" stroke="#403048" stroke-width="1.2"/>
<rect x="740.1" y="2640.9" width="89.6" height="43.6" fill="url(#eDl)" stroke="#503030" stroke-width="1.2"/>
<path d="M737.7 2711.2H831.5" stroke="#000" stroke-width="3.4"/>
<ellipse cx="742.6" cy="2761" rx="6.6" ry="5.2"/><ellipse cx="791.1" cy="2761" rx="6.6" ry="5.2"/>
<text x="840.5" y="2625.8" font-size="40">C</text>
<text x="840.5" y="2675" font-size="40">D</text>
<text x="840.5" y="2724.2" font-size="40">C+D</text>
<text x="840.5" y="2774.4" font-size="40">XPS Zn-Co</text>
<text font-size="97" class="ser" text-anchor="middle" font-weight="bold" transform="translate(1114.9 2211.6) scale(1.054 1)">(e)</text>
</g>
<g>
<defs>
<linearGradient id="fP" gradientUnits="userSpaceOnUse" x1="0" y1="2217" x2="0" y2="2946"><stop offset="0" stop-color="#a818d4"/><stop offset="0.3" stop-color="#a018ca"/><stop offset="0.5" stop-color="#8516a7"/><stop offset="0.7" stop-color="#64147c"/><stop offset="0.85" stop-color="#471357"/><stop offset="1" stop-color="#2e1237"/></linearGradient>
<linearGradient id="fR" gradientUnits="userSpaceOnUse" x1="0" y1="2744" x2="0" y2="2947"><stop offset="0" stop-color="#ff1010"/><stop offset="0.3" stop-color="#f20f0f"/><stop offset="0.5" stop-color="#c40c0c"/><stop offset="0.7" stop-color="#8c0909"/><stop offset="0.85" stop-color="#5c0606"/><stop offset="1" stop-color="#260202"/></linearGradient>
<linearGradient id="fY" gradientUnits="userSpaceOnUse" x1="0" y1="2722" x2="0" y2="2950"><stop offset="0" stop-color="#ffff00"/><stop offset="0.3" stop-color="#f2f200"/><stop offset="0.5" stop-color="#c4c400"/><stop offset="0.7" stop-color="#8c8c00"/><stop offset="0.85" stop-color="#5c5c00"/><stop offset="1" stop-color="#262600"/></linearGradient>
<linearGradient id="fC" gradientUnits="userSpaceOnUse" x1="0" y1="2789" x2="0" y2="2951"><stop offset="0" stop-color="#00cece"/><stop offset="0.3" stop-color="#00c4c4"/><stop offset="0.5" stop-color="#009f9f"/><stop offset="0.7" stop-color="#007171"/><stop offset="0.85" stop-color="#004a4a"/><stop offset="1" stop-color="#001010"/></linearGradient>
</defs>
<path d="M1513.2 2946 L1515.2 2945.9 L1517.2 2945.9 L1519.2 2945.8 L1521.2 2945.7 L1523.2 2945.6 L1525.2 2945.5 L1527.2 2945.4 L1529.2 2945.2 L1531.2 2945.1 L1533.2 2944.9 L1535.2 2944.7 L1537.2 2944.5 L1539.2 2944.3 L1541.2 2944 L1543.2 2943.8 L1545.2 2943.5 L1547.2 2943.2 L1549.2 2942.8 L1551.2 2942.4 L1553.2 2942 L1555.2 2941.5 L1557.2 2941 L1559.2 2940.5 L1561.2 2939.9 L1563.2 2939.3 L1565.2 2938.6 L1567.2 2937.9 L1569.2 2937.1 L1571.2 2936.2 L1573.2 2935.3 L1575.2 2934.3 L1577.2 2933.3 L1579.2 2932.1 L1581.2 2930.9 L1583.2 2929.6 L1585.2 2928.2 L1587.2 2926.8 L1589.2 2925.2 L1591.2 2923.6 L1593.2 2921.8 L1595.2 2919.9 L1597.2 2918 L1599.2 2915.9 L1601.2 2913.7 L1603.2 2911.3 L1605.2 2908.9 L1607.2 2906.3 L1609.2 2903.6 L1611.2 2900.8 L1613.2 2897.8 L1615.2 2894.7 L1617.2 2891.4 L1619.2 2888 L1621.2 2884.4 L1623.2 2880.7 L1625.2 2876.9 L1627.2 2872.9 L1629.2 2868.7 L1631.2 2864.4 L1633.2 2860 L1635.2 2855.4 L1637.2 2850.6 L1639.2 2845.7 L1641.2 2840.7 L1643.2 2835.6 L1645.2 2830.3 L1647.2 2824.8 L1649.2 2819.3 L1651.2 2813.6 L1653.2 2807.8 L1655.2 2801.9 L1657.2 2796 L1659.2 2789.9 L1661.2 2783.7 L1663.2 2777.5 L1665.2 2771.2 L1667.2 2764.9 L1669.2 2758.5 L1671.2 2752.1 L1673.2 2745.7 L1675.2 2739.3 L1677.2 2732.8 L1679.2 2726.5 L1681.2 2720.1 L1683.2 2713.8 L1685.2 2707.6 L1687.2 2701.4 L1689.2 2695.3 L1691.2 2689.4 L1693.2 2683.5 L1695.2 2677.9 L1697.2 2672.3 L1699.2 2666.9 L1701.2 2661.7 L1703.2 2656.7 L1705.2 2651.9 L1707.2 2647.4 L1709.2 2643 L1711.2 2638.9 L1713.2 2635.1 L1715.2 2631.5 L1717.2 2628.2 L1719.2 2625.2 L1721.2 2622.5 L1723.2 2620.1 L1725.2 2618 L1727.2 2616.3 L1729.2 2614.8 L1731.2 2613.7 L1733.2 2612.9 L1735.2 2612.5 L1737.2 2612.4 L1739.2 2612.6 L1741.2 2613.1 L1743.2 2614 L1745.2 2615.2 L1747.2 2616.8 L1749.2 2618.6 L1751.2 2620.8 L1753.2 2623.3 L1755.2 2626.1 L1757.2 2629.2 L1759.2 2632.6 L1761.2 2636.2 L1763.2 2640.1 L1765.2 2644.3 L1767.2 2648.7 L1769.2 2653.4 L1771.2 2658.2 L1773.2 2663.3 L1775.2 2668.6 L1777.2 2674 L1779.2 2679.6 L1781.2 2685.4 L1783.2 2691.3 L1785.2 2697.3 L1787.2 2703.4 L1789.2 2709.6 L1791.2 2715.9 L1793.2 2722.2 L1795.2 2728.6 L1797.2 2735 L1799.2 2741.5 L1801.2 2747.9 L1803.2 2754.4 L1805.2 2760.8 L1807.2 2767.2 L1809.2 2773.6 L1811.2 2779.9 L1813.2 2786.1 L1815.2 2792.3 L1817.2 2798.4 L1819.2 2804.4 L1821.2 2810.3 L1823.2 2816.1 L1825.2 2821.7 L1827.2 2827.3 L1829.2 2832.7 L1831.2 2838 L1833.2 2843.2 L1835.2 2848.2 L1837.2 2853.1 L1839.2 2857.9 L1841.2 2862.5 L1843.2 2866.9 L1845.2 2871.2 L1847.2 2875.4 L1849.2 2879.4 L1851.2 2883.2 L1853.2 2886.9 L1855.2 2890.5 L1857.2 2893.9 L1859.2 2897.1 L1861.2 2900.3 L1863.2 2903.3 L1865.2 2906.1 L1867.2 2908.8 L1869.2 2911.4 L1871.2 2913.9 L1873.2 2916.2 L1875.2 2918.4 L1877.2 2920.5 L1879.2 2922.5 L1881.2 2924.4 L1883.2 2926.1 L1885.2 2927.8 L1887.2 2929.4 L1889.2 2930.8 L1891.2 2932.2 L1893.2 2933.5 L1895.2 2934.8 L1897.2 2935.9 L1899.2 2937 L1901.2 2938 L1903.2 2938.9 L1905.2 2939.8 L1907.2 2940.6 L1909.2 2941.4 L1911.2 2942.1 L1913.2 2942.7 L1915.2 2943.3 L1917.2 2943.9 L1919.2 2944.4 L1921.2 2944.9 L1923.2 2945.3 L1925.2 2945.7 L1927.2 2946.1 L1929.2 2946.5 L1931.2 2946.8 L1933.2 2947.1 L1935.2 2947.4 L1937.2 2947.6 L1939.2 2947.8 L1941.2 2948.1 L1943.2 2948.2 L1945.2 2948.4 L1947.2 2948.6 L1949.2 2948.7 L1951.2 2948.9 L1953.2 2949 L1955.2 2949.1 L1957.2 2949.2 L1959.2 2949.3 L1961.2 2949.4 L1961.2 2950.1 L1513.2 2946.6Z" fill="#f8be92" stroke="#f08030" stroke-width="1.6"/>
<path d="M1941.2 2949.3 L1943.2 2949.2 L1945.2 2949.1 L1947.2 2949 L1949.2 2949 L1951.2 2948.9 L1953.2 2948.8 L1955.2 2948.6 L1957.2 2948.5 L1959.2 2948.3 L1961.2 2948.2 L1963.2 2948 L1965.2 2947.8 L1967.2 2947.6 L1969.2 2947.3 L1971.2 2947.1 L1973.2 2946.8 L1975.2 2946.5 L1977.2 2946.1 L1979.2 2945.7 L1981.2 2945.3 L1983.2 2944.9 L1985.2 2944.4 L1987.2 2943.9 L1989.2 2943.3 L1991.2 2942.7 L1993.2 2942.1 L1995.2 2941.4 L1997.2 2940.6 L1999.2 2939.8 L2001.2 2938.9 L2003.2 2938 L2005.2 2937 L2007.2 2936 L2009.2 2934.8 L2011.2 2933.6 L2013.2 2932.4 L2015.2 2931 L2017.2 2929.6 L2019.2 2928.1 L2021.2 2926.5 L2023.2 2924.8 L2025.2 2923 L2027.2 2921.2 L2029.2 2919.2 L2031.2 2917.2 L2033.2 2915 L2035.2 2912.7 L2037.2 2910.4 L2039.2 2907.9 L2041.2 2905.3 L2043.2 2902.7 L2045.2 2899.9 L2047.2 2897 L2049.2 2894 L2051.2 2890.9 L2053.2 2887.7 L2055.2 2884.5 L2057.2 2881.1 L2059.2 2877.6 L2061.2 2874 L2063.2 2870.3 L2065.2 2866.6 L2067.2 2862.7 L2069.2 2858.8 L2071.2 2854.8 L2073.2 2850.8 L2075.2 2846.6 L2077.2 2842.5 L2079.2 2838.3 L2081.2 2834 L2083.2 2829.7 L2085.2 2825.4 L2087.2 2821.1 L2089.2 2816.8 L2091.2 2812.4 L2093.2 2808.1 L2095.2 2803.8 L2097.2 2799.6 L2099.2 2795.4 L2101.2 2791.2 L2103.2 2787.1 L2105.2 2783.1 L2107.2 2779.2 L2109.2 2775.3 L2111.2 2771.6 L2113.2 2768 L2115.2 2764.5 L2117.2 2761.2 L2119.2 2758 L2121.2 2754.9 L2123.2 2752 L2125.2 2749.3 L2127.2 2746.8 L2129.2 2744.5 L2131.2 2742.4 L2133.2 2740.4 L2135.2 2738.7 L2137.2 2737.2 L2139.2 2735.9 L2141.2 2734.9 L2143.2 2734.1 L2145.2 2733.5 L2147.2 2733.1 L2149.2 2733 L2151.2 2733.1 L2153.2 2733.4 L2155.2 2734 L2157.2 2734.8 L2159.2 2735.9 L2161.2 2737.1 L2163.2 2738.6 L2165.2 2740.3 L2167.2 2742.2 L2169.2 2744.3 L2171.2 2746.7 L2173.2 2749.2 L2175.2 2751.9 L2177.2 2754.7 L2179.2 2757.8 L2181.2 2761 L2183.2 2764.3 L2185.2 2767.8 L2187.2 2771.4 L2189.2 2775.2 L2191.2 2779 L2193.2 2783 L2195.2 2787 L2197.2 2791.1 L2199.2 2795.3 L2201.2 2799.5 L2203.2 2803.8 L2205.2 2808.1 L2207.2 2812.4 L2209.2 2816.8 L2211.2 2821.2 L2213.2 2825.5 L2215.2 2829.9 L2217.2 2834.2 L2219.2 2838.5 L2221.2 2842.7 L2223.2 2846.9 L2225.2 2851.1 L2227.2 2855.2 L2229.2 2859.2 L2231.2 2863.2 L2233.2 2867.1 L2235.2 2870.9 L2237.2 2874.6 L2239.2 2878.2 L2241.2 2881.8 L2243.2 2885.2 L2245.2 2888.5 L2247.2 2891.8 L2249.2 2894.9 L2251.2 2898 L2253.2 2900.9 L2255.2 2903.7 L2257.2 2906.5 L2259.2 2909.1 L2261.2 2911.6 L2263.2 2914 L2265.2 2916.3 L2267.2 2918.5 L2269.2 2920.6 L2271.2 2922.6 L2273.2 2924.6 L2275.2 2926.4 L2277.2 2928.1 L2279.2 2929.8 L2281.2 2931.3 L2283.2 2932.8 L2285.2 2934.2 L2287.2 2935.5 L2289.2 2936.7 L2291.2 2937.9 L2293.2 2939 L2295.2 2940 L2297.2 2941 L2299.2 2941.9 L2301.2 2942.8 L2303.2 2943.6 L2305.2 2944.3 L2307.2 2945 L2309.2 2945.6 L2311.2 2946.2 L2313.2 2946.8 L2315.2 2947.3 L2317.2 2947.8 L2319.2 2948.2 L2321.2 2948.6 L2323.2 2949 L2325.2 2949.4 L2327.2 2949.7 L2329.2 2950 L2331.2 2950.3 L2333.2 2950.5 L2335.2 2950.8 L2337.2 2951 L2339.2 2951.2 L2341.2 2951.4 L2343.2 2951.5 L2345.2 2951.7 L2347.2 2951.8 L2349.2 2952 L2349.2 2953 L1941.2 2949.9Z" fill="#f8be92" stroke="#f08030" stroke-width="1.6"/>
<path d="M1493.2 2945.7 L1495.2 2945.5 L1497.2 2945.2 L1499.2 2944.9 L1501.2 2944.4 L1503.2 2943.9 L1505.2 2943.2 L1507.2 2942.3 L1509.2 2941.2 L1511.2 2939.9 L1513.2 2938.4 L1515.2 2936.5 L1517.2 2934.2 L1519.2 2931.4 L1521.2 2928.2 L1523.2 2924.3 L1525.2 2919.8 L1527.2 2914.5 L1529.2 2908.4 L1531.2 2901.4 L1533.2 2893.3 L1535.2 2884.1 L1537.2 2873.7 L1539.2 2861.9 L1541.2 2848.8 L1543.2 2834.2 L1545.2 2818 L1547.2 2800.3 L1549.2 2780.9 L1551.2 2759.9 L1553.2 2737.3 L1555.2 2713.2 L1557.2 2687.5 L1559.2 2660.5 L1561.2 2632.2 L1563.2 2602.9 L1565.2 2572.7 L1567.2 2541.9 L1569.2 2510.7 L1571.2 2479.4 L1573.2 2448.5 L1575.2 2418.1 L1577.2 2388.6 L1579.2 2360.5 L1581.2 2334 L1583.2 2309.5 L1585.2 2287.3 L1587.2 2267.8 L1589.2 2251.1 L1591.2 2237.6 L1593.2 2227.4 L1595.2 2220.8 L1597.2 2217.7 L1599.2 2218.4 L1601.2 2223.3 L1603.2 2232.3 L1605.2 2245.3 L1607.2 2262.1 L1609.2 2282.4 L1611.2 2305.8 L1613.2 2332 L1615.2 2360.6 L1617.2 2391.1 L1619.2 2423 L1621.2 2456 L1623.2 2489.6 L1625.2 2523.4 L1627.2 2557 L1629.2 2590 L1631.2 2622.1 L1633.2 2653.1 L1635.2 2682.7 L1637.2 2710.7 L1639.2 2736.9 L1641.2 2761.4 L1643.2 2783.9 L1645.2 2804.6 L1647.2 2823.4 L1649.2 2840.4 L1651.2 2855.5 L1653.2 2869 L1655.2 2881 L1657.2 2891.4 L1659.2 2900.5 L1661.2 2908.4 L1663.2 2915.1 L1665.2 2920.9 L1667.2 2925.7 L1669.2 2929.8 L1671.2 2933.3 L1673.2 2936.1 L1675.2 2938.5 L1677.2 2940.4 L1679.2 2942 L1681.2 2943.3 L1683.2 2944.3 L1685.2 2945.1 L1687.2 2945.8 L1689.2 2946.3 L1691.2 2946.7 L1693.2 2947 L1695.2 2947.3 L1695.2 2948 L1493.2 2946.5Z" fill="url(#fP)" stroke="#a818d4" stroke-width="1"/>
<path d="M1583.2 2946.5 L1585.2 2946.3 L1587.2 2946 L1589.2 2945.6 L1591.2 2945 L1593.2 2944.3 L1595.2 2943.4 L1597.2 2942.2 L1599.2 2940.7 L1601.2 2938.8 L1603.2 2936.5 L1605.2 2933.7 L1607.2 2930.4 L1609.2 2926.4 L1611.2 2921.7 L1613.2 2916.3 L1615.2 2910 L1617.2 2902.9 L1619.2 2895 L1621.2 2886.2 L1623.2 2876.6 L1625.2 2866.2 L1627.2 2855.3 L1629.2 2843.8 L1631.2 2832 L1633.2 2820.1 L1635.2 2808.2 L1637.2 2796.7 L1639.2 2785.7 L1641.2 2775.6 L1643.2 2766.5 L1645.2 2758.8 L1647.2 2752.5 L1649.2 2748 L1651.2 2745.3 L1653.2 2744.4 L1655.2 2745.5 L1657.2 2748.4 L1659.2 2753.2 L1661.2 2759.6 L1663.2 2767.5 L1665.2 2776.7 L1667.2 2787 L1669.2 2798 L1671.2 2809.7 L1673.2 2821.6 L1675.2 2833.5 L1677.2 2845.3 L1679.2 2856.8 L1681.2 2867.7 L1683.2 2878 L1685.2 2887.6 L1687.2 2896.3 L1689.2 2904.2 L1691.2 2911.2 L1693.2 2917.4 L1695.2 2922.8 L1697.2 2927.5 L1699.2 2931.4 L1701.2 2934.8 L1703.2 2937.5 L1705.2 2939.8 L1707.2 2941.7 L1709.2 2943.2 L1711.2 2944.3 L1713.2 2945.3 L1715.2 2946 L1717.2 2946.6 L1719.2 2947 L1721.2 2947.4 L1723.2 2947.6 L1723.2 2948.2 L1583.2 2947.2Z" fill="url(#fR)" stroke="#ff0000" stroke-width="1.6"/>
<path d="M1865.2 2948.6 L1867.2 2948.5 L1869.2 2948.3 L1871.2 2948.1 L1873.2 2947.8 L1875.2 2947.5 L1877.2 2947.1 L1879.2 2946.6 L1881.2 2946.1 L1883.2 2945.4 L1885.2 2944.7 L1887.2 2943.8 L1889.2 2942.9 L1891.2 2941.7 L1893.2 2940.4 L1895.2 2938.9 L1897.2 2937.2 L1899.2 2935.2 L1901.2 2933 L1903.2 2930.6 L1905.2 2927.9 L1907.2 2924.8 L1909.2 2921.5 L1911.2 2917.8 L1913.2 2913.7 L1915.2 2909.3 L1917.2 2904.5 L1919.2 2899.4 L1921.2 2893.8 L1923.2 2887.9 L1925.2 2881.6 L1927.2 2874.9 L1929.2 2867.9 L1931.2 2860.6 L1933.2 2852.9 L1935.2 2845 L1937.2 2836.9 L1939.2 2828.6 L1941.2 2820.2 L1943.2 2811.7 L1945.2 2803.3 L1947.2 2794.9 L1949.2 2786.6 L1951.2 2778.5 L1953.2 2770.7 L1955.2 2763.2 L1957.2 2756.2 L1959.2 2749.6 L1961.2 2743.6 L1963.2 2738.3 L1965.2 2733.6 L1967.2 2729.6 L1969.2 2726.4 L1971.2 2724 L1973.2 2722.4 L1975.2 2721.7 L1977.2 2721.9 L1979.2 2722.9 L1981.2 2724.7 L1983.2 2727.4 L1985.2 2730.8 L1987.2 2735.1 L1989.2 2740 L1991.2 2745.6 L1993.2 2751.8 L1995.2 2758.5 L1997.2 2765.7 L1999.2 2773.3 L2001.2 2781.3 L2003.2 2789.5 L2005.2 2797.8 L2007.2 2806.3 L2009.2 2814.8 L2011.2 2823.3 L2013.2 2831.7 L2015.2 2840 L2017.2 2848.1 L2019.2 2855.9 L2021.2 2863.5 L2023.2 2870.8 L2025.2 2877.7 L2027.2 2884.3 L2029.2 2890.5 L2031.2 2896.4 L2033.2 2901.8 L2035.2 2906.9 L2037.2 2911.6 L2039.2 2916 L2041.2 2919.9 L2043.2 2923.5 L2045.2 2926.8 L2047.2 2929.8 L2049.2 2932.5 L2051.2 2934.9 L2053.2 2937 L2055.2 2938.9 L2057.2 2940.6 L2059.2 2942.1 L2061.2 2943.4 L2063.2 2944.5 L2065.2 2945.5 L2067.2 2946.3 L2069.2 2947.1 L2071.2 2947.7 L2073.2 2948.2 L2075.2 2948.7 L2077.2 2949.1 L2079.2 2949.4 L2081.2 2949.7 L2083.2 2950 L2085.2 2950.2 L2087.2 2950.3 L2087.2 2951 L1865.2 2949.3Z" fill="url(#fY)" stroke="#ffff00" stroke-width="1.6"/>
<path d="M1875.2 2948.7 L1877.2 2948.6 L1879.2 2948.5 L1881.2 2948.4 L1883.2 2948.2 L1885.2 2948 L1887.2 2947.8 L1889.2 2947.6 L1891.2 2947.3 L1893.2 2947 L1895.2 2946.6 L1897.2 2946.2 L1899.2 2945.8 L1901.2 2945.3 L1903.2 2944.7 L1905.2 2944.1 L1907.2 2943.4 L1909.2 2942.6 L1911.2 2941.8 L1913.2 2940.8 L1915.2 2939.8 L1917.2 2938.7 L1919.2 2937.4 L1921.2 2936.1 L1923.2 2934.6 L1925.2 2933 L1927.2 2931.2 L1929.2 2929.4 L1931.2 2927.4 L1933.2 2925.2 L1935.2 2922.9 L1937.2 2920.4 L1939.2 2917.8 L1941.2 2915 L1943.2 2912.1 L1945.2 2909 L1947.2 2905.7 L1949.2 2902.3 L1951.2 2898.8 L1953.2 2895.1 L1955.2 2891.2 L1957.2 2887.2 L1959.2 2883.1 L1961.2 2878.9 L1963.2 2874.6 L1965.2 2870.2 L1967.2 2865.7 L1969.2 2861.2 L1971.2 2856.6 L1973.2 2852 L1975.2 2847.4 L1977.2 2842.9 L1979.2 2838.3 L1981.2 2833.9 L1983.2 2829.5 L1985.2 2825.3 L1987.2 2821.1 L1989.2 2817.2 L1991.2 2813.4 L1993.2 2809.8 L1995.2 2806.5 L1997.2 2803.4 L1999.2 2800.5 L2001.2 2798 L2003.2 2795.7 L2005.2 2793.7 L2007.2 2792.1 L2009.2 2790.8 L2011.2 2789.9 L2013.2 2789.3 L2015.2 2789.1 L2017.2 2789.2 L2019.2 2789.7 L2021.2 2790.5 L2023.2 2791.7 L2025.2 2793.2 L2027.2 2795.1 L2029.2 2797.2 L2031.2 2799.7 L2033.2 2802.5 L2035.2 2805.5 L2037.2 2808.8 L2039.2 2812.3 L2041.2 2816 L2043.2 2820 L2045.2 2824 L2047.2 2828.3 L2049.2 2832.6 L2051.2 2837.1 L2053.2 2841.6 L2055.2 2846.2 L2057.2 2850.8 L2059.2 2855.4 L2061.2 2860 L2063.2 2864.6 L2065.2 2869.2 L2067.2 2873.6 L2069.2 2878 L2071.2 2882.3 L2073.2 2886.5 L2075.2 2890.5 L2077.2 2894.5 L2079.2 2898.3 L2081.2 2901.9 L2083.2 2905.4 L2085.2 2908.8 L2087.2 2912 L2089.2 2915 L2091.2 2917.9 L2093.2 2920.6 L2095.2 2923.1 L2097.2 2925.5 L2099.2 2927.8 L2101.2 2929.9 L2103.2 2931.8 L2105.2 2933.7 L2107.2 2935.3 L2109.2 2936.9 L2111.2 2938.3 L2113.2 2939.7 L2115.2 2940.9 L2117.2 2942 L2119.2 2943 L2121.2 2943.9 L2123.2 2944.7 L2125.2 2945.5 L2127.2 2946.2 L2129.2 2946.8 L2131.2 2947.3 L2133.2 2947.8 L2135.2 2948.3 L2137.2 2948.7 L2139.2 2949.1 L2141.2 2949.4 L2143.2 2949.7 L2145.2 2949.9 L2147.2 2950.1 L2149.2 2950.3 L2151.2 2950.5 L2153.2 2950.7 L2155.2 2950.8 L2157.2 2950.9 L2157.2 2951.5 L1875.2 2949.4Z" fill="url(#fC)" stroke="#00d0d0" stroke-width="1.6"/>
<path d="M1500 2948L2350 2954.5" stroke="#9ad84a" stroke-width="1.6"/>
<path d="M1350.2 2909.5 L1352.2 2918.2 L1354.1 2901.6 L1356.1 2883.8 L1358 2896.5 L1360 2881 L1361.9 2911.6 L1363.9 2948.8 L1365.8 2895.7 L1367.8 2892 L1369.7 2924.3 L1371.7 2920.5 L1373.6 2913.3 L1375.6 2883.3 L1377.5 2909.5 L1379.5 2930.6 L1381.4 2871.5 L1383.4 2897.3 L1385.3 2855.5 L1387.3 2873.3 L1389.2 2857.3 L1391.2 2904 L1393.1 2874.1 L1395.1 2918.8 L1397 2915.6 L1399 2905.6 L1400.9 2838.1 L1402.9 2895.6 L1404.8 2909.9 L1406.8 2914.6 L1408.7 2867 L1410.7 2897.6 L1412.6 2883.2 L1414.6 2888.1 L1416.5 2942.4 L1418.5 2888.3 L1420.4 2910.8 L1422.4 2937.5 L1424.3 2895 L1426.3 2908.7 L1428.2 2915.3 L1430.2 2914 L1432.1 2876.7 L1434.1 2914.5 L1436 2951.7 L1438 2867.5 L1439.9 2937.4 L1441.9 2916 L1443.8 2894 L1445.8 2970.6 L1447.7 2934.8 L1449.7 2878 L1451.6 2915 L1453.6 2929.6 L1455.5 2907.5 L1457.5 2932.8 L1459.4 2911.1 L1461.4 2932.5 L1463.3 2954.9 L1465.3 2893.6 L1467.2 2919.1 L1469.2 2899.8 L1471.1 2917 L1473.1 2878.9 L1475 2896.5 L1477 2907.6 L1478.9 2939.3 L1480.9 2946.4 L1482.8 2874.7 L1484.8 2889.9 L1486.7 2931.6 L1488.7 2854.9 L1490.6 2898.9 L1492.6 2909.1 L1494.5 2947.9 L1496.5 2930.9 L1498.4 2900.8 L1500.4 2898.8 L1502.3 2901.2 L1504.3 2951.2 L1506.2 2893.5 L1508.2 2895.4 L1510.1 2912.3 L1512.1 2896.4 L1514 2891.5 L1516 2862.2 L1517.9 2890 L1519.9 2873.5 L1521.8 2914.3 L1523.8 2894.1 L1525.7 2868.7 L1527.7 2880.9 L1529.6 2844.8 L1531.6 2874.2 L1533.5 2834.9 L1535.5 2839.6 L1537.4 2776.6 L1539.4 2806.8 L1541.3 2738.1 L1543.3 2713.2 L1545.2 2740.6 L1547.2 2706.5 L1549.1 2712.9 L1551.1 2742.1 L1553 2643.9 L1555 2624.9 L1556.9 2619.2 L1558.9 2599.4 L1560.8 2557.3 L1562.8 2529.1 L1564.7 2520.5 L1566.7 2488.2 L1568.6 2428.1 L1570.6 2419.6 L1572.5 2394.4 L1574.5 2347.1 L1576.4 2346.2 L1578.4 2301.4 L1580.3 2311.1 L1582.3 2276 L1584.2 2254.8 L1586.2 2226.1 L1588.1 2218.9 L1590.1 2175.7 L1592 2179.7 L1594 2196 L1595.9 2151 L1597.9 2196.2 L1599.8 2155.7 L1601.8 2200.7 L1603.7 2182.3 L1605.7 2220.2 L1607.6 2222.8 L1609.6 2209.4 L1611.5 2276.4 L1613.5 2299.7 L1615.4 2291.9 L1617.4 2308.4 L1619.3 2331.3 L1621.3 2334.8 L1623.2 2398.2 L1625.2 2381.8 L1627.1 2410.3 L1629.1 2409.5 L1631 2427.9 L1633 2425.2 L1634.9 2498.6 L1636.9 2474.2 L1638.8 2511.7 L1640.8 2495.3 L1642.7 2483.7 L1644.7 2499.5 L1646.6 2498.8 L1648.6 2519.5 L1650.5 2514.3 L1652.5 2521.8 L1654.4 2497.3 L1656.4 2519.1 L1658.3 2594.8 L1660.3 2536 L1662.2 2532.2 L1664.2 2579.4 L1666.1 2617.8 L1668.1 2543.8 L1670 2587.4 L1672 2583 L1673.9 2557.9 L1675.9 2636.9 L1677.8 2621.6 L1679.8 2630.2 L1681.7 2611.6 L1683.7 2650.9 L1685.6 2625.8 L1687.6 2640.1 L1689.5 2614.1 L1691.5 2612.2 L1693.4 2686.6 L1695.4 2633.1 L1697.3 2655.5 L1699.3 2644.8 L1701.2 2631.3 L1703.2 2627.3 L1705.1 2657.9 L1707.1 2628.3 L1709 2630 L1711 2632.3 L1712.9 2663 L1714.9 2645.9 L1716.8 2634.7 L1718.8 2604.8 L1720.7 2578.7 L1722.7 2644.2 L1724.6 2642.8 L1726.6 2609.1 L1728.5 2627.5 L1730.5 2633.3 L1732.4 2634 L1734.4 2636.1 L1736.3 2595.9 L1738.3 2653.1 L1740.2 2573.5 L1742.2 2635.3 L1744.1 2625.6 L1746.1 2637.9 L1748 2668.7 L1750 2659.2 L1751.9 2585.1 L1753.9 2571.8 L1755.8 2647.3 L1757.8 2597.2 L1759.7 2629.5 L1761.7 2657.8 L1763.6 2589.6 L1765.6 2580.1 L1767.5 2653 L1769.5 2651.3 L1771.4 2647.5 L1773.4 2660.6 L1775.3 2639.5 L1777.3 2625.8 L1779.2 2670.2 L1781.2 2652.3 L1783.1 2638.4 L1785.1 2706.4 L1787 2695.7 L1789 2715.1 L1790.9 2680.6 L1792.9 2696.1 L1794.8 2692.2 L1796.8 2701.5 L1798.7 2738.9 L1800.7 2716.6 L1802.6 2755.7 L1804.6 2761.2 L1806.5 2816.1 L1808.5 2722.9 L1810.4 2794.9 L1812.4 2772.4 L1814.3 2780.3 L1816.3 2744.3 L1818.2 2778.6 L1820.2 2818.9 L1822.1 2800.4 L1824.1 2810.4 L1826 2804.7 L1828 2851.7 L1829.9 2822.5 L1831.9 2764 L1833.8 2812.4 L1835.8 2779.9 L1837.7 2747.1 L1839.7 2830.2 L1841.6 2888.4 L1843.6 2855 L1845.5 2823.5 L1847.5 2833.9 L1849.4 2897.5 L1851.4 2872.6 L1853.3 2872.7 L1855.3 2872.8 L1857.2 2878.5 L1859.2 2903.5 L1861.1 2898.8 L1863.1 2891.6 L1865 2857.5 L1867 2904.8 L1868.9 2872.2 L1870.9 2925.7 L1872.8 2858.8 L1874.8 2893.3 L1876.7 2898.6 L1878.7 2861.6 L1880.6 2951.1 L1882.6 2944.4 L1884.5 2889.4 L1886.5 2925.7 L1888.4 2914.6 L1890.4 2827.9 L1892.3 2910.8 L1894.3 2901.4 L1896.2 2904.9 L1898.2 2870.3 L1900.1 2892.4 L1902.1 2893.5 L1904 2931.2 L1906 2904.1 L1907.9 2891.6 L1909.9 2933 L1911.8 2869 L1913.8 2869.9 L1915.7 2824.1 L1917.7 2917.4 L1919.6 2894.5 L1921.6 2887.3 L1923.5 2873.8 L1925.5 2850.7 L1927.4 2846.5 L1929.4 2825.1 L1931.3 2818.2 L1933.3 2816.9 L1935.2 2850 L1937.2 2812.7 L1939.1 2785 L1941.1 2759.6 L1943 2747.5 L1945 2801.6 L1946.9 2759 L1948.9 2735.3 L1950.8 2712.3 L1952.8 2679.2 L1954.7 2698.7 L1956.7 2715.3 L1958.6 2668.3 L1960.6 2663.1 L1962.5 2653.8 L1964.5 2654.3 L1966.4 2596.4 L1968.4 2627.9 L1970.3 2602.7 L1972.3 2646.6 L1974.2 2592.9 L1976.2 2627 L1978.1 2650.3 L1980.1 2593.6 L1982 2582.7 L1984 2603.9 L1985.9 2597.4 L1987.9 2568.5 L1989.8 2611.3 L1991.8 2657.8 L1993.7 2593.9 L1995.7 2598.2 L1997.6 2577.1 L1999.6 2620.6 L2001.5 2579.6 L2003.5 2588.5 L2005.4 2662.9 L2007.4 2605.1 L2009.3 2668.6 L2011.3 2687.5 L2013.2 2657.1 L2015.2 2672 L2017.1 2719 L2019.1 2663.2 L2021 2658.2 L2023 2642.6 L2024.9 2689.4 L2026.9 2737.4 L2028.8 2728.4 L2030.8 2679.3 L2032.7 2687.6 L2034.7 2703.4 L2036.6 2731.8 L2038.6 2722.6 L2040.5 2739.7 L2042.5 2746.7 L2044.4 2733.9 L2046.4 2745.6 L2048.3 2756.6 L2050.3 2751.9 L2052.2 2772.3 L2054.2 2815.1 L2056.1 2780.8 L2058.1 2767.9 L2060 2719.7 L2062 2781.9 L2063.9 2716 L2065.9 2733.2 L2067.8 2800.1 L2069.8 2796.9 L2071.7 2772.8 L2073.7 2728.2 L2075.6 2767.3 L2077.6 2758.5 L2079.5 2796.5 L2081.5 2843.2 L2083.4 2783.4 L2085.4 2753.8 L2087.3 2741.5 L2089.3 2772.8 L2091.2 2768 L2093.2 2738.3 L2095.1 2773.5 L2097.1 2735.1 L2099 2798.9 L2101 2795.6 L2102.9 2794.3 L2104.9 2747 L2106.8 2773.6 L2108.8 2752.7 L2110.7 2743.1 L2112.7 2742.4 L2114.6 2712.4 L2116.6 2706.1 L2118.5 2768.9 L2120.5 2738.3 L2122.4 2748.1 L2124.4 2769 L2126.3 2687.9 L2128.3 2713.8 L2130.2 2740 L2132.2 2744.9 L2134.1 2721.3 L2136.1 2761 L2138 2736.2 L2140 2694.1 L2141.9 2701.7 L2143.9 2751.6 L2145.8 2741.4 L2147.8 2672.8 L2149.7 2767.1 L2151.7 2745.7 L2153.6 2767.8 L2155.6 2718.4 L2157.5 2721.9 L2159.5 2698.9 L2161.4 2806.5 L2163.4 2729.3 L2165.3 2782.2 L2167.3 2719.2 L2169.2 2744.8 L2171.2 2693.9 L2173.1 2733.7 L2175.1 2775.9 L2177 2713.8 L2179 2784.1 L2180.9 2765.8 L2182.9 2729 L2184.8 2748 L2186.8 2752.7 L2188.7 2768.1 L2190.7 2757.6 L2192.6 2752.9 L2194.6 2771.9 L2196.5 2754.8 L2198.5 2751.1 L2200.4 2791.1 L2202.4 2822.1 L2204.3 2756.3 L2206.3 2804.8 L2208.2 2790 L2210.2 2784.6 L2212.1 2841.8 L2214.1 2806.1 L2216 2868.7 L2218 2806.7 L2219.9 2844.5 L2221.9 2830.7 L2223.8 2819.4 L2225.8 2862.2 L2227.7 2844.5 L2229.7 2870.2 L2231.6 2855.1 L2233.6 2828.6 L2235.5 2860.6 L2237.5 2868.6 L2239.4 2898.3 L2241.4 2847.5 L2243.3 2875.8 L2245.3 2830.1 L2247.2 2902 L2249.2 2854.7 L2251.1 2836.5 L2253.1 2889.9 L2255 2926.3 L2257 2852.6 L2258.9 2867.7 L2260.9 2880.1 L2262.8 2871.1 L2264.8 2917.1 L2266.7 2884.8 L2268.7 2889.2 L2270.6 2929 L2272.6 2892 L2274.5 2928.2 L2276.5 2889.1 L2278.4 2883.7 L2280.4 2867.1 L2282.3 2975.8 L2284.3 2913.8 L2286.2 2931.5 L2288.2 2924.7 L2290.1 2931.4 L2292.1 2929.3 L2294 2984.2 L2296 2899.7 L2297.9 2885.6 L2299.9 2902.3 L2301.8 2893.7 L2303.8 2954.8 L2305.7 2957.7 L2307.7 2906.7 L2309.6 2894.8 L2311.6 2925.5 L2313.5 2976.7 L2315.5 2855.1 L2317.4 2952.6 L2319.4 2906.6 L2321.3 2968.4 L2323.3 2907.3 L2325.2 2930.7 L2327.2 2895.6 L2329.1 2911.3 L2331.1 2980.1 L2333 2964 L2335 2928.9 L2336.9 2915.5 L2338.9 2886.1 L2340.8 2929.8 L2342.8 2940.5 L2344.7 2939.2 L2346.7 2939.1 L2348.6 2909.4" fill="none" stroke="#0c0c0c" stroke-width="1.7" stroke-linejoin="round"/>
<path d="M1349.2 2945.4 L1351.2 2945.4 L1353.2 2945.4 L1355.2 2945.4 L1357.2 2945.5 L1359.2 2945.5 L1361.2 2945.5 L1363.2 2945.5 L1365.2 2945.5 L1367.2 2945.5 L1369.2 2945.6 L1371.2 2945.6 L1373.2 2945.6 L1375.2 2945.6 L1377.2 2945.6 L1379.2 2945.6 L1381.2 2945.6 L1383.2 2945.7 L1385.2 2945.7 L1387.2 2945.7 L1389.2 2945.7 L1391.2 2945.7 L1393.2 2945.7 L1395.2 2945.7 L1397.2 2945.8 L1399.2 2945.8 L1401.2 2945.8 L1403.2 2945.8 L1405.2 2945.8 L1407.2 2945.8 L1409.2 2945.9 L1411.2 2945.9 L1413.2 2945.9 L1415.2 2945.9 L1417.2 2945.9 L1419.2 2945.9 L1421.2 2945.9 L1423.2 2946 L1425.2 2946 L1427.2 2946 L1429.2 2946 L1431.2 2946 L1433.2 2946 L1435.2 2946 L1437.2 2946.1 L1439.2 2946.1 L1441.2 2946.1 L1443.2 2946.1 L1445.2 2946.1 L1447.2 2946.1 L1449.2 2946.1 L1451.2 2946.2 L1453.2 2946.2 L1455.2 2946.2 L1457.2 2946.2 L1459.2 2946.2 L1461.2 2946.2 L1463.2 2946.2 L1465.2 2946.2 L1467.2 2946.2 L1469.2 2946.2 L1471.2 2946.2 L1473.2 2946.2 L1475.2 2946.2 L1477.2 2946.2 L1479.2 2946.2 L1481.2 2946.2 L1483.2 2946.1 L1485.2 2946 L1487.2 2946 L1489.2 2945.8 L1491.2 2945.7 L1493.2 2945.5 L1495.2 2945.3 L1497.2 2945 L1499.2 2944.6 L1501.2 2944.1 L1503.2 2943.5 L1505.2 2942.8 L1507.2 2941.8 L1509.2 2940.7 L1511.2 2939.4 L1513.2 2937.7 L1515.2 2935.7 L1517.2 2933.4 L1519.2 2930.5 L1521.2 2927.2 L1523.2 2923.2 L1525.2 2918.6 L1527.2 2913.2 L1529.2 2906.9 L1531.2 2899.7 L1533.2 2891.5 L1535.2 2882.1 L1537.2 2871.4 L1539.2 2859.5 L1541.2 2846.1 L1543.2 2831.2 L1545.2 2814.8 L1547.2 2796.8 L1549.2 2777.1 L1551.2 2755.8 L1553.2 2732.9 L1555.2 2708.4 L1557.2 2682.4 L1559.2 2655 L1561.2 2626.3 L1563.2 2596.6 L1565.2 2565.9 L1567.2 2534.6 L1569.2 2502.9 L1571.2 2471.1 L1573.2 2439.6 L1575.2 2408.5 L1577.2 2378.3 L1579.2 2349.3 L1581.2 2321.8 L1583.2 2296.2 L1585.2 2272.8 L1587.2 2251.7 L1589.2 2233.3 L1591.2 2217.8 L1593.2 2205.3 L1595.2 2196 L1597.2 2189.8 L1599.2 2186.8 L1601.2 2187.5 L1603.2 2191.8 L1605.2 2199.4 L1607.2 2209.9 L1609.2 2223.2 L1611.2 2238.7 L1613.2 2256.1 L1615.2 2274.9 L1617.2 2294.6 L1619.2 2314.8 L1621.2 2335 L1623.2 2354.9 L1625.2 2374.1 L1627.2 2392.4 L1629.2 2409.4 L1631.2 2425.1 L1633.2 2439.4 L1635.2 2452.3 L1637.2 2463.7 L1639.2 2473.9 L1641.2 2483 L1643.2 2491.2 L1645.2 2498.7 L1647.2 2505.8 L1649.2 2512.5 L1651.2 2519.2 L1653.2 2526 L1655.2 2533 L1657.2 2540.4 L1659.2 2548.1 L1661.2 2556.2 L1663.2 2564.6 L1665.2 2573.2 L1667.2 2582 L1669.2 2590.7 L1671.2 2599.3 L1673.2 2607.6 L1675.2 2615.5 L1677.2 2622.8 L1679.2 2629.4 L1681.2 2635.3 L1683.2 2640.2 L1685.2 2644.3 L1687.2 2647.6 L1689.2 2649.9 L1691.2 2651.3 L1693.2 2652 L1695.2 2651.9 L1697.2 2651.2 L1699.2 2649.9 L1701.2 2648.1 L1703.2 2645.9 L1705.2 2643.5 L1707.2 2640.8 L1709.2 2638 L1711.2 2635.1 L1713.2 2632.2 L1715.2 2629.3 L1717.2 2626.6 L1719.2 2624 L1721.2 2621.7 L1723.2 2619.5 L1725.2 2617.6 L1727.2 2616 L1729.2 2614.6 L1731.2 2613.6 L1733.2 2612.8 L1735.2 2612.4 L1737.2 2612.3 L1739.2 2612.5 L1741.2 2613.1 L1743.2 2614 L1745.2 2615.2 L1747.2 2616.8 L1749.2 2618.6 L1751.2 2620.8 L1753.2 2623.3 L1755.2 2626.1 L1757.2 2629.2 L1759.2 2632.6 L1761.2 2636.2 L1763.2 2640.1 L1765.2 2644.3 L1767.2 2648.7 L1769.2 2653.4 L1771.2 2658.2 L1773.2 2663.3 L1775.2 2668.6 L1777.2 2674 L1779.2 2679.6 L1781.2 2685.4 L1783.2 2691.3 L1785.2 2697.3 L1787.2 2703.4 L1789.2 2709.6 L1791.2 2715.9 L1793.2 2722.2 L1795.2 2728.6 L1797.2 2735 L1799.2 2741.5 L1801.2 2747.9 L1803.2 2754.4 L1805.2 2760.8 L1807.2 2767.2 L1809.2 2773.6 L1811.2 2779.9 L1813.2 2786.1 L1815.2 2792.3 L1817.2 2798.4 L1819.2 2804.4 L1821.2 2810.3 L1823.2 2816.1 L1825.2 2821.7 L1827.2 2827.3 L1829.2 2832.7 L1831.2 2838 L1833.2 2843.2 L1835.2 2848.2 L1837.2 2853.1 L1839.2 2857.8 L1841.2 2862.4 L1843.2 2866.8 L1845.2 2871.1 L1847.2 2875.2 L1849.2 2879.2 L1851.2 2883 L1853.2 2886.6 L1855.2 2890.1 L1857.2 2893.4 L1859.2 2896.6 L1861.2 2899.6 L1863.2 2902.4 L1865.2 2905.1 L1867.2 2907.6 L1869.2 2909.9 L1871.2 2912 L1873.2 2914 L1875.2 2915.8 L1877.2 2917.3 L1879.2 2918.7 L1881.2 2919.9 L1883.2 2920.8 L1885.2 2921.6 L1887.2 2922 L1889.2 2922.2 L1891.2 2922.2 L1893.2 2921.8 L1895.2 2921.1 L1897.2 2920.1 L1899.2 2918.8 L1901.2 2917.1 L1903.2 2914.9 L1905.2 2912.4 L1907.2 2909.5 L1909.2 2906.1 L1911.2 2902.2 L1913.2 2897.8 L1915.2 2892.9 L1917.2 2887.5 L1919.2 2881.5 L1921.2 2875.1 L1923.2 2868 L1925.2 2860.5 L1927.2 2852.4 L1929.2 2843.8 L1931.2 2834.7 L1933.2 2825.1 L1935.2 2815.1 L1937.2 2804.7 L1939.2 2793.9 L1941.2 2782.9 L1943.2 2771.5 L1945.2 2760 L1947.2 2748.4 L1949.2 2736.7 L1951.2 2725.1 L1953.2 2713.5 L1955.2 2702.2 L1957.2 2691.1 L1959.2 2680.3 L1961.2 2670 L1963.2 2660.2 L1965.2 2650.9 L1967.2 2642.2 L1969.2 2634.3 L1971.2 2627 L1973.2 2620.6 L1975.2 2615 L1977.2 2610.2 L1979.2 2606.3 L1981.2 2603.3 L1983.2 2601.2 L1985.2 2599.9 L1987.2 2599.5 L1989.2 2599.9 L1991.2 2601.1 L1993.2 2603 L1995.2 2605.7 L1997.2 2609 L1999.2 2612.9 L2001.2 2617.4 L2003.2 2622.4 L2005.2 2627.8 L2007.2 2633.5 L2009.2 2639.6 L2011.2 2645.9 L2013.2 2652.5 L2015.2 2659.1 L2017.2 2665.9 L2019.2 2672.7 L2021.2 2679.5 L2023.2 2686.2 L2025.2 2692.9 L2027.2 2699.4 L2029.2 2705.8 L2031.2 2712.1 L2033.2 2718.1 L2035.2 2723.9 L2037.2 2729.5 L2039.2 2734.9 L2041.2 2740 L2043.2 2744.8 L2045.2 2749.4 L2047.2 2753.7 L2049.2 2757.7 L2051.2 2761.4 L2053.2 2764.9 L2055.2 2768 L2057.2 2770.9 L2059.2 2773.5 L2061.2 2775.8 L2063.2 2777.8 L2065.2 2779.5 L2067.2 2781 L2069.2 2782.1 L2071.2 2783 L2073.2 2783.7 L2075.2 2784.1 L2077.2 2784.2 L2079.2 2784.1 L2081.2 2783.7 L2083.2 2783.2 L2085.2 2782.4 L2087.2 2781.4 L2089.2 2780.2 L2091.2 2778.8 L2093.2 2777.3 L2095.2 2775.6 L2097.2 2773.8 L2099.2 2771.9 L2101.2 2769.8 L2103.2 2767.7 L2105.2 2765.5 L2107.2 2763.3 L2109.2 2761 L2111.2 2758.7 L2113.2 2756.4 L2115.2 2754.1 L2117.2 2751.9 L2119.2 2749.7 L2121.2 2747.5 L2123.2 2745.5 L2125.2 2743.5 L2127.2 2741.7 L2129.2 2739.9 L2131.2 2738.4 L2133.2 2736.9 L2135.2 2735.6 L2137.2 2734.5 L2139.2 2733.6 L2141.2 2732.8 L2143.2 2732.3 L2145.2 2731.9 L2147.2 2731.8 L2149.2 2731.8 L2151.2 2732.1 L2153.2 2732.6 L2155.2 2733.3 L2157.2 2734.2 L2159.2 2735.3 L2161.2 2736.7 L2163.2 2738.2 L2165.2 2740 L2167.2 2741.9 L2169.2 2744.1 L2171.2 2746.5 L2173.2 2749 L2175.2 2751.7 L2177.2 2754.6 L2179.2 2757.7 L2181.2 2760.9 L2183.2 2764.3 L2185.2 2767.8 L2187.2 2771.4 L2189.2 2775.1 L2191.2 2779 L2193.2 2782.9 L2195.2 2787 L2197.2 2791.1 L2199.2 2795.3 L2201.2 2799.5 L2203.2 2803.8 L2205.2 2808.1 L2207.2 2812.4 L2209.2 2816.8 L2211.2 2821.2 L2213.2 2825.5 L2215.2 2829.9 L2217.2 2834.2 L2219.2 2838.5 L2221.2 2842.7 L2223.2 2846.9 L2225.2 2851.1 L2227.2 2855.2 L2229.2 2859.2 L2231.2 2863.2 L2233.2 2867.1 L2235.2 2870.9 L2237.2 2874.6 L2239.2 2878.2 L2241.2 2881.8 L2243.2 2885.2 L2245.2 2888.5 L2247.2 2891.8 L2249.2 2894.9 L2251.2 2898 L2253.2 2900.9 L2255.2 2903.7 L2257.2 2906.5 L2259.2 2909.1 L2261.2 2911.6 L2263.2 2914 L2265.2 2916.3 L2267.2 2918.5 L2269.2 2920.6 L2271.2 2922.6 L2273.2 2924.6 L2275.2 2926.4 L2277.2 2928.1 L2279.2 2929.8 L2281.2 2931.3 L2283.2 2932.8 L2285.2 2934.2 L2287.2 2935.5 L2289.2 2936.7 L2291.2 2937.9 L2293.2 2939 L2295.2 2940 L2297.2 2941 L2299.2 2941.9 L2301.2 2942.8 L2303.2 2943.6 L2305.2 2944.3 L2307.2 2945 L2309.2 2945.6 L2311.2 2946.2 L2313.2 2946.8 L2315.2 2947.3 L2317.2 2947.8 L2319.2 2948.2 L2321.2 2948.6 L2323.2 2949 L2325.2 2949.4 L2327.2 2949.7 L2329.2 2950 L2331.2 2950.3 L2333.2 2950.5 L2335.2 2950.8 L2337.2 2951 L2339.2 2951.2 L2341.2 2951.4 L2343.2 2951.5 L2345.2 2951.7 L2347.2 2951.8 L2349.2 2952" fill="none" stroke="#000" stroke-width="3.6"/>
<rect x="1323.9" y="2089.3" width="1096.4" height="878.9" fill="none" stroke="#000" stroke-width="3.7"/>
<path d="M1324.6 2968.2v17.5M1446.3 2968.2v17.5M1568.1 2968.2v17.5M1689.8 2968.2v17.5M1811.6 2968.2v17.5M1933.3 2968.2v17.5M2055.1 2968.2v17.5M2176.8 2968.2v17.5M2298.6 2968.2v17.5M2420.3 2968.2v17.5" stroke="#000" stroke-width="3.2" fill="none"/>
<path d="M1385.5 2968.2v9.5M1507.2 2968.2v9.5M1629 2968.2v9.5M1750.7 2968.2v9.5M1872.5 2968.2v9.5M1994.2 2968.2v9.5M2116 2968.2v9.5M2237.7 2968.2v9.5M2359.5 2968.2v9.5" stroke="#000" stroke-width="3.2" fill="none"/>
<text font-size="40.1" text-anchor="middle" transform="translate(1324.6 3027.2) scale(0.919 1)">770</text><text font-size="40.1" text-anchor="middle" transform="translate(1446.3 3027.2) scale(0.919 1)">775</text><text font-size="40.1" text-anchor="middle" transform="translate(1568.1 3027.2) scale(0.919 1)">780</text><text font-size="40.1" text-anchor="middle" transform="translate(1689.8 3027.2) scale(0.919 1)">785</text><text font-size="40.1" text-anchor="middle" transform="translate(1811.6 3027.2) scale(0.919 1)">790</text><text font-size="40.1" text-anchor="middle" transform="translate(1933.3 3027.2) scale(0.919 1)">795</text><text font-size="40.1" text-anchor="middle" transform="translate(2055.1 3027.2) scale(0.919 1)">800</text><text font-size="40.1" text-anchor="middle" transform="translate(2176.8 3027.2) scale(0.919 1)">805</text><text font-size="40.1" text-anchor="middle" transform="translate(2298.6 3027.2) scale(0.919 1)">810</text><text font-size="40.1" text-anchor="middle" transform="translate(2420.3 3027.2) scale(0.919 1)">815</text>
<text font-size="53" text-anchor="middle" transform="translate(1871.8 3104.9) scale(0.872 1)">Binding energy, eV</text>
<text font-size="48" text-anchor="middle" transform="translate(1286.5 2528.6) rotate(-90) scale(0.962 1)">Intensity, arb.u.</text>
<text x="1339" y="2171.9" font-size="51.5">Co 2p</text>
<text x="1570.5" y="2146.6" font-size="46">2p<tspan font-size="31" dy="11">3/2</tspan></text>
<text x="1944.5" y="2530.2" font-size="46">2p<tspan font-size="31" dy="11">1/2</tspan></text>
<text x="1719" y="2565.3" font-size="46">sat.</text>
<text x="2115" y="2655.7" font-size="46">sat.</text>
<text x="1595.9" y="2667.8" font-size="44.5" text-anchor="middle" font-weight="bold" fill="#fff">3+</text>
<text x="1654.6" y="2882.8" font-size="44.5" text-anchor="middle" font-weight="bold" fill="#fff">2+</text>
<text x="1970.3" y="2814.4" font-size="44.5" text-anchor="middle" font-weight="bold" fill="#fff">3+</text>
<text x="2018.5" y="2905.1" font-size="44.5" text-anchor="middle" font-weight="bold" fill="#fff">2+</text>
<text font-size="94.5" class="ser" text-anchor="middle" font-weight="bold" transform="translate(2340.3 2212.8) scale(1.060 1)">(f)</text>
</g>
</svg>
</body></html>
